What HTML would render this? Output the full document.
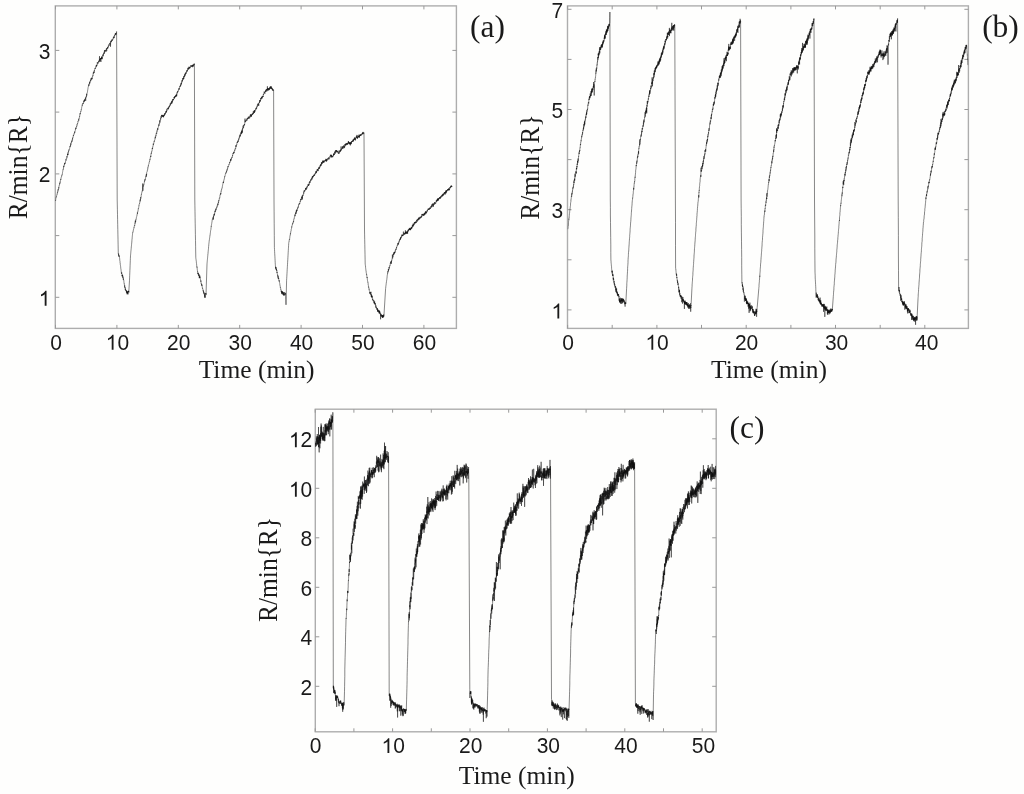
<!DOCTYPE html>
<html><head><meta charset="utf-8"><style>
html,body{margin:0;padding:0;background:#fefefd;}
body{width:1024px;height:794px;overflow:hidden;position:relative;}
svg{position:absolute;left:0;top:0;will-change:transform;}
.t{font-family:"Liberation Sans",sans-serif;font-size:21px;fill:#1a1a1a;}
.s{font-family:"Liberation Serif",serif;fill:#1a1a1a;}
</style></head><body>
<svg width="1024" height="794" viewBox="0 0 1024 794">
<rect x="55.3" y="5.9" width="401.1" height="322.5" fill="none" stroke="#adadad" stroke-width="1.4"/>
<path d="M55.5 328.4v-3.5M55.5 5.9v3.5M116.9 328.4v-3.5M116.9 5.9v3.5M178.3 328.4v-3.5M178.3 5.9v3.5M239.7 328.4v-3.5M239.7 5.9v3.5M301.1 328.4v-3.5M301.1 5.9v3.5M362.5 328.4v-3.5M362.5 5.9v3.5M423.9 328.4v-3.5M423.9 5.9v3.5M55.3 297.3h4M456.4 297.3h-4M55.3 235.6h4M456.4 235.6h-4M55.3 173.9h4M456.4 173.9h-4M55.3 112.1h4M456.4 112.1h-4M55.3 50.4h4M456.4 50.4h-4" stroke="#999" stroke-width="1" fill="none"/>
<rect x="567.5" y="5.9" width="400.9" height="322.5" fill="none" stroke="#adadad" stroke-width="1.4"/>
<path d="M567.6 328.4v-3.5M567.6 5.9v3.5M612.2 328.4v-3.5M612.2 5.9v3.5M656.9 328.4v-3.5M656.9 5.9v3.5M701.5 328.4v-3.5M701.5 5.9v3.5M746.2 328.4v-3.5M746.2 5.9v3.5M790.9 328.4v-3.5M790.9 5.9v3.5M835.5 328.4v-3.5M835.5 5.9v3.5M880.2 328.4v-3.5M880.2 5.9v3.5M924.8 328.4v-3.5M924.8 5.9v3.5M567.5 309.9h4M968.4 309.9h-4M567.5 259.8h4M968.4 259.8h-4M567.5 209.7h4M968.4 209.7h-4M567.5 159.6h4M968.4 159.6h-4M567.5 109.5h4M968.4 109.5h-4M567.5 59.4h4M968.4 59.4h-4M567.5 9.3h4M968.4 9.3h-4" stroke="#999" stroke-width="1" fill="none"/>
<rect x="315.3" y="409.2" width="400.9" height="322.6" fill="none" stroke="#adadad" stroke-width="1.4"/>
<path d="M315.2 731.8v-3.5M315.2 409.2v3.5M353.9 731.8v-3.5M353.9 409.2v3.5M392.6 731.8v-3.5M392.6 409.2v3.5M431.3 731.8v-3.5M431.3 409.2v3.5M470.0 731.8v-3.5M470.0 409.2v3.5M508.7 731.8v-3.5M508.7 409.2v3.5M547.4 731.8v-3.5M547.4 409.2v3.5M586.1 731.8v-3.5M586.1 409.2v3.5M624.8 731.8v-3.5M624.8 409.2v3.5M663.5 731.8v-3.5M663.5 409.2v3.5M702.2 731.8v-3.5M702.2 409.2v3.5M315.3 686.3h4M716.2 686.3h-4M315.3 636.8h4M716.2 636.8h-4M315.3 587.3h4M716.2 587.3h-4M315.3 537.8h4M716.2 537.8h-4M315.3 488.3h4M716.2 488.3h-4M315.3 438.8h4M716.2 438.8h-4" stroke="#999" stroke-width="1" fill="none"/>
<clipPath id="cpa"><rect x="55.3" y="5.9" width="401.1" height="322.5"/></clipPath>
<path clip-path="url(#cpa)" d="M55.4,200.8 55.5,200.0 55.6,200.5 55.7,199.7 55.8,198.6 55.9,198.1 56.0,197.6 56.1,197.2 56.2,197.4 56.3,197.0 56.4,196.3 56.5,196.6 56.6,196.2 56.7,195.4 56.8,195.0 56.9,194.9 57.0,195.0 57.1,193.6 57.2,193.6 57.3,193.7 57.4,192.4 57.5,191.9 57.6,192.5 57.7,191.8 57.8,191.0 57.9,190.6 58.0,191.2 58.1,190.2 58.2,189.1 58.3,189.8 58.4,189.2 58.5,188.6 58.6,188.3 58.7,187.4 58.8,188.4 58.9,186.9 59.0,186.4 59.1,185.7 59.2,185.8 59.3,185.5 59.4,185.0 59.5,184.7 59.6,183.4 59.7,184.2 59.8,184.0 59.9,182.9 60.0,183.1 60.1,181.8 60.2,182.3 60.3,181.4 60.4,180.7 60.5,180.5 60.6,179.8 60.7,179.3 60.8,180.0 60.9,178.6 61.0,178.6 61.1,178.4 61.2,177.2 61.3,177.2 61.4,176.8 61.5,176.6 61.6,176.7 61.7,175.3 61.8,175.5 61.9,175.6 62.0,175.5 62.1,174.7 62.2,174.9 62.3,174.0 62.4,173.5 62.5,172.7 62.6,172.1 62.7,171.5 62.8,171.3 62.9,170.2 63.0,169.8 63.1,170.0 63.2,168.9 63.3,169.1 63.4,169.1 63.5,168.2 63.6,166.9 63.7,165.8 63.8,167.1 63.9,167.1 64.0,166.2 64.1,166.1 64.2,165.7 64.3,164.6 64.4,164.2 64.5,164.5 64.6,163.0 64.7,164.2 64.8,163.7 64.9,163.5 65.0,162.9 65.1,163.5 65.2,162.7 65.3,162.2 65.4,162.4 65.5,161.4 65.6,161.4 65.7,160.9 65.8,160.5 65.9,159.4 66.0,160.4 66.1,160.4 66.2,159.0 66.3,158.5 66.4,158.7 66.5,158.6 66.6,158.7 66.7,158.6 66.8,158.5 66.9,156.4 67.0,157.4 67.1,156.2 67.2,156.2 67.3,155.7 67.4,155.7 67.5,155.2 67.6,153.8 67.7,155.0 67.8,153.9 67.9,155.1 68.0,152.8 68.1,152.5 68.2,153.3 68.3,152.2 68.4,151.9 68.5,150.9 68.6,151.5 68.7,150.5 68.8,150.4 68.9,149.7 69.0,150.4 69.1,150.3 69.2,149.4 69.3,149.4 69.4,149.2 69.5,149.2 69.6,148.7 69.7,147.8 69.8,147.3 69.9,146.6 70.0,146.2 70.1,146.1 70.2,147.1 70.3,145.9 70.4,145.7 70.5,144.9 70.6,145.7 70.7,143.9 70.8,143.4 70.9,144.7 71.0,143.3 71.1,143.0 71.2,142.7 71.3,142.1 71.4,142.5 71.5,142.4 71.6,141.6 71.7,141.0 71.8,141.0 71.9,141.9 72.0,140.3 72.1,140.3 72.2,140.8 72.3,139.2 72.4,139.3 72.5,138.4 72.6,139.4 72.7,137.9 72.8,137.6 72.9,137.9 73.0,137.2 73.1,136.8 73.2,136.7 73.3,135.6 73.4,134.9 73.5,135.7 73.6,134.9 73.7,135.1 73.8,134.9 73.9,134.8 74.0,134.3 74.1,133.6 74.2,133.9 74.3,133.5 74.4,133.2 74.5,132.7 74.6,131.7 74.7,132.9 74.8,132.8 74.9,131.4 75.0,131.4 75.1,131.4 75.2,130.9 75.3,130.5 75.4,129.5 75.5,129.8 75.6,129.1 75.7,127.7 75.8,128.9 75.9,128.8 76.0,128.3 76.1,128.5 76.2,128.0 76.3,127.8 76.4,126.9 76.5,126.7 76.6,126.2 76.7,126.6 76.8,125.8 76.9,125.8 77.0,124.7 77.1,125.2 77.2,124.3 77.3,124.1 77.4,123.5 77.5,123.9 77.6,123.7 77.7,122.9 77.8,122.7 77.9,122.6 78.0,121.1 78.1,121.4 78.2,121.1 78.3,120.7 78.4,120.6 78.5,120.2 78.6,119.3 78.7,120.3 78.8,120.6 78.9,119.8 79.0,118.5 79.1,118.8 79.2,118.2 79.3,117.9 79.4,117.2 79.5,116.3 79.6,116.6 79.7,116.7 79.8,114.7 79.9,114.8 80.0,113.7 80.1,113.9 80.2,113.3 80.3,114.1 80.4,113.3 80.5,112.6 80.6,112.3 80.7,111.3 80.8,111.6 80.9,111.6 81.0,111.3 81.1,111.2 81.2,109.8 81.3,109.1 81.4,109.4 81.5,109.0 81.6,108.4 81.7,107.4 81.8,107.3 81.9,106.8 82.0,106.0 82.1,105.8 82.2,104.7 82.3,105.5 82.4,105.2 82.5,105.2 82.6,104.5 82.7,103.6 82.8,103.5 82.9,103.9 83.0,103.3 83.1,103.4 83.2,102.9 83.3,103.6 83.4,102.9 83.5,102.3 83.6,101.9 83.7,100.9 83.8,100.6 83.9,101.3 84.0,102.2 84.1,101.0 84.2,100.9 84.3,100.5 84.4,101.4 84.5,100.0 84.6,100.8 84.7,99.2 84.8,100.3 84.9,100.7 85.0,99.6 85.1,99.3 85.2,98.8 85.3,99.1 85.4,98.7 85.5,97.5 85.6,99.3 85.7,100.8 85.8,98.2 85.9,97.5 86.0,97.6 86.1,96.7 86.2,97.2 86.3,97.2 86.4,96.1 86.5,96.5 86.6,93.8 86.7,95.7 86.8,95.1 86.9,94.5 87.0,93.6 87.1,93.0 87.2,92.8 87.3,92.5 87.4,91.9 87.5,91.8 87.6,90.8 87.7,90.0 87.8,89.5 87.9,89.1 88.0,88.2 88.1,87.4 88.2,87.1 88.3,87.0 88.4,86.1 88.5,86.1 88.6,85.2 88.7,85.6 88.8,84.4 88.9,84.4 89.0,85.6 89.1,84.0 89.2,84.1 89.3,83.5 89.4,83.0 89.5,83.4 89.6,82.2 89.7,83.6 89.8,81.6 89.9,82.2 90.0,82.4 90.1,82.3 90.2,81.8 90.3,81.3 90.4,80.7 90.5,81.0 90.6,80.2 90.7,81.2 90.8,80.9 90.9,79.4 91.0,78.5 91.1,79.9 91.2,78.9 91.3,79.1 91.4,78.3 91.5,78.2 91.6,78.8 91.7,79.2 91.8,77.9 91.9,77.6 92.0,78.1 92.1,79.2 92.2,79.0 92.3,77.3 92.4,76.7 92.5,76.3 92.6,76.1 92.7,76.4 92.8,75.8 92.9,75.1 93.0,75.6 93.1,74.2 93.2,73.8 93.3,72.6 93.4,73.4 93.5,72.5 93.6,73.3 93.7,73.3 93.8,72.7 93.9,72.0 94.0,71.5 94.1,73.0 94.2,70.8 94.3,71.2 94.4,70.2 94.5,70.6 94.6,69.8 94.7,69.5 94.8,68.7 94.9,68.8 95.0,68.3 95.1,68.5 95.2,67.9 95.3,68.6 95.4,68.5 95.5,68.7 95.6,68.2 95.7,67.2 95.8,66.6 95.9,67.2 96.0,66.9 96.1,66.8 96.2,66.2 96.3,65.0 96.4,66.0 96.5,66.5 96.6,65.2 96.7,66.0 96.8,66.0 96.9,64.7 97.0,65.1 97.1,65.1 97.2,64.6 97.3,62.3 97.4,63.0 97.5,63.2 97.6,63.2 97.7,63.5 97.8,62.8 97.9,63.3 98.0,62.6 98.1,63.2 98.2,62.5 98.3,62.3 98.4,62.2 98.5,62.2 98.6,62.0 98.7,60.7 98.8,62.2 98.9,62.2 99.0,61.4 99.1,61.1 99.2,61.0 99.3,61.3 99.4,59.6 99.5,56.2 99.6,60.4 99.7,60.4 99.8,61.5 99.9,59.0 100.0,60.8 100.1,59.5 100.2,59.8 100.3,60.2 100.4,58.8 100.5,58.6 100.6,58.0 100.7,59.1 100.8,58.1 100.9,62.0 101.0,58.1 101.1,59.0 101.2,58.9 101.3,58.8 101.4,57.8 101.5,56.5 101.6,59.0 101.7,57.3 101.8,58.8 101.9,58.3 102.0,59.3 102.1,57.0 102.2,58.5 102.3,57.0 102.4,56.7 102.5,56.4 102.6,56.3 102.7,55.8 102.8,55.5 102.9,56.5 103.0,54.7 103.1,55.8 103.2,54.3 103.3,55.2 103.4,54.8 103.5,54.0 103.6,53.7 103.7,53.1 103.8,52.7 103.9,53.7 104.0,52.9 104.1,53.6 104.2,53.8 104.3,52.0 104.4,50.8 104.5,51.7 104.6,52.8 104.7,50.0 104.8,50.7 104.9,50.4 105.0,50.6 105.1,50.5 105.2,50.7 105.3,51.2 105.4,50.0 105.5,50.2 105.6,50.1 105.7,50.6 105.8,51.2 105.9,51.9 106.0,51.2 106.1,50.8 106.2,49.2 106.3,49.4 106.4,48.5 106.5,49.7 106.6,49.5 106.7,51.1 106.8,49.3 106.9,48.2 107.0,48.8 107.1,48.5 107.2,49.0 107.3,48.2 107.4,47.4 107.5,47.3 107.6,48.1 107.7,47.3 107.8,48.4 107.9,47.5 108.0,47.6 108.1,47.8 108.2,46.6 108.3,45.8 108.4,46.7 108.5,46.3 108.6,46.0 108.7,45.5 108.8,44.5 108.9,45.3 109.0,45.4 109.1,45.5 109.2,45.8 109.3,45.4 109.4,44.7 109.5,43.5 109.6,43.3 109.7,43.2 109.8,43.2 109.9,44.0 110.0,44.5 110.1,43.2 110.2,43.3 110.3,42.6 110.4,42.4 110.5,46.7 110.6,43.4 110.7,41.3 110.8,40.8 110.9,41.8 111.0,42.2 111.1,41.9 111.2,41.1 111.3,42.1 111.4,42.0 111.5,40.4 111.6,40.8 111.7,40.9 111.8,39.8 111.9,39.8 112.0,40.3 112.1,39.6 112.2,40.3 112.3,39.7 112.4,40.5 112.5,39.9 112.6,39.7 112.7,39.6 112.8,39.8 112.9,39.4 113.0,38.6 113.1,38.5 113.2,37.9 113.3,38.3 113.4,37.2 113.5,37.4 113.6,37.0 113.7,37.2 113.8,38.2 113.9,36.9 114.0,36.2 114.1,37.1 114.2,37.8 114.3,36.5 114.4,35.6 114.5,35.2 114.6,35.8 114.7,36.0 114.8,35.9 114.9,34.9 115.0,34.5 115.1,34.6 115.2,33.8 115.3,34.6 115.4,33.5 115.5,34.1 115.6,33.6 115.7,34.8 115.8,33.3 115.9,33.2 116.0,33.3 116.1,34.4 116.2,33.2 116.3,33.4 116.4,32.4 116.5,32.4 116.6,31.5 117.2,200.0 117.3,204.9 117.4,209.8 117.5,214.7 117.6,219.6 117.7,224.5 117.8,229.4 117.9,234.2 118.0,239.1 118.1,244.1 118.2,248.9 118.3,253.8 118.4,253.9 118.5,254.8 118.6,253.5 118.7,256.3 118.8,255.2 118.9,254.9 119.0,255.9 119.1,256.6 119.2,256.7 119.3,255.8 119.4,256.7 119.5,257.5 119.6,258.0 119.7,258.9 119.8,260.6 119.9,260.7 120.0,261.5 120.1,262.9 120.2,263.0 120.3,264.7 120.4,265.2 120.5,265.5 120.6,266.4 120.7,267.1 120.8,268.6 120.9,268.7 121.0,269.6 121.1,270.5 121.2,271.2 121.3,272.3 121.4,273.3 121.5,273.9 121.6,272.3 121.7,272.3 121.8,272.8 121.9,273.9 122.0,274.1 122.1,276.0 122.2,274.9 122.3,276.7 122.4,275.6 122.5,276.1 122.6,274.8 122.7,275.8 122.8,277.3 122.9,278.0 123.0,276.6 123.1,278.2 123.2,278.6 123.3,279.7 123.4,278.4 123.5,280.0 123.6,280.1 123.7,279.9 123.8,280.7 123.9,281.5 124.0,282.6 124.1,283.2 124.2,283.0 124.3,283.8 124.4,285.3 124.5,285.6 124.6,286.8 124.7,285.4 124.8,287.6 124.9,287.0 125.0,287.7 125.1,288.1 125.2,287.7 125.3,290.1 125.4,288.6 125.5,289.0 125.6,290.3 125.7,290.6 125.8,289.8 125.9,290.5 126.0,290.7 126.1,290.9 126.2,290.9 126.3,290.4 126.4,292.3 126.5,290.6 126.6,292.2 126.7,291.3 126.8,292.4 126.9,292.9 127.0,291.7 127.1,294.3 127.2,291.9 127.3,293.6 127.4,291.7 127.5,293.4 127.6,292.1 127.7,291.3 127.8,293.1 127.9,293.2 128.0,294.4 128.1,294.2 128.2,292.0 128.3,290.8 128.4,292.0 128.5,290.9 128.6,291.8 128.7,291.0 128.8,292.6 128.9,290.3 129.5,280.3 129.6,277.9 129.7,275.4 129.8,272.9 129.9,270.4 130.0,268.0 130.1,265.6 130.2,263.1 130.3,260.7 130.4,258.3 130.5,255.8 130.6,254.8 130.7,253.8 130.8,252.4 130.9,251.4 131.0,250.4 131.1,249.4 131.2,248.6 131.3,247.0 131.4,246.2 131.5,245.3 131.6,244.3 131.7,243.1 131.8,242.1 131.9,240.8 132.0,239.4 132.1,239.0 132.2,237.5 132.3,236.4 132.4,235.4 132.5,234.4 132.6,233.3 132.7,232.7 132.8,232.9 132.9,231.9 133.0,231.5 133.1,231.4 133.2,231.5 133.3,230.3 133.4,229.9 133.5,229.9 133.6,229.1 133.7,229.0 133.8,228.4 133.9,227.8 134.0,227.3 134.1,227.6 134.2,226.6 134.3,226.5 134.4,225.6 134.5,225.5 134.6,225.9 134.7,226.0 134.8,224.5 134.9,223.8 135.0,222.8 135.1,223.4 135.2,223.2 135.3,220.7 135.4,222.4 135.5,221.6 135.6,220.7 135.7,221.5 135.8,219.8 135.9,220.0 136.0,219.4 136.1,219.0 136.2,219.1 136.3,218.1 136.4,217.5 136.5,216.8 136.6,216.7 136.7,216.6 136.8,216.3 136.9,216.0 137.0,214.7 137.1,214.7 137.2,214.0 137.3,213.9 137.4,212.5 137.5,213.7 137.6,212.4 137.7,211.8 137.8,211.4 137.9,211.5 138.0,211.2 138.1,210.3 138.2,210.0 138.3,208.4 138.4,208.8 138.5,208.5 138.6,208.4 138.7,207.6 138.8,207.1 138.9,205.9 139.0,205.1 139.1,205.3 139.2,204.4 139.3,204.1 139.4,203.9 139.5,203.3 139.6,203.6 139.7,202.7 139.8,202.7 139.9,201.9 140.0,200.5 140.1,200.4 140.2,201.3 140.3,199.3 140.4,200.3 140.5,198.9 140.6,197.4 140.7,197.2 140.8,198.6 140.9,197.5 141.0,196.9 141.1,196.9 141.2,195.6 141.3,194.7 141.4,195.0 141.5,194.4 141.6,193.3 141.7,193.3 141.8,192.5 141.9,192.0 142.0,191.7 142.1,191.4 142.2,190.8 142.3,191.2 142.4,190.8 142.5,190.1 142.6,189.5 142.7,183.5 142.8,189.0 142.9,190.8 143.0,187.7 143.1,186.8 143.2,186.6 143.3,185.8 143.4,185.6 143.5,186.3 143.6,185.6 143.7,184.5 143.8,184.9 143.9,184.4 144.0,183.9 144.1,183.4 144.2,183.1 144.3,182.7 144.4,181.6 144.5,182.0 144.6,181.0 144.7,180.3 144.8,181.0 144.9,180.5 145.0,179.2 145.1,179.9 145.2,178.9 145.3,179.1 145.4,178.8 145.5,178.3 145.6,177.5 145.7,177.5 145.8,176.3 145.9,176.3 146.0,176.7 146.1,175.5 146.2,174.8 146.3,174.4 146.4,176.5 146.5,173.9 146.6,174.7 146.7,172.6 146.8,172.2 146.9,172.0 147.0,171.9 147.1,171.5 147.2,170.8 147.3,170.9 147.4,170.2 147.5,170.2 147.6,169.4 147.7,169.5 147.8,167.8 147.9,168.1 148.0,167.2 148.1,166.7 148.2,166.7 148.3,165.7 148.4,166.1 148.5,165.7 148.6,164.7 148.7,164.4 148.8,164.0 148.9,163.8 149.0,163.2 149.1,163.2 149.2,162.1 149.3,161.9 149.4,161.7 149.5,161.0 149.6,161.3 149.7,161.0 149.8,159.6 149.9,159.0 150.0,159.2 150.1,159.5 150.2,158.5 150.3,157.7 150.4,157.2 150.5,156.7 150.6,156.7 150.7,155.9 150.8,157.0 150.9,154.8 151.0,154.4 151.1,154.2 151.2,153.3 151.3,153.9 151.4,153.2 151.5,151.9 151.6,152.2 151.7,151.5 151.8,151.5 151.9,151.1 152.0,151.2 152.1,150.6 152.2,149.7 152.3,148.0 152.4,148.8 152.5,147.9 152.6,148.4 152.7,147.0 152.8,146.5 152.9,146.6 153.0,146.3 153.1,146.1 153.2,145.3 153.3,143.6 153.4,144.8 153.5,144.1 153.6,144.1 153.7,143.7 153.8,142.9 153.9,142.7 154.0,141.8 154.1,141.5 154.2,141.9 154.3,140.8 154.4,140.9 154.5,141.2 154.6,140.3 154.7,140.3 154.8,140.1 154.9,139.6 155.0,138.4 155.1,137.7 155.2,138.3 155.3,136.7 155.4,137.2 155.5,137.8 155.6,136.5 155.7,136.7 155.8,136.2 155.9,134.9 156.0,135.5 156.1,134.8 156.2,133.6 156.3,133.9 156.4,132.7 156.5,132.7 156.6,132.8 156.7,133.6 156.8,132.2 156.9,131.2 157.0,130.7 157.1,131.4 157.2,131.1 157.3,129.7 157.4,129.4 157.5,129.5 157.6,128.2 157.7,129.4 157.8,130.0 157.9,128.6 158.0,128.7 158.1,127.6 158.2,127.5 158.3,127.3 158.4,126.7 158.5,126.8 158.6,126.2 158.7,125.7 158.8,124.5 158.9,125.9 159.0,124.7 159.1,124.4 159.2,124.6 159.3,123.1 159.4,122.8 159.5,122.9 159.6,123.4 159.7,122.7 159.8,120.3 159.9,122.5 160.0,121.1 160.1,120.7 160.2,120.4 160.3,120.4 160.4,120.4 160.5,118.6 160.6,119.1 160.7,118.7 160.8,119.3 160.9,117.1 161.0,117.0 161.1,117.0 161.2,116.1 161.3,117.9 161.4,116.6 161.5,115.2 161.6,115.8 161.7,116.1 161.8,115.6 161.9,115.9 162.0,114.8 162.1,116.1 162.2,116.4 162.3,115.6 162.4,116.0 162.5,116.9 162.6,115.3 162.7,115.5 162.8,115.8 162.9,115.2 163.0,115.3 163.1,116.3 163.2,116.0 163.3,117.2 163.4,114.8 163.5,115.4 163.6,117.2 163.7,115.9 163.8,115.4 163.9,115.7 164.0,115.8 164.1,115.9 164.2,115.1 164.3,115.4 164.4,115.6 164.5,115.8 164.6,113.8 164.7,115.0 164.8,113.5 164.9,113.8 165.0,114.2 165.1,113.0 165.2,114.1 165.3,113.9 165.4,113.4 165.5,112.5 165.6,112.8 165.7,112.2 165.8,111.8 165.9,112.4 166.0,112.4 166.1,111.1 166.2,112.5 166.3,111.2 166.4,110.9 166.5,112.1 166.6,110.9 166.7,111.1 166.8,109.4 166.9,110.6 167.0,109.8 167.1,109.2 167.2,109.3 167.3,108.4 167.4,108.8 167.5,109.1 167.6,109.2 167.7,109.1 167.8,108.3 167.9,108.7 168.0,108.4 168.1,108.8 168.2,107.9 168.3,107.3 168.4,107.2 168.5,109.3 168.6,108.0 168.7,107.5 168.8,107.8 168.9,107.1 169.0,106.9 169.1,106.0 169.2,106.4 169.3,107.2 169.4,106.0 169.5,106.3 169.6,105.8 169.7,106.2 169.8,105.3 169.9,105.9 170.0,104.1 170.1,104.0 170.2,103.9 170.3,103.3 170.4,104.2 170.5,104.1 170.6,105.2 170.7,103.4 170.8,103.1 170.9,103.3 171.0,103.4 171.1,102.5 171.2,102.3 171.3,103.9 171.4,103.4 171.5,102.4 171.6,103.2 171.7,101.2 171.8,100.8 171.9,101.5 172.0,101.1 172.1,103.3 172.2,101.0 172.3,101.7 172.4,101.1 172.5,100.8 172.6,101.1 172.7,99.2 172.8,100.9 172.9,100.0 173.0,99.7 173.1,99.2 173.2,99.8 173.3,99.2 173.4,99.8 173.5,99.2 173.6,99.6 173.7,98.6 173.8,98.5 173.9,98.4 174.0,97.8 174.1,97.0 174.2,98.1 174.3,97.2 174.4,97.2 174.5,98.6 174.6,96.5 174.7,98.0 174.8,97.3 174.9,97.1 175.0,96.2 175.1,96.8 175.2,96.1 175.3,96.5 175.4,96.3 175.5,95.7 175.6,96.8 175.7,95.6 175.8,96.5 175.9,96.0 176.0,95.1 176.1,95.5 176.2,94.6 176.3,95.5 176.4,96.3 176.5,94.4 176.6,94.7 176.7,96.2 176.8,93.6 176.9,94.3 177.0,93.9 177.1,92.4 177.2,93.0 177.3,92.9 177.4,92.0 177.5,91.8 177.6,92.3 177.7,91.1 177.8,92.1 177.9,91.8 178.0,91.1 178.1,90.8 178.2,90.8 178.3,91.0 178.4,90.5 178.5,89.3 178.6,89.3 178.7,89.1 178.8,88.9 178.9,88.6 179.0,88.2 179.1,89.6 179.2,88.6 179.3,89.3 179.4,87.6 179.5,87.4 179.6,87.3 179.7,86.9 179.8,86.5 179.9,87.1 180.0,87.1 180.1,85.8 180.2,86.6 180.3,86.4 180.4,85.7 180.5,85.9 180.6,84.7 180.7,85.9 180.8,84.9 180.9,84.5 181.0,83.7 181.1,84.6 181.2,82.8 181.3,84.2 181.4,83.0 181.5,83.3 181.6,82.4 181.7,82.2 181.8,82.6 181.9,80.7 182.0,81.7 182.1,80.6 182.2,80.4 182.3,80.0 182.4,81.2 182.5,80.1 182.6,80.3 182.7,79.6 182.8,78.0 182.9,80.0 183.0,78.8 183.1,78.6 183.2,78.4 183.3,78.2 183.4,79.1 183.5,78.0 183.6,78.3 183.7,76.5 183.8,78.8 183.9,76.4 184.0,76.8 184.1,76.7 184.2,77.0 184.3,75.8 184.4,76.6 184.5,75.9 184.6,75.4 184.7,75.8 184.8,74.0 184.9,76.2 185.0,74.8 185.1,74.9 185.2,73.8 185.3,73.0 185.4,73.7 185.5,74.5 185.6,73.9 185.7,72.5 185.8,73.5 185.9,73.5 186.0,73.6 186.1,72.8 186.2,73.4 186.3,72.4 186.4,72.7 186.5,71.2 186.6,71.0 186.7,71.3 186.8,71.6 186.9,70.6 187.0,71.2 187.1,70.0 187.2,71.1 187.3,71.3 187.4,70.4 187.5,70.6 187.6,69.5 187.7,69.6 187.8,69.8 187.9,70.0 188.0,68.0 188.1,69.2 188.2,67.7 188.3,68.9 188.4,68.5 188.5,69.2 188.6,69.0 188.7,69.3 188.8,68.8 188.9,66.8 189.0,67.4 189.1,68.7 189.2,69.0 189.3,66.8 189.4,67.3 189.5,68.0 189.6,67.2 189.7,67.1 189.8,67.9 189.9,68.1 190.0,67.8 190.1,67.7 190.2,68.0 190.3,68.1 190.4,66.9 190.5,66.6 190.6,66.7 190.7,66.7 190.8,66.5 190.9,65.2 191.0,66.6 191.1,66.8 191.2,65.6 191.3,66.4 191.4,66.6 191.5,66.3 191.6,66.3 191.7,65.6 191.8,65.6 191.9,65.6 192.0,66.1 192.1,66.3 192.2,65.6 192.3,66.0 192.4,67.2 192.5,64.9 192.6,65.8 192.7,66.3 192.8,64.8 192.9,65.0 193.0,65.7 193.1,65.3 193.2,65.1 193.3,66.6 193.4,65.9 193.5,64.4 193.6,64.4 193.7,65.2 193.8,65.1 193.9,64.9 194.0,65.2 194.1,63.7 194.2,64.6 194.3,63.8 194.4,63.8 194.8,200.0 194.9,205.8 195.0,211.6 195.1,217.3 195.2,223.1 195.3,228.9 195.4,234.7 195.5,240.5 195.6,246.2 195.7,252.0 195.8,257.7 195.9,258.6 196.0,259.5 196.1,259.7 196.2,260.7 196.3,261.3 196.4,262.9 196.5,263.4 196.6,264.0 196.7,265.6 196.8,266.6 196.9,266.3 197.0,267.8 197.1,267.4 197.2,268.9 197.3,269.9 197.4,270.5 197.5,271.4 197.6,271.1 197.7,272.2 197.8,273.3 197.9,274.0 198.0,272.7 198.1,274.3 198.2,274.3 198.3,273.9 198.4,273.1 198.5,275.8 198.6,275.8 198.7,274.1 198.8,274.5 198.9,274.5 199.0,275.5 199.1,274.6 199.2,275.1 199.3,278.2 199.4,275.6 199.5,277.1 199.6,278.0 199.7,276.8 199.8,276.8 199.9,275.7 200.0,277.8 200.1,277.2 200.2,278.1 200.3,278.8 200.4,278.8 200.5,279.5 200.6,280.4 200.7,281.1 200.8,281.7 200.9,280.5 201.0,282.5 201.1,282.7 201.2,283.7 201.3,283.3 201.4,283.6 201.5,283.9 201.6,285.4 201.7,284.1 201.8,285.5 201.9,285.7 202.0,284.9 202.1,285.5 202.2,286.8 202.3,287.3 202.4,288.4 202.5,288.4 202.6,287.9 202.7,288.6 202.8,288.9 202.9,289.2 203.0,290.0 203.1,291.1 203.2,290.5 203.3,290.6 203.4,291.7 203.5,290.8 203.6,292.2 203.7,293.0 203.8,291.9 203.9,293.4 204.0,293.9 204.1,292.9 204.2,294.3 204.3,294.0 204.4,293.5 204.5,293.7 204.6,296.5 204.7,294.2 204.8,296.3 204.9,297.9 205.0,295.6 205.1,297.5 205.2,296.2 205.3,296.1 205.4,295.7 205.5,295.2 205.6,294.7 205.7,293.0 205.8,294.1 205.9,293.4 206.0,295.1 207.0,263.9 207.1,262.8 207.2,261.7 207.3,260.5 207.4,259.5 207.5,258.7 207.6,257.7 207.7,256.3 207.8,255.4 207.9,254.0 208.0,253.5 208.1,252.0 208.2,251.4 208.3,250.2 208.4,249.3 208.5,248.3 208.6,246.5 208.7,246.2 208.8,244.4 208.9,243.6 209.0,242.8 209.1,241.6 209.2,241.3 209.3,240.0 209.4,239.7 209.5,238.8 209.6,238.1 209.7,237.5 209.8,236.8 209.9,236.0 210.0,235.0 210.1,235.0 210.2,234.2 210.3,233.2 210.4,232.6 210.5,231.6 210.6,230.9 210.7,230.3 210.8,229.8 210.9,229.6 211.0,228.0 211.1,227.5 211.2,226.3 211.3,226.7 211.4,225.2 211.5,225.0 211.6,224.4 211.7,223.6 211.8,223.2 211.9,222.2 212.0,221.7 212.1,220.8 212.2,219.9 212.3,219.7 212.4,219.2 212.5,219.0 212.6,219.3 212.7,218.8 212.8,218.5 212.9,218.1 213.0,218.6 213.1,218.2 213.2,217.0 213.3,219.7 213.4,216.6 213.5,216.2 213.6,217.1 213.7,215.6 213.8,215.8 213.9,215.5 214.0,214.3 214.1,215.7 214.2,215.4 214.3,214.0 214.4,213.6 214.5,214.8 214.6,214.0 214.7,213.2 214.8,212.0 214.9,211.8 215.0,212.0 215.1,210.8 215.2,212.1 215.3,210.7 215.4,210.8 215.5,210.1 215.6,209.9 215.7,210.5 215.8,208.7 215.9,210.1 216.0,209.7 216.1,209.2 216.2,209.2 216.3,208.4 216.4,208.6 216.5,208.1 216.6,207.9 216.7,207.2 216.8,207.7 216.9,206.8 217.0,205.8 217.1,206.1 217.2,206.2 217.3,206.4 217.4,205.8 217.5,205.9 217.6,205.2 217.7,203.6 217.8,203.8 217.9,205.2 218.0,204.9 218.1,204.0 218.2,203.9 218.3,203.1 218.4,201.6 218.5,202.6 218.6,202.6 218.7,201.4 218.8,200.0 218.9,200.6 219.0,200.1 219.1,199.8 219.2,199.7 219.3,198.6 219.4,198.2 219.5,198.0 219.6,198.3 219.7,197.2 219.8,197.4 219.9,196.5 220.0,195.0 220.1,195.0 220.2,194.8 220.3,195.0 220.4,194.4 220.5,193.8 220.6,194.3 220.7,193.2 220.8,194.2 220.9,192.9 221.0,191.8 221.1,192.0 221.2,191.6 221.3,190.1 221.4,190.2 221.5,189.7 221.6,189.2 221.7,189.4 221.8,188.7 221.9,188.8 222.0,188.4 222.1,187.9 222.2,187.3 222.3,187.4 222.4,186.3 222.5,186.0 222.6,185.3 222.7,184.5 222.8,184.3 222.9,184.2 223.0,183.4 223.1,183.0 223.2,182.0 223.3,182.6 223.4,181.7 223.5,182.7 223.6,181.6 223.7,181.6 223.8,180.5 223.9,179.9 224.0,179.9 224.1,179.4 224.2,179.4 224.3,178.9 224.4,178.0 224.5,178.0 224.6,176.6 224.7,177.0 224.8,176.9 224.9,176.2 225.0,176.1 225.1,175.7 225.2,174.6 225.3,174.5 225.4,174.4 225.5,173.4 225.6,173.4 225.7,173.3 225.8,173.6 225.9,173.7 226.0,172.1 226.1,172.0 226.2,171.9 226.3,172.5 226.4,172.5 226.5,170.8 226.6,171.6 226.7,171.4 226.8,170.7 226.9,170.5 227.0,169.5 227.1,169.7 227.2,170.3 227.3,170.1 227.4,168.5 227.5,168.3 227.6,167.8 227.7,168.4 227.8,167.4 227.9,166.1 228.0,166.4 228.1,166.5 228.2,166.9 228.3,167.1 228.4,166.6 228.5,166.2 228.6,165.8 228.7,165.5 228.8,165.2 228.9,164.3 229.0,164.1 229.1,164.4 229.2,164.5 229.3,164.2 229.4,164.0 229.5,162.5 229.6,162.3 229.7,162.9 229.8,162.3 229.9,162.5 230.0,161.7 230.1,161.5 230.2,161.5 230.3,161.4 230.4,160.7 230.5,159.4 230.6,161.2 230.7,161.1 230.8,159.6 230.9,159.1 231.0,160.2 231.1,160.3 231.2,159.1 231.3,158.1 231.4,158.4 231.5,158.6 231.6,158.0 231.7,157.6 231.8,157.8 231.9,157.1 232.0,156.9 232.1,156.9 232.2,157.5 232.3,157.2 232.4,156.2 232.5,155.4 232.6,156.0 232.7,155.2 232.8,154.3 232.9,153.7 233.0,153.3 233.1,153.8 233.2,154.0 233.3,153.6 233.4,152.9 233.5,152.4 233.6,153.4 233.7,152.6 233.8,152.2 233.9,151.8 234.0,151.8 234.1,152.6 234.2,153.1 234.3,151.9 234.4,151.3 234.5,150.9 234.6,150.4 234.7,150.7 234.8,150.9 234.9,149.6 235.0,149.2 235.1,149.5 235.2,149.0 235.3,148.3 235.4,148.0 235.5,148.3 235.6,148.4 235.7,148.6 235.8,146.4 235.9,146.7 236.0,145.1 236.1,146.8 236.2,146.0 236.3,145.3 236.4,145.4 236.5,144.9 236.6,144.7 236.7,145.0 236.8,144.6 236.9,143.4 237.0,143.3 237.1,143.2 237.2,142.0 237.3,142.9 237.4,142.6 237.5,142.5 237.6,142.8 237.7,142.2 237.8,140.7 237.9,141.9 238.0,141.0 238.1,141.2 238.2,141.1 238.3,140.7 238.4,141.3 238.5,140.9 238.6,139.2 238.7,138.8 238.8,139.7 238.9,138.6 239.0,138.2 239.1,137.8 239.2,138.4 239.3,137.9 239.4,136.5 239.5,137.4 239.6,137.3 239.7,136.0 239.8,136.0 239.9,135.1 240.0,135.5 240.1,135.8 240.2,134.3 240.3,136.5 240.4,135.4 240.5,134.5 240.6,133.3 240.7,133.4 240.8,133.2 240.9,132.6 241.0,133.7 241.1,133.3 241.2,132.6 241.3,133.2 241.4,132.0 241.5,130.7 241.6,134.2 241.7,131.8 241.8,131.4 241.9,132.7 242.0,130.7 242.1,130.2 242.2,129.3 242.3,129.5 242.4,132.6 242.5,129.4 242.6,128.3 242.7,129.2 242.8,128.3 242.9,128.4 243.0,127.5 243.1,125.7 243.2,128.1 243.3,127.7 243.4,127.3 243.5,126.9 243.6,127.4 243.7,126.0 243.8,125.1 243.9,126.1 244.0,125.2 244.1,124.8 244.2,124.6 244.3,125.2 244.4,124.2 244.5,124.6 244.6,125.0 244.7,123.7 244.8,122.9 244.9,121.9 245.0,118.6 245.1,122.2 245.2,122.1 245.3,121.4 245.4,120.5 245.5,121.8 245.6,121.8 245.7,121.9 245.8,121.8 245.9,121.2 246.0,120.8 246.1,121.0 246.2,120.7 246.3,120.6 246.4,120.8 246.5,119.8 246.6,120.0 246.7,119.7 246.8,119.5 246.9,120.7 247.0,119.0 247.1,118.3 247.2,119.5 247.3,119.4 247.4,119.1 247.5,118.2 247.6,119.0 247.7,118.8 247.8,118.2 247.9,118.3 248.0,117.6 248.1,117.5 248.2,117.8 248.3,118.4 248.4,116.6 248.5,118.3 248.6,118.0 248.7,117.7 248.8,118.4 248.9,118.4 249.0,118.6 249.1,118.6 249.2,118.0 249.3,117.2 249.4,116.6 249.5,116.6 249.6,116.5 249.7,118.2 249.8,117.7 249.9,117.2 250.0,116.3 250.1,115.6 250.2,116.4 250.3,115.9 250.4,114.4 250.5,114.8 250.6,115.7 250.7,116.8 250.8,115.5 250.9,115.0 251.0,114.4 251.1,115.6 251.2,114.5 251.3,116.8 251.4,115.8 251.5,115.1 251.6,116.1 251.7,114.7 251.8,114.5 251.9,114.3 252.0,114.4 252.1,114.8 252.2,114.2 252.3,113.5 252.4,113.6 252.5,114.8 252.6,115.0 252.7,113.5 252.8,113.7 252.9,114.1 253.0,112.9 253.1,113.4 253.2,112.4 253.3,111.3 253.4,112.4 253.5,113.8 253.6,111.7 253.7,111.6 253.8,112.1 253.9,111.8 254.0,112.6 254.1,112.5 254.2,110.5 254.3,110.3 254.4,112.3 254.5,113.0 254.6,110.2 254.7,111.7 254.8,111.1 254.9,111.6 255.0,111.1 255.1,110.7 255.2,109.9 255.3,110.2 255.4,110.1 255.5,109.8 255.6,110.2 255.7,109.3 255.8,108.5 255.9,109.0 256.0,109.4 256.1,108.2 256.2,108.7 256.3,108.3 256.4,107.3 256.5,107.9 256.6,108.7 256.7,107.8 256.8,106.8 256.9,106.5 257.0,106.3 257.1,106.3 257.2,107.1 257.3,105.3 257.4,104.8 257.5,105.3 257.6,104.9 257.7,104.3 257.8,104.3 257.9,105.8 258.0,104.5 258.1,103.5 258.2,103.3 258.3,104.0 258.4,104.5 258.5,104.6 258.6,103.6 258.7,105.9 258.8,104.5 258.9,103.4 259.0,103.1 259.1,102.9 259.2,102.3 259.3,102.5 259.4,101.9 259.5,102.8 259.6,100.7 259.7,101.4 259.8,101.6 259.9,100.3 260.0,101.4 260.1,100.2 260.2,101.2 260.3,100.6 260.4,101.2 260.5,100.2 260.6,99.9 260.7,98.2 260.8,99.5 260.9,99.2 261.0,98.1 261.1,98.7 261.2,98.8 261.3,99.1 261.4,97.0 261.5,97.6 261.6,97.9 261.7,98.4 261.8,97.4 261.9,97.9 262.0,96.6 262.1,96.8 262.2,98.4 262.3,96.1 262.4,96.7 262.5,96.6 262.6,96.6 262.7,95.9 262.8,96.2 262.9,96.1 263.0,96.7 263.1,96.2 263.2,96.9 263.3,94.2 263.4,94.6 263.5,94.4 263.6,94.9 263.7,94.2 263.8,93.6 263.9,93.9 264.0,93.7 264.1,93.2 264.2,91.5 264.3,92.4 264.4,92.2 264.5,92.0 264.6,93.0 264.7,93.0 264.8,92.7 264.9,93.7 265.0,92.6 265.1,91.9 265.2,91.8 265.3,92.0 265.4,91.1 265.5,91.5 265.6,90.6 265.7,91.8 265.8,89.9 265.9,90.3 266.0,90.8 266.1,91.6 266.2,90.5 266.3,89.1 266.4,89.6 266.5,89.4 266.6,90.6 266.7,89.9 266.8,90.0 266.9,89.7 267.0,88.9 267.1,91.2 267.2,89.7 267.3,88.7 267.4,86.3 267.5,90.2 267.6,90.3 267.7,88.1 267.8,88.7 267.9,89.1 268.0,89.6 268.1,89.8 268.2,88.1 268.3,88.9 268.4,90.5 268.5,89.3 268.6,89.5 268.7,88.7 268.8,89.1 268.9,89.6 269.0,88.0 269.1,88.8 269.2,88.5 269.3,90.1 269.4,89.4 269.5,89.6 269.6,88.2 269.7,88.8 269.8,87.2 269.9,87.5 270.0,88.5 270.1,86.7 270.2,88.9 270.3,88.7 270.4,88.2 270.5,88.2 270.6,86.6 270.7,87.8 270.8,87.2 270.9,86.4 271.0,86.7 271.1,87.9 271.2,86.5 271.3,89.0 271.4,88.2 271.5,87.6 271.6,87.8 271.7,88.7 271.8,88.1 271.9,87.8 272.0,89.3 272.1,88.2 272.2,88.5 272.3,88.5 272.4,90.2 272.5,89.3 272.6,89.4 272.7,89.0 272.8,90.5 272.9,90.7 273.0,89.0 273.1,89.6 273.2,90.6 273.3,90.3 273.4,90.4 273.5,90.1 273.6,90.1 274.0,200.0 274.1,211.9 274.2,223.8 274.3,235.7 274.4,247.6 274.5,249.5 274.6,251.3 274.7,253.2 274.8,255.0 274.9,256.7 275.0,258.6 275.1,260.5 275.2,262.3 275.3,264.2 275.4,265.8 275.5,266.8 275.6,268.7 275.7,266.8 275.8,267.5 275.9,268.2 276.0,267.3 276.1,268.4 276.2,269.8 276.3,268.5 276.4,270.0 276.5,269.3 276.6,270.6 276.7,271.0 276.8,270.2 276.9,271.6 277.0,272.9 277.1,271.9 277.2,273.2 277.3,274.2 277.4,274.5 277.5,274.3 277.6,274.5 277.7,276.3 277.8,275.3 277.9,276.5 278.0,276.7 278.1,278.4 278.2,276.2 278.3,277.3 278.4,278.5 278.5,278.2 278.6,279.0 278.7,278.2 278.8,279.7 278.9,279.9 279.0,280.9 279.1,281.4 279.2,280.4 279.3,280.9 279.4,280.8 279.5,282.5 279.6,282.8 279.7,283.3 279.8,283.7 279.9,284.9 280.0,285.7 280.1,285.7 280.2,286.3 280.3,286.9 280.4,288.0 280.5,287.7 280.6,287.9 280.7,288.7 280.8,289.9 280.9,289.7 281.0,290.5 281.1,291.1 281.2,291.7 281.3,291.0 281.4,291.4 281.5,290.7 281.6,293.3 281.7,294.1 281.8,291.0 281.9,293.1 282.0,292.5 282.1,292.9 282.2,291.8 282.3,293.0 282.4,293.4 282.5,292.2 282.6,291.3 282.7,294.3 282.8,294.5 282.9,292.1 283.0,294.3 283.1,294.0 283.2,293.9 283.3,293.7 283.4,293.2 283.5,294.8 283.6,292.2 283.7,293.1 283.8,295.0 283.9,295.7 284.0,294.0 284.1,295.5 284.2,295.1 284.3,294.5 284.4,294.0 284.5,293.1 284.6,292.3 284.7,292.1 284.8,292.5 284.9,295.0 285.0,294.0 285.1,293.7 285.2,293.3 285.3,294.2 285.4,293.5 285.5,293.7 285.6,293.4 285.7,296.4 285.8,299.2 285.9,302.0 286.0,304.8 286.6,280.2 286.7,278.5 286.8,276.8 286.9,275.0 287.0,273.3 287.1,271.6 287.2,269.7 287.3,267.9 287.4,266.3 287.5,264.7 287.6,262.7 287.7,261.0 287.8,259.3 287.9,257.5 288.0,255.8 288.1,254.2 288.2,252.3 288.3,250.5 288.4,248.8 288.5,247.1 288.6,245.4 288.7,243.7 288.8,242.6 288.9,242.0 289.0,241.6 289.1,241.7 289.2,240.5 289.3,239.9 289.4,239.3 289.5,239.0 289.6,239.5 289.7,238.3 289.8,237.5 289.9,236.6 290.0,235.6 290.1,235.7 290.2,235.6 290.3,234.5 290.4,233.6 290.5,234.2 290.6,232.8 290.7,232.8 290.8,231.8 290.9,231.2 291.0,231.2 291.1,230.9 291.2,229.5 291.3,229.0 291.4,228.8 291.5,228.6 291.6,227.5 291.7,226.7 291.8,227.3 291.9,226.1 292.0,225.9 292.1,225.5 292.2,224.9 292.3,224.7 292.4,224.9 292.5,223.8 292.6,223.2 292.7,223.7 292.8,223.6 292.9,223.2 293.0,223.3 293.1,222.3 293.2,222.6 293.3,221.8 293.4,221.4 293.5,221.0 293.6,221.8 293.7,219.9 293.8,220.0 293.9,219.2 294.0,218.8 294.1,218.9 294.2,218.3 294.3,218.4 294.4,217.2 294.5,217.0 294.6,217.0 294.7,216.0 294.8,215.4 294.9,214.6 295.0,216.0 295.1,216.1 295.2,215.3 295.3,215.3 295.4,213.6 295.5,213.4 295.6,213.7 295.7,212.7 295.8,213.7 295.9,212.7 296.0,213.6 296.1,211.7 296.2,212.6 296.3,210.4 296.4,210.7 296.5,211.8 296.6,210.7 296.7,211.2 296.8,209.6 296.9,211.0 297.0,211.0 297.1,209.7 297.2,209.3 297.3,209.0 297.4,209.2 297.5,207.9 297.6,208.3 297.7,208.1 297.8,208.3 297.9,207.0 298.0,206.9 298.1,206.7 298.2,207.6 298.3,206.7 298.4,206.8 298.5,205.4 298.6,205.6 298.7,205.1 298.8,204.2 298.9,204.3 299.0,203.8 299.1,204.5 299.2,204.2 299.3,203.7 299.4,204.0 299.5,203.4 299.6,203.0 299.7,203.5 299.8,203.7 299.9,202.5 300.0,202.4 300.1,201.7 300.2,201.0 300.3,201.6 300.4,200.9 300.5,200.1 300.6,200.3 300.7,199.4 300.8,199.8 300.9,198.8 301.0,200.2 301.1,199.3 301.2,199.7 301.3,199.0 301.4,199.0 301.5,199.0 301.6,196.7 301.7,197.8 301.8,198.5 301.9,197.6 302.0,197.4 302.1,197.8 302.2,197.1 302.3,195.6 302.4,199.5 302.5,196.2 302.6,195.7 302.7,196.1 302.8,195.3 302.9,195.3 303.0,195.3 303.1,195.8 303.2,194.1 303.3,194.3 303.4,193.9 303.5,193.7 303.6,192.4 303.7,192.5 303.8,193.5 303.9,192.1 304.0,190.8 304.1,191.6 304.2,191.5 304.3,190.6 304.4,191.4 304.5,190.8 304.6,190.9 304.7,190.6 304.8,190.3 304.9,191.2 305.0,190.6 305.1,190.5 305.2,190.2 305.3,189.9 305.4,189.0 305.5,189.3 305.6,187.9 305.7,189.7 305.8,188.8 305.9,188.8 306.0,188.0 306.1,188.1 306.2,189.5 306.3,189.7 306.4,188.3 306.5,188.0 306.6,187.7 306.7,187.1 306.8,188.5 306.9,187.8 307.0,187.5 307.1,186.5 307.2,187.2 307.3,186.3 307.4,186.6 307.5,186.1 307.6,186.3 307.7,185.9 307.8,185.2 307.9,184.6 308.0,185.0 308.1,185.1 308.2,185.8 308.3,184.4 308.4,185.2 308.5,184.7 308.6,185.8 308.7,184.7 308.8,185.2 308.9,184.5 309.0,184.1 309.1,184.8 309.2,182.5 309.3,183.4 309.4,182.9 309.5,182.5 309.6,182.7 309.7,182.9 309.8,182.4 309.9,181.0 310.0,182.8 310.1,181.9 310.2,181.5 310.3,180.9 310.4,180.9 310.5,180.1 310.6,180.7 310.7,180.5 310.8,179.9 310.9,179.6 311.0,179.0 311.1,180.5 311.2,179.8 311.3,179.4 311.4,178.7 311.5,178.9 311.6,178.7 311.7,178.5 311.8,177.7 311.9,179.6 312.0,179.4 312.1,177.8 312.2,178.3 312.3,178.1 312.4,176.1 312.5,177.7 312.6,176.3 312.7,176.5 312.8,177.3 312.9,177.1 313.0,176.7 313.1,177.2 313.2,177.0 313.3,175.7 313.4,175.9 313.5,176.5 313.6,175.2 313.7,175.8 313.8,175.9 313.9,175.0 314.0,174.8 314.1,174.6 314.2,174.3 314.3,174.8 314.4,175.4 314.5,176.0 314.6,174.7 314.7,175.0 314.8,175.1 314.9,173.9 315.0,174.1 315.1,173.9 315.2,173.2 315.3,173.9 315.4,174.0 315.5,173.2 315.6,172.8 315.7,172.2 315.8,171.8 315.9,172.6 316.0,171.4 316.1,171.9 316.2,173.2 316.3,170.9 316.4,172.6 316.5,172.2 316.6,171.7 316.7,172.0 316.8,171.5 316.9,170.8 317.0,170.7 317.1,169.5 317.2,170.7 317.3,170.5 317.4,169.5 317.5,169.3 317.6,170.4 317.7,169.9 317.8,170.2 317.9,169.0 318.0,170.0 318.1,170.2 318.2,171.1 318.3,168.6 318.4,168.8 318.5,168.3 318.6,168.7 318.7,168.2 318.8,168.5 318.9,167.6 319.0,168.2 319.1,166.9 319.2,167.6 319.3,169.0 319.4,166.9 319.5,166.8 319.6,166.8 319.7,167.4 319.8,167.6 319.9,166.6 320.0,166.6 320.1,165.9 320.2,165.1 320.3,166.5 320.4,166.4 320.5,166.1 320.6,164.3 320.7,165.9 320.8,165.4 320.9,164.4 321.0,165.4 321.1,165.7 321.2,165.1 321.3,164.7 321.4,162.6 321.5,163.6 321.6,164.5 321.7,162.7 321.8,163.9 321.9,162.2 322.0,163.3 322.1,163.0 322.2,162.1 322.3,162.7 322.4,163.4 322.5,163.1 322.6,161.2 322.7,162.0 322.8,162.0 322.9,162.0 323.0,160.3 323.1,161.4 323.2,161.0 323.3,162.8 323.4,160.8 323.5,162.3 323.6,161.3 323.7,161.0 323.8,162.2 323.9,162.3 324.0,161.9 324.1,161.6 324.2,162.3 324.3,161.5 324.4,161.3 324.5,160.9 324.6,161.3 324.7,161.5 324.8,160.4 324.9,160.7 325.0,160.0 325.1,160.5 325.2,160.3 325.3,160.6 325.4,160.1 325.5,159.9 325.6,160.1 325.7,161.1 325.8,159.1 325.9,158.8 326.0,160.4 326.1,159.5 326.2,159.9 326.3,161.6 326.4,159.7 326.5,159.5 326.6,161.3 326.7,159.3 326.8,159.4 326.9,159.3 327.0,159.5 327.1,159.2 327.2,160.5 327.3,159.5 327.4,159.0 327.5,159.3 327.6,158.7 327.7,158.4 327.8,158.4 327.9,158.9 328.0,158.2 328.1,158.1 328.2,158.0 328.3,157.9 328.4,157.5 328.5,157.7 328.6,158.5 328.7,158.2 328.8,159.7 328.9,157.7 329.0,158.4 329.1,158.6 329.2,158.4 329.3,158.4 329.4,157.9 329.5,158.0 329.6,157.9 329.7,157.7 329.8,158.1 329.9,157.5 330.0,156.8 330.1,156.1 330.2,157.1 330.3,156.1 330.4,154.7 330.5,155.4 330.6,155.8 330.7,155.2 330.8,155.0 330.9,155.8 331.0,156.3 331.1,155.2 331.2,155.1 331.3,154.7 331.4,155.0 331.5,157.3 331.6,155.0 331.7,156.5 331.8,155.9 331.9,156.8 332.0,157.4 332.1,156.6 332.2,157.1 332.3,156.8 332.4,156.7 332.5,156.8 332.6,156.0 332.7,156.6 332.8,156.5 332.9,157.1 333.0,156.0 333.1,155.6 333.2,155.0 333.3,154.9 333.4,155.4 333.5,154.3 333.6,155.6 333.7,153.4 333.8,154.8 333.9,154.0 334.0,154.3 334.1,154.8 334.2,153.6 334.3,154.5 334.4,154.7 334.5,154.6 334.6,152.4 334.7,152.5 334.8,151.5 334.9,153.2 335.0,152.6 335.1,152.1 335.2,153.7 335.3,152.6 335.4,150.8 335.5,151.1 335.6,150.8 335.7,151.3 335.8,152.2 335.9,150.3 336.0,150.8 336.1,150.1 336.2,152.1 336.3,150.2 336.4,150.9 336.5,150.5 336.6,150.5 336.7,151.3 336.8,151.7 336.9,151.1 337.0,151.4 337.1,151.2 337.2,152.6 337.3,151.6 337.4,151.3 337.5,151.1 337.6,151.4 337.7,151.7 337.8,152.0 337.9,151.8 338.0,150.6 338.1,152.3 338.2,153.3 338.3,153.0 338.4,152.7 338.5,153.0 338.6,153.1 338.7,153.9 338.8,152.8 338.9,151.8 339.0,152.8 339.1,153.5 339.2,152.9 339.3,153.0 339.4,152.0 339.5,151.5 339.6,151.2 339.7,150.7 339.8,151.8 339.9,152.1 340.0,150.8 340.1,150.3 340.2,151.7 340.3,150.6 340.4,150.4 340.5,151.2 340.6,150.7 340.7,149.5 340.8,151.0 340.9,150.4 341.0,148.8 341.1,146.4 341.2,150.2 341.3,150.0 341.4,149.6 341.5,149.3 341.6,149.5 341.7,148.9 341.8,149.1 341.9,148.9 342.0,147.9 342.1,148.5 342.2,148.8 342.3,148.5 342.4,147.6 342.5,146.5 342.6,146.3 342.7,147.9 342.8,146.9 342.9,148.9 343.0,147.0 343.1,146.8 343.2,148.1 343.3,146.5 343.4,146.8 343.5,146.4 343.6,146.9 343.7,145.9 343.8,146.1 343.9,145.3 344.0,145.8 344.1,146.5 344.2,145.8 344.3,146.4 344.4,146.6 344.5,148.1 344.6,146.4 344.7,147.1 344.8,147.1 344.9,144.4 345.0,145.2 345.1,145.1 345.2,144.1 345.3,145.3 345.4,145.5 345.5,144.7 345.6,144.0 345.7,144.0 345.8,145.5 345.9,143.5 346.0,144.2 346.1,143.6 346.2,143.5 346.3,143.8 346.4,144.9 346.5,143.6 346.6,143.7 346.7,144.1 346.8,144.3 346.9,143.9 347.0,143.1 347.1,143.0 347.2,144.3 347.3,143.2 347.4,144.3 347.5,144.7 347.6,143.4 347.7,144.0 347.8,143.9 347.9,144.2 348.0,143.9 348.1,142.3 348.2,142.8 348.3,142.8 348.4,141.0 348.5,142.6 348.6,141.7 348.7,142.8 348.8,143.2 348.9,142.4 349.0,143.8 349.1,142.1 349.2,144.1 349.3,143.3 349.4,143.1 349.5,144.2 349.6,142.9 349.7,143.1 349.8,142.5 349.9,144.3 350.0,142.9 350.1,143.3 350.2,142.9 350.3,142.4 350.4,145.4 350.5,143.0 350.6,144.2 350.7,143.0 350.8,143.3 350.9,142.0 351.0,142.7 351.1,142.8 351.2,141.8 351.3,142.9 351.4,144.1 351.5,142.2 351.6,141.3 351.7,142.1 351.8,141.9 351.9,141.2 352.0,141.5 352.1,140.9 352.2,140.9 352.3,141.9 352.4,141.2 352.5,141.1 352.6,141.4 352.7,140.4 352.8,140.8 352.9,140.5 353.0,141.7 353.1,141.7 353.2,139.3 353.3,140.7 353.4,140.3 353.5,139.6 353.6,141.1 353.7,140.6 353.8,139.2 353.9,139.2 354.0,139.4 354.1,138.5 354.2,139.2 354.3,139.1 354.4,139.9 354.5,137.4 354.6,139.6 354.7,138.8 354.8,138.5 354.9,138.7 355.0,138.0 355.1,138.5 355.2,138.4 355.3,139.6 355.4,138.5 355.5,140.4 355.6,139.3 355.7,137.9 355.8,137.6 355.9,138.0 356.0,138.2 356.1,137.7 356.2,136.7 356.3,137.6 356.4,137.1 356.5,136.2 356.6,137.5 356.7,136.5 356.8,136.1 356.9,134.9 357.0,137.4 357.1,137.8 357.2,137.4 357.3,137.1 357.4,138.9 357.5,137.0 357.6,137.8 357.7,137.7 357.8,137.6 357.9,135.5 358.0,136.7 358.1,136.4 358.2,137.4 358.3,136.2 358.4,136.7 358.5,136.3 358.6,136.7 358.7,137.1 358.8,136.4 358.9,136.9 359.0,134.6 359.1,137.4 359.2,136.6 359.3,135.8 359.4,137.6 359.5,136.1 359.6,135.9 359.7,135.3 359.8,136.1 359.9,135.5 360.0,135.9 360.1,134.5 360.2,136.0 360.3,135.4 360.4,135.6 360.5,135.4 360.6,134.5 360.7,134.7 360.8,135.0 360.9,134.4 361.0,135.9 361.1,135.6 361.2,134.6 361.3,134.5 361.4,134.6 361.5,134.8 361.6,134.9 361.7,134.4 361.8,134.1 361.9,134.8 362.0,133.5 362.1,134.0 362.2,134.0 362.3,133.5 362.4,133.9 362.5,132.7 362.6,134.1 362.7,133.6 362.8,133.0 362.9,132.5 363.0,133.6 363.1,131.9 363.2,133.4 363.3,133.5 363.4,133.8 363.5,133.8 363.6,134.1 363.7,134.1 363.8,132.5 363.9,133.2 364.0,133.7 364.5,230.0 364.6,234.9 364.7,239.7 364.8,244.6 364.9,249.4 365.0,254.3 365.1,259.1 365.2,264.0 365.3,264.8 365.4,265.8 365.5,265.9 365.6,267.7 365.7,268.5 365.8,269.3 365.9,270.0 366.0,270.8 366.1,270.9 366.2,272.4 366.3,272.9 366.4,273.2 366.5,274.9 366.6,275.0 366.7,274.6 366.8,276.1 366.9,276.5 367.0,277.6 367.1,278.0 367.2,277.2 367.3,278.9 367.4,279.9 367.5,280.6 367.6,280.8 367.7,281.0 367.8,282.5 367.9,282.6 368.0,282.4 368.1,283.2 368.2,285.0 368.3,285.1 368.4,285.6 368.5,287.4 368.6,287.0 368.7,286.8 368.8,287.5 368.9,288.3 369.0,288.2 369.1,289.7 369.2,289.3 369.3,290.6 369.4,290.7 369.5,291.1 369.6,291.1 369.7,291.4 369.8,293.5 369.9,292.8 370.0,292.2 370.1,293.6 370.2,292.0 370.3,292.7 370.4,294.4 370.5,294.7 370.6,294.2 370.7,293.5 370.8,293.4 370.9,292.9 371.0,291.8 371.1,295.4 371.2,295.9 371.3,296.9 371.4,294.2 371.5,296.7 371.6,295.5 371.7,296.5 371.8,296.0 371.9,297.8 372.0,295.6 372.1,297.2 372.2,296.9 372.3,296.6 372.4,299.6 372.5,299.4 372.6,300.3 372.7,300.1 372.8,298.8 372.9,299.5 373.0,300.0 373.1,300.1 373.2,301.1 373.3,300.8 373.4,300.7 373.5,300.6 373.6,301.5 373.7,301.4 373.8,300.2 373.9,302.7 374.0,302.2 374.1,302.2 374.2,303.5 374.3,302.0 374.4,302.3 374.5,303.6 374.6,301.2 374.7,303.2 374.8,302.9 374.9,304.2 375.0,303.9 375.1,304.7 375.2,304.7 375.3,303.6 375.4,303.1 375.5,304.1 375.6,306.3 375.7,306.5 375.8,307.7 375.9,305.4 376.0,306.4 376.1,306.6 376.2,307.3 376.3,307.4 376.4,308.3 376.5,307.4 376.6,307.5 376.7,308.9 376.8,309.6 376.9,309.1 377.0,309.1 377.1,308.8 377.2,309.1 377.3,308.1 377.4,309.8 377.5,308.7 377.6,311.2 377.7,309.6 377.8,310.8 377.9,312.0 378.0,309.9 378.1,311.5 378.2,309.8 378.3,310.7 378.4,310.8 378.5,311.8 378.6,311.8 378.7,311.7 378.8,311.6 378.9,310.6 379.0,313.3 379.1,311.1 379.2,311.4 379.3,311.1 379.4,313.2 379.5,310.6 379.6,313.4 379.7,313.0 379.8,313.0 379.9,311.6 380.0,312.2 380.1,314.1 380.2,313.4 380.3,313.4 380.4,314.4 380.5,315.2 380.6,319.3 380.7,313.6 380.8,315.7 380.9,315.1 381.0,314.4 381.1,314.3 381.2,316.0 381.3,316.1 381.4,316.2 381.5,316.4 381.6,314.7 381.7,316.1 381.8,315.5 381.9,315.3 382.0,317.1 382.1,315.9 382.2,316.0 382.3,317.4 382.4,315.1 382.5,315.3 382.6,318.0 382.7,315.5 382.8,317.1 382.9,316.3 383.0,315.0 383.1,317.5 383.2,316.9 383.3,315.5 383.4,316.4 383.5,317.1 383.6,316.2 383.7,314.4 383.8,316.5 383.9,315.4 384.0,314.6 385.6,288.6 385.7,288.2 385.8,286.8 385.9,286.0 386.0,285.3 386.1,284.7 386.2,283.5 386.3,283.3 386.4,281.9 386.5,281.7 386.6,280.9 386.7,279.8 386.8,279.7 386.9,278.5 387.0,278.0 387.1,276.9 387.2,275.8 387.3,274.8 387.4,274.8 387.5,273.9 387.6,272.9 387.7,273.3 387.8,271.7 387.9,272.3 388.0,271.0 388.1,270.9 388.2,271.6 388.3,270.2 388.4,269.1 388.5,270.8 388.6,269.4 388.7,269.9 388.8,269.9 388.9,269.8 389.0,268.1 389.1,267.1 389.2,268.5 389.3,267.0 389.4,266.9 389.5,267.2 389.6,266.1 389.7,266.2 389.8,265.2 389.9,265.3 390.0,265.6 390.1,265.5 390.2,264.6 390.3,263.3 390.4,263.9 390.5,263.9 390.6,263.5 390.7,262.0 390.8,263.0 390.9,262.5 391.0,262.1 391.1,261.0 391.2,262.2 391.3,263.9 391.4,261.2 391.5,261.7 391.6,260.0 391.7,260.1 391.8,260.4 391.9,259.6 392.0,259.7 392.1,258.6 392.2,258.2 392.3,257.2 392.4,254.6 392.5,256.5 392.6,258.5 392.7,257.9 392.8,257.4 392.9,255.6 393.0,256.0 393.1,256.5 393.2,256.1 393.3,254.0 393.4,254.9 393.5,254.6 393.6,253.2 393.7,253.3 393.8,254.8 393.9,254.4 394.0,253.3 394.1,252.2 394.2,253.6 394.3,252.0 394.4,253.4 394.5,252.2 394.6,252.8 394.7,252.8 394.8,252.2 394.9,253.0 395.0,251.8 395.1,251.1 395.2,251.7 395.3,250.2 395.4,250.6 395.5,250.4 395.6,250.3 395.7,249.2 395.8,249.5 395.9,249.3 396.0,248.9 396.1,249.7 396.2,248.6 396.3,248.8 396.4,247.8 396.5,247.3 396.6,248.1 396.7,246.9 396.8,247.0 396.9,246.8 397.0,246.3 397.1,245.5 397.2,245.4 397.3,245.4 397.4,245.2 397.5,245.1 397.6,245.6 397.7,244.9 397.8,243.2 397.9,244.4 398.0,244.6 398.1,244.0 398.2,244.6 398.3,242.8 398.4,243.7 398.5,243.3 398.6,243.7 398.7,242.4 398.8,241.7 398.9,242.2 399.0,242.1 399.1,242.3 399.2,241.5 399.3,240.7 399.4,241.3 399.5,239.8 399.6,240.0 399.7,240.2 399.8,239.4 399.9,240.1 400.0,240.1 400.1,239.7 400.2,238.9 400.3,238.3 400.4,239.7 400.5,237.9 400.6,238.9 400.7,237.1 400.8,238.4 400.9,237.8 401.0,237.6 401.1,237.8 401.2,237.1 401.3,236.5 401.4,237.4 401.5,236.1 401.6,236.2 401.7,236.2 401.8,235.1 401.9,235.2 402.0,235.6 402.1,234.3 402.2,235.9 402.3,235.0 402.4,235.9 402.5,236.2 402.6,235.2 402.7,235.0 402.8,235.0 402.9,235.1 403.0,236.0 403.1,234.7 403.2,234.4 403.3,233.9 403.4,231.6 403.5,234.2 403.6,235.1 403.7,233.7 403.8,233.9 403.9,233.8 404.0,234.0 404.1,233.9 404.2,233.9 404.3,233.4 404.4,234.6 404.5,233.4 404.6,233.2 404.7,233.6 404.8,234.2 404.9,234.5 405.0,232.5 405.1,233.8 405.2,233.1 405.3,233.1 405.4,230.3 405.5,233.0 405.6,231.9 405.7,233.6 405.8,232.2 405.9,233.9 406.0,234.0 406.1,233.4 406.2,232.8 406.3,231.6 406.4,233.6 406.5,233.7 406.6,233.5 406.7,232.9 406.8,231.9 406.9,233.1 407.0,231.7 407.1,233.3 407.2,231.7 407.3,231.9 407.4,232.2 407.5,231.3 407.6,233.9 407.7,230.9 407.8,230.9 407.9,229.9 408.0,229.8 408.1,231.2 408.2,230.9 408.3,231.4 408.4,230.8 408.5,230.3 408.6,230.9 408.7,229.6 408.8,230.1 408.9,229.0 409.0,230.1 409.1,229.9 409.2,228.7 409.3,229.7 409.4,227.9 409.5,228.2 409.6,229.6 409.7,228.9 409.8,228.4 409.9,229.0 410.0,230.0 410.1,230.2 410.2,228.8 410.3,229.3 410.4,230.0 410.5,228.3 410.6,230.1 410.7,229.0 410.8,228.2 410.9,228.1 411.0,229.1 411.1,227.2 411.2,227.4 411.3,226.9 411.4,227.3 411.5,228.8 411.6,227.8 411.7,227.0 411.8,228.5 411.9,227.3 412.0,227.9 412.1,227.0 412.2,225.8 412.3,225.3 412.4,225.7 412.5,225.6 412.6,226.1 412.7,227.0 412.8,224.7 412.9,226.6 413.0,225.4 413.1,225.9 413.2,223.6 413.3,224.4 413.4,225.5 413.5,224.8 413.6,224.4 413.7,225.4 413.8,224.3 413.9,223.7 414.0,223.9 414.1,224.8 414.2,224.5 414.3,222.8 414.4,222.1 414.5,222.7 414.6,223.5 414.7,224.0 414.8,222.1 414.9,222.5 415.0,222.9 415.1,222.2 415.2,222.5 415.3,221.8 415.4,222.6 415.5,221.9 415.6,223.3 415.7,222.5 415.8,221.8 415.9,221.6 416.0,222.0 416.1,222.3 416.2,222.1 416.3,222.9 416.4,220.8 416.5,220.5 416.6,221.1 416.7,221.0 416.8,220.7 416.9,219.8 417.0,222.0 417.1,220.7 417.2,219.8 417.3,219.6 417.4,220.2 417.5,220.1 417.6,219.7 417.7,220.5 417.8,220.1 417.9,218.9 418.0,219.8 418.1,220.3 418.2,219.0 418.3,218.6 418.4,218.2 418.5,218.9 418.6,217.8 418.7,219.7 418.8,220.0 418.9,219.0 419.0,219.3 419.1,218.4 419.2,217.3 419.3,218.5 419.4,218.5 419.5,217.9 419.6,218.5 419.7,217.8 419.8,217.8 419.9,218.9 420.0,218.8 420.1,216.8 420.2,216.7 420.3,217.6 420.4,217.5 420.5,217.2 420.6,217.9 420.7,217.3 420.8,216.7 420.9,217.0 421.0,217.2 421.1,217.7 421.2,217.0 421.3,217.3 421.4,217.2 421.5,215.8 421.6,216.9 421.7,216.0 421.8,216.4 421.9,214.2 422.0,214.8 422.1,215.2 422.2,214.9 422.3,213.9 422.4,215.3 422.5,214.4 422.6,214.8 422.7,214.7 422.8,214.9 422.9,215.2 423.0,215.8 423.1,214.7 423.2,214.7 423.3,214.5 423.4,215.1 423.5,215.6 423.6,214.1 423.7,214.6 423.8,215.2 423.9,214.4 424.0,213.6 424.1,215.5 424.2,213.6 424.3,214.0 424.4,214.1 424.5,214.2 424.6,213.4 424.7,214.6 424.8,212.8 424.9,214.5 425.0,213.1 425.1,213.5 425.2,213.1 425.3,211.9 425.4,212.9 425.5,212.3 425.6,212.4 425.7,212.6 425.8,211.1 425.9,214.1 426.0,211.6 426.1,212.2 426.2,212.1 426.3,212.8 426.4,212.2 426.5,212.7 426.6,212.9 426.7,212.4 426.8,211.0 426.9,210.9 427.0,210.9 427.1,211.2 427.2,210.7 427.3,210.0 427.4,211.4 427.5,210.9 427.6,210.4 427.7,209.5 427.8,209.5 427.9,209.2 428.0,208.8 428.1,208.9 428.2,209.6 428.3,209.2 428.4,208.6 428.5,209.5 428.6,209.0 428.7,209.7 428.8,209.0 428.9,209.3 429.0,208.6 429.1,208.2 429.2,209.5 429.3,209.3 429.4,209.6 429.5,208.5 429.6,207.9 429.7,208.2 429.8,209.0 429.9,207.5 430.0,208.3 430.1,208.2 430.2,208.6 430.3,208.6 430.4,208.1 430.5,208.5 430.6,207.5 430.7,207.6 430.8,206.4 430.9,206.7 431.0,207.8 431.1,207.4 431.2,206.3 431.3,206.6 431.4,206.1 431.5,206.4 431.6,206.5 431.7,204.5 431.8,207.2 431.9,205.9 432.0,206.2 432.1,206.2 432.2,206.1 432.3,205.8 432.4,204.4 432.5,203.6 432.6,205.2 432.7,205.4 432.8,204.8 432.9,205.4 433.0,203.9 433.1,204.3 433.2,207.0 433.3,205.1 433.4,204.4 433.5,205.5 433.6,204.0 433.7,203.6 433.8,203.5 433.9,203.8 434.0,203.2 434.1,204.7 434.2,204.2 434.3,204.3 434.4,202.6 434.5,202.8 434.6,202.1 434.7,202.6 434.8,203.0 434.9,204.2 435.0,204.0 435.1,202.4 435.2,202.7 435.3,203.4 435.4,203.4 435.5,202.9 435.6,203.2 435.7,203.2 435.8,203.3 435.9,202.1 436.0,201.5 436.1,201.5 436.2,201.7 436.3,200.3 436.4,200.8 436.5,200.5 436.6,200.9 436.7,202.1 436.8,200.7 436.9,199.7 437.0,200.8 437.1,200.6 437.2,200.8 437.3,200.3 437.4,199.0 437.5,200.7 437.6,198.9 437.7,200.3 437.8,199.4 437.9,198.1 438.0,199.0 438.1,200.5 438.2,199.3 438.3,198.8 438.4,200.4 438.5,199.1 438.6,199.3 438.7,198.4 438.8,199.1 438.9,199.1 439.0,198.0 439.1,199.1 439.2,198.5 439.3,197.9 439.4,197.3 439.5,197.4 439.6,197.3 439.7,198.4 439.8,197.0 439.9,197.4 440.0,197.3 440.1,198.3 440.2,197.8 440.3,198.1 440.4,198.6 440.5,196.8 440.6,197.2 440.7,197.6 440.8,196.4 440.9,197.7 441.0,196.6 441.1,196.7 441.2,196.9 441.3,196.0 441.4,195.6 441.5,195.9 441.6,195.8 441.7,196.3 441.8,197.0 441.9,195.2 442.0,195.5 442.1,194.8 442.2,195.3 442.3,195.1 442.4,195.5 442.5,196.2 442.6,195.1 442.7,193.9 442.8,196.1 442.9,195.5 443.0,194.5 443.1,194.6 443.2,194.5 443.3,195.2 443.4,193.5 443.5,193.9 443.6,195.2 443.7,194.5 443.8,194.7 443.9,193.6 444.0,194.0 444.1,194.1 444.2,192.9 444.3,193.2 444.4,192.2 444.5,193.5 444.6,193.1 444.7,192.0 444.8,192.3 444.9,193.6 445.0,192.8 445.1,194.6 445.2,193.5 445.3,192.0 445.4,193.1 445.5,192.6 445.6,191.4 445.7,190.8 445.8,191.6 445.9,193.3 446.0,191.4 446.1,193.1 446.2,190.1 446.3,191.1 446.4,191.8 446.5,190.5 446.6,191.3 446.7,190.7 446.8,191.4 446.9,191.1 447.0,191.1 447.1,190.7 447.2,190.7 447.3,190.6 447.4,189.9 447.5,189.7 447.6,189.3 447.7,190.6 447.8,189.4 447.9,190.5 448.0,190.3 448.1,189.2 448.2,189.7 448.3,190.2 448.4,190.3 448.5,188.4 448.6,188.4 448.7,189.9 448.8,189.0 448.9,188.9 449.0,189.9 449.1,189.1 449.2,189.1 449.3,188.6 449.4,189.9 449.5,190.3 449.6,188.5 449.7,187.6 449.8,187.7 449.9,188.2 450.0,187.6 450.1,187.3 450.2,188.2 450.3,187.5 450.4,187.1 450.5,187.5 450.6,187.3 450.7,187.3 450.8,186.1 450.9,187.3 451.0,185.7 451.1,186.7 451.2,186.6 451.3,186.3 451.4,185.8 451.5,186.6 451.6,185.7 451.7,186.7 451.8,186.4 451.9,186.9 452.0,186.4" fill="none" stroke="#111" stroke-width="0.5" stroke-linejoin="round"/>
<clipPath id="cpb"><rect x="567.5" y="5.9" width="400.9" height="322.5"/></clipPath>
<path clip-path="url(#cpb)" d="M567.8,229.2 567.9,228.4 568.0,228.2 568.0,226.5 568.1,226.3 568.2,225.5 568.3,225.6 568.4,224.0 568.4,222.9 568.5,222.5 568.6,221.3 568.7,220.9 568.8,219.8 568.8,218.8 568.9,219.4 569.0,218.4 569.1,217.4 569.2,217.5 569.2,215.9 569.3,215.6 569.4,213.8 569.5,213.5 569.6,212.9 569.7,211.9 569.7,211.1 569.8,210.7 569.9,209.8 570.0,209.1 570.1,208.2 570.1,208.1 570.2,207.7 570.3,206.6 570.4,205.9 570.5,205.6 570.5,204.1 570.6,203.1 570.7,202.4 570.8,202.2 570.9,201.3 570.9,200.1 571.0,200.2 571.1,199.0 571.2,198.5 571.3,197.7 571.3,197.2 571.4,196.1 571.5,196.4 571.6,195.6 571.7,196.5 571.7,193.7 571.8,194.7 571.9,194.7 572.0,193.3 572.1,194.0 572.1,193.6 572.2,192.3 572.3,191.6 572.4,192.3 572.5,191.5 572.5,189.9 572.6,190.2 572.7,190.1 572.8,188.2 572.9,188.8 573.0,187.1 573.0,187.5 573.1,187.6 573.2,187.4 573.3,187.8 573.4,185.7 573.4,186.5 573.5,186.4 573.6,184.3 573.7,184.8 573.8,184.9 573.8,181.5 573.9,182.2 574.0,181.7 574.1,183.1 574.2,180.2 574.2,180.9 574.3,180.9 574.4,179.3 574.5,179.9 574.6,179.9 574.6,178.5 574.7,180.6 574.8,179.0 574.9,176.8 575.0,173.7 575.0,175.5 575.1,177.2 575.2,176.8 575.3,175.4 575.4,175.5 575.4,175.0 575.5,175.3 575.6,174.0 575.7,173.3 575.7,173.1 575.8,172.8 575.9,171.4 576.0,171.8 576.1,172.9 576.1,171.7 576.2,173.7 576.3,170.5 576.4,168.0 576.5,168.3 576.5,169.1 576.6,167.8 576.7,169.3 576.8,167.7 576.9,167.9 576.9,166.0 577.0,167.1 577.1,165.9 577.2,163.7 577.3,164.9 577.3,163.9 577.4,163.7 577.5,164.2 577.6,161.2 577.7,162.5 577.7,160.9 577.8,162.7 577.9,160.6 578.0,160.7 578.1,159.4 578.1,158.5 578.2,160.9 578.3,159.6 578.4,158.8 578.5,157.3 578.6,156.6 578.6,157.0 578.7,155.5 578.8,155.0 578.9,154.2 579.0,153.4 579.0,153.2 579.1,152.5 579.2,154.0 579.3,151.8 579.4,151.1 579.4,151.1 579.5,152.0 579.6,150.8 579.7,150.1 579.8,151.0 579.8,149.5 579.9,148.6 580.0,147.8 580.1,148.0 580.2,148.0 580.2,146.8 580.3,146.1 580.4,144.2 580.5,144.9 580.6,144.4 580.6,144.7 580.7,142.3 580.8,142.4 580.9,142.0 581.0,141.4 581.1,140.5 581.1,141.1 581.2,139.5 581.3,139.5 581.4,139.0 581.5,137.7 581.5,136.3 581.6,136.7 581.7,136.8 581.8,137.3 581.9,136.8 581.9,135.7 582.0,136.2 582.1,134.4 582.2,134.6 582.3,134.4 582.3,134.1 582.4,134.6 582.5,132.2 582.6,133.6 582.7,133.1 582.7,132.7 582.8,131.8 582.9,130.4 583.0,130.6 583.1,130.1 583.1,130.5 583.2,129.2 583.3,128.4 583.4,129.7 583.5,128.9 583.6,126.8 583.6,128.8 583.7,127.4 583.8,125.8 583.9,125.3 584.0,124.2 584.0,126.6 584.1,125.6 584.2,124.1 584.3,125.3 584.4,122.3 584.4,123.5 584.5,124.2 584.6,121.2 584.7,122.1 584.8,124.4 584.8,121.5 584.9,121.9 585.0,120.1 585.1,120.1 585.2,119.7 585.2,120.4 585.3,119.9 585.4,120.1 585.5,117.7 585.6,117.8 585.6,118.4 585.7,116.3 585.8,116.4 585.9,117.9 586.0,117.1 586.1,114.9 586.1,115.2 586.2,114.2 586.3,114.7 586.4,113.1 586.5,113.4 586.5,114.7 586.6,111.8 586.7,114.3 586.8,111.5 586.9,110.7 586.9,110.2 587.0,111.6 587.1,111.4 587.2,110.6 587.3,109.5 587.3,109.2 587.4,109.1 587.5,109.9 587.6,108.7 587.7,108.9 587.7,106.3 587.8,105.8 587.9,104.8 588.0,105.6 588.1,105.0 588.2,104.0 588.2,104.1 588.3,102.7 588.4,102.8 588.5,103.1 588.6,102.7 588.6,102.2 588.7,103.5 588.8,101.0 588.9,99.2 589.0,99.6 589.0,99.8 589.1,98.6 589.2,98.8 589.3,99.6 589.4,96.7 589.4,98.3 589.5,97.8 589.6,96.6 589.7,96.4 589.8,98.3 589.8,96.1 589.9,96.9 590.0,96.8 590.1,97.5 590.2,95.8 590.2,93.6 590.3,94.7 590.4,96.3 590.5,95.1 590.6,95.2 590.6,96.0 590.7,94.9 590.8,96.0 590.9,93.7 591.0,92.7 591.0,93.5 591.1,91.0 591.2,95.6 591.3,93.6 591.4,93.2 591.4,91.0 591.5,92.4 591.6,91.2 591.7,88.6 591.8,93.0 591.9,91.3 591.9,90.7 592.0,91.3 592.1,89.5 592.2,90.2 592.3,92.1 592.3,89.3 592.4,90.1 592.5,89.1 592.6,87.9 592.7,90.1 592.7,89.8 592.8,89.2 592.9,89.7 593.0,88.8 593.1,87.8 593.1,86.8 593.2,86.5 593.3,86.0 593.4,86.5 593.5,86.5 593.5,87.1 593.6,82.0 593.7,88.1 593.8,86.5 593.9,84.3 593.9,84.9 594.0,85.1 594.1,85.9 594.2,95.5 594.3,92.5 594.4,83.9 594.5,83.6 594.6,83.2 594.6,82.7 594.7,81.3 594.8,81.1 594.9,81.3 595.0,81.8 595.0,80.0 595.1,79.1 595.2,79.3 595.3,78.1 595.4,77.6 595.4,77.1 595.5,77.3 595.6,76.2 595.7,76.0 595.7,75.2 595.8,72.6 595.9,73.5 596.0,73.0 596.1,70.2 596.1,71.8 596.2,68.6 596.3,69.1 596.4,69.0 596.5,70.7 596.5,68.2 596.6,67.6 596.7,68.0 596.8,68.6 596.9,66.8 596.9,65.0 597.0,64.8 597.1,65.3 597.2,63.8 597.2,64.3 597.3,62.2 597.4,62.5 597.5,61.0 597.6,60.7 597.6,61.4 597.7,59.9 597.8,57.1 597.9,59.8 598.0,58.1 598.0,57.1 598.1,57.8 598.2,53.8 598.3,54.8 598.4,53.7 598.4,53.1 598.5,57.7 598.6,54.1 598.7,53.8 598.8,54.5 598.8,55.5 598.9,54.6 599.0,54.7 599.1,51.6 599.2,54.4 599.2,53.3 599.3,51.6 599.4,51.9 599.5,47.2 599.6,51.8 599.6,51.3 599.7,52.1 599.8,53.3 599.9,51.9 600.0,50.2 600.0,49.0 600.1,49.5 600.2,49.6 600.3,48.6 600.4,50.0 600.4,48.5 600.5,48.9 600.6,47.1 600.7,49.6 600.8,48.4 600.8,47.2 600.9,48.2 601.0,47.8 601.1,45.5 601.2,47.8 601.2,45.8 601.3,45.9 601.4,44.6 601.5,47.1 601.6,45.5 601.6,45.6 601.7,46.2 601.8,46.8 601.9,44.9 602.0,45.1 602.0,44.3 602.1,46.3 602.2,44.2 602.3,44.3 602.4,45.0 602.4,43.7 602.5,47.5 602.6,43.7 602.7,42.5 602.8,44.6 602.8,44.3 602.9,41.7 603.0,43.2 603.1,43.6 603.2,40.5 603.2,41.9 603.3,43.1 603.4,42.7 603.5,40.9 603.6,40.8 603.6,41.3 603.7,41.3 603.8,40.3 603.9,41.7 603.9,40.4 604.0,40.3 604.1,40.5 604.2,38.5 604.3,37.5 604.3,38.3 604.4,39.2 604.5,35.7 604.6,38.1 604.7,34.7 604.7,37.8 604.8,38.6 604.9,35.6 605.0,37.4 605.1,36.5 605.1,38.6 605.2,35.2 605.3,34.4 605.4,34.6 605.5,35.3 605.5,33.7 605.6,34.1 605.7,35.2 605.8,34.3 605.9,31.1 605.9,34.9 606.0,33.1 606.1,34.9 606.2,32.1 606.3,33.5 606.3,32.9 606.4,29.4 606.5,32.4 606.6,32.1 606.7,30.1 606.7,32.6 606.8,30.0 606.9,32.7 607.0,31.1 607.1,31.5 607.1,28.8 607.2,30.2 607.3,31.1 607.4,29.8 607.5,29.1 607.5,31.2 607.6,29.6 607.7,26.3 607.8,29.0 607.9,25.8 607.9,29.6 608.0,30.7 608.1,26.7 608.2,28.8 608.3,27.8 608.3,26.1 608.4,28.1 608.5,27.7 608.6,26.6 608.7,26.5 608.7,25.5 608.8,24.8 608.9,26.8 609.0,25.6 609.1,24.1 609.1,25.4 609.2,23.8 609.3,25.7 609.4,25.0 609.5,24.6 609.5,23.7 609.6,23.2 609.7,23.1 609.8,17.5 609.9,12.0 610.3,200.0 610.4,207.5 610.4,215.0 610.5,222.5 610.6,230.0 610.7,237.5 610.8,244.9 610.8,252.4 610.9,259.9 611.0,261.1 611.1,261.9 611.1,262.8 611.2,263.4 611.3,264.5 611.4,265.9 611.5,266.3 611.6,267.9 611.6,268.5 611.7,269.3 611.8,270.1 611.9,271.8 612.0,270.9 612.1,273.3 612.1,272.9 612.2,272.7 612.3,270.7 612.4,274.7 612.5,274.7 612.5,274.5 612.6,275.5 612.7,276.0 612.8,273.8 612.9,275.8 612.9,274.6 613.0,275.4 613.1,275.8 613.2,278.7 613.3,278.2 613.3,280.4 613.4,277.7 613.5,279.0 613.6,278.8 613.6,280.0 613.7,279.6 613.8,280.5 613.9,282.2 614.0,282.1 614.0,282.6 614.1,281.0 614.2,283.6 614.3,284.6 614.4,282.9 614.4,283.1 614.5,284.0 614.6,285.6 614.7,285.7 614.8,284.4 614.8,285.0 614.9,285.8 615.0,286.3 615.1,287.5 615.2,286.2 615.2,286.5 615.3,286.3 615.4,287.6 615.5,286.5 615.6,286.8 615.6,286.5 615.7,290.4 615.8,289.8 615.9,288.9 615.9,287.5 616.0,292.1 616.1,288.8 616.2,288.8 616.3,290.4 616.3,291.1 616.4,292.4 616.5,290.7 616.6,288.5 616.7,290.7 616.7,290.9 616.8,293.0 616.9,292.7 617.0,291.4 617.1,292.3 617.1,293.8 617.2,292.1 617.3,292.4 617.4,295.0 617.4,295.3 617.5,293.3 617.6,292.9 617.7,295.7 617.8,293.9 617.8,294.5 617.9,294.5 618.0,294.5 618.1,294.1 618.2,296.3 618.2,295.3 618.3,295.9 618.4,294.1 618.5,295.3 618.6,295.4 618.6,294.4 618.7,295.5 618.8,296.3 618.9,297.3 619.0,296.9 619.0,296.2 619.1,300.7 619.2,298.5 619.3,298.9 619.4,298.9 619.5,302.2 619.5,301.5 619.6,299.3 619.7,301.3 619.8,299.2 619.9,298.5 619.9,302.7 620.0,301.9 620.1,301.1 620.2,302.0 620.3,297.7 620.3,301.2 620.4,301.0 620.5,301.3 620.6,300.9 620.7,303.3 620.7,302.0 620.8,301.9 620.9,300.9 621.0,300.1 621.0,303.9 621.1,299.8 621.2,301.3 621.3,299.6 621.4,301.0 621.4,300.3 621.5,298.7 621.6,300.9 621.7,300.6 621.8,298.1 621.8,299.7 621.9,303.6 622.0,301.0 622.1,299.2 622.2,298.4 622.2,301.7 622.3,299.6 622.4,300.3 622.5,299.5 622.5,300.0 622.6,303.1 622.7,300.0 622.8,300.4 622.9,300.8 622.9,299.1 623.0,299.0 623.1,298.6 623.2,299.7 623.3,299.6 623.3,299.0 623.4,301.4 623.5,299.2 623.6,299.4 623.7,300.0 623.7,302.1 623.8,301.9 623.9,300.1 624.0,299.9 624.1,300.1 624.1,302.4 624.2,301.5 624.3,300.8 624.4,302.1 624.5,303.1 624.5,302.3 624.6,302.2 624.7,302.7 624.8,304.2 624.8,303.1 624.9,304.0 625.0,305.2 625.1,306.6 625.2,303.2 625.2,303.4 625.3,304.0 625.4,304.0 625.5,302.9 625.6,301.9 625.6,303.5 625.7,302.9 625.8,303.7 626.6,288.5 626.7,287.0 626.8,285.2 626.8,283.7 626.9,282.4 627.0,280.9 627.1,279.3 627.2,277.8 627.2,276.0 627.3,274.9 627.4,273.1 627.5,271.6 627.6,270.0 627.6,268.6 627.7,266.8 627.8,265.5 627.9,264.3 628.0,262.5 628.0,261.1 628.1,259.4 628.2,257.8 628.3,256.9 628.4,255.4 628.4,254.6 628.5,252.5 628.6,252.0 628.7,251.0 628.8,249.9 628.8,248.4 628.9,247.5 629.0,246.1 629.1,244.9 629.2,243.8 629.2,242.9 629.3,241.5 629.4,240.3 629.5,238.7 629.6,237.8 629.7,236.5 629.7,235.4 629.8,234.4 629.9,233.4 630.0,232.2 630.1,230.9 630.1,229.6 630.2,228.3 630.3,227.4 630.4,226.1 630.5,225.2 630.5,224.1 630.6,223.1 630.7,221.9 630.8,221.2 630.9,219.6 630.9,219.1 631.0,217.6 631.1,216.7 631.2,215.6 631.3,214.4 631.3,213.6 631.4,212.3 631.5,211.0 631.6,209.9 631.7,208.7 631.7,208.5 631.8,206.8 631.9,206.1 632.0,205.2 632.1,203.9 632.1,203.2 632.2,202.0 632.3,200.7 632.4,199.8 632.5,199.6 632.5,198.4 632.6,197.9 632.7,198.3 632.8,196.7 632.9,196.3 632.9,196.1 633.0,194.2 633.1,194.2 633.2,193.8 633.3,192.3 633.3,191.6 633.4,190.9 633.5,190.7 633.6,189.0 633.7,187.8 633.7,189.5 633.8,187.7 633.9,187.4 634.0,186.3 634.0,186.4 634.1,184.8 634.2,183.7 634.3,183.9 634.4,182.6 634.4,182.0 634.5,181.6 634.6,182.2 634.7,181.0 634.8,180.7 634.8,178.9 634.9,178.0 635.0,177.2 635.1,176.8 635.2,177.6 635.2,176.5 635.3,174.7 635.4,174.7 635.5,173.0 635.6,172.6 635.6,172.0 635.7,170.1 635.8,169.7 635.9,169.0 636.0,168.3 636.0,167.9 636.1,166.7 636.2,165.0 636.3,166.1 636.4,165.6 636.4,164.7 636.5,164.1 636.6,162.5 636.7,163.6 636.8,163.4 636.8,161.5 636.9,162.3 637.0,160.7 637.1,161.3 637.2,160.1 637.2,160.1 637.3,159.1 637.4,157.2 637.5,157.4 637.6,158.1 637.6,157.8 637.7,155.7 637.8,157.1 637.9,155.7 638.0,154.6 638.0,154.1 638.1,154.5 638.2,154.5 638.3,153.0 638.4,152.5 638.4,152.9 638.5,151.1 638.6,153.9 638.7,150.9 638.7,150.7 638.8,148.5 638.9,149.0 639.0,148.7 639.1,146.8 639.1,147.1 639.2,146.5 639.3,146.1 639.4,146.2 639.5,145.2 639.5,144.2 639.6,144.5 639.7,145.3 639.8,139.5 639.9,144.3 639.9,141.9 640.0,141.6 640.1,141.5 640.2,141.5 640.3,139.5 640.3,139.0 640.4,139.7 640.5,139.6 640.6,137.4 640.7,137.2 640.7,137.2 640.8,136.3 640.9,136.3 641.0,136.8 641.1,136.3 641.1,134.9 641.2,136.1 641.3,134.1 641.4,134.8 641.5,134.5 641.5,132.5 641.6,133.5 641.7,132.9 641.8,131.3 641.9,131.8 641.9,130.7 642.0,132.1 642.1,129.7 642.2,128.2 642.3,129.3 642.3,129.7 642.4,129.4 642.5,128.2 642.6,128.7 642.7,128.3 642.7,127.3 642.8,126.7 642.9,126.2 643.0,126.1 643.1,126.7 643.1,125.0 643.2,126.2 643.3,125.5 643.4,122.6 643.5,123.7 643.5,124.7 643.6,124.6 643.7,121.6 643.8,122.5 643.9,119.6 643.9,121.7 644.0,121.6 644.1,122.1 644.2,120.9 644.3,120.5 644.3,120.2 644.4,119.7 644.5,118.7 644.6,117.5 644.7,117.9 644.7,117.1 644.8,116.7 644.9,117.1 645.0,117.1 645.1,112.1 645.1,115.0 645.2,116.5 645.3,114.8 645.4,114.3 645.5,112.8 645.5,112.4 645.6,113.9 645.7,112.2 645.8,111.0 645.9,112.1 645.9,110.8 646.0,111.6 646.1,110.4 646.2,111.3 646.3,108.4 646.3,112.5 646.4,109.5 646.5,107.3 646.6,108.7 646.7,107.9 646.7,113.4 646.8,107.4 646.9,105.6 647.0,104.8 647.0,104.9 647.1,106.6 647.2,104.7 647.3,101.1 647.4,104.0 647.4,104.1 647.5,104.2 647.6,102.3 647.7,101.9 647.8,100.9 647.8,101.1 647.9,102.4 648.0,101.4 648.1,100.5 648.2,99.0 648.2,98.7 648.3,98.4 648.4,98.7 648.5,99.5 648.6,96.8 648.6,96.0 648.7,95.8 648.8,95.8 648.9,95.8 649.0,95.6 649.0,97.0 649.1,94.2 649.2,94.4 649.3,93.9 649.4,93.3 649.4,94.7 649.5,91.7 649.6,93.5 649.7,91.2 649.8,92.2 649.8,90.2 649.9,93.8 650.0,92.8 650.1,90.4 650.2,90.1 650.2,90.6 650.3,90.1 650.4,89.7 650.5,88.6 650.6,89.1 650.6,88.8 650.7,87.9 650.8,89.3 650.9,87.8 651.0,85.6 651.0,86.9 651.1,87.4 651.2,87.8 651.3,85.8 651.4,86.5 651.4,86.3 651.5,85.2 651.6,82.9 651.7,83.8 651.8,83.9 651.8,82.4 651.9,83.1 652.0,83.3 652.1,77.4 652.2,81.9 652.2,82.4 652.3,83.5 652.4,81.3 652.5,86.3 652.6,81.1 652.6,81.1 652.7,79.2 652.8,79.1 652.9,79.0 653.0,81.1 653.0,79.0 653.1,78.1 653.2,78.1 653.3,77.2 653.4,77.0 653.4,78.7 653.5,77.7 653.6,76.7 653.7,76.7 653.8,75.9 653.8,73.2 653.9,75.9 654.0,77.4 654.1,76.1 654.2,73.5 654.2,74.9 654.3,70.6 654.4,74.1 654.5,73.0 654.6,71.9 654.6,71.3 654.7,70.8 654.8,70.4 654.9,71.0 655.0,71.5 655.0,68.3 655.1,69.2 655.2,72.2 655.3,70.4 655.4,67.9 655.4,68.0 655.5,67.9 655.6,69.8 655.7,67.3 655.8,69.0 655.8,68.1 655.9,68.5 656.0,67.0 656.1,67.0 656.2,67.1 656.2,68.3 656.3,66.0 656.4,67.9 656.5,66.4 656.6,67.7 656.6,67.6 656.7,65.4 656.8,67.5 656.9,66.3 657.0,66.2 657.0,66.4 657.1,64.8 657.2,65.9 657.3,66.2 657.4,66.3 657.4,65.3 657.5,65.3 657.6,64.3 657.7,63.7 657.8,63.9 657.8,64.5 657.9,65.8 658.0,61.4 658.1,65.4 658.2,65.3 658.2,63.0 658.3,62.5 658.4,61.9 658.5,64.6 658.5,63.2 658.6,63.4 658.7,62.2 658.8,61.6 658.9,62.5 658.9,63.4 659.0,63.4 659.1,60.5 659.2,64.4 659.3,63.4 659.3,61.9 659.4,59.5 659.5,62.1 659.6,58.6 659.7,59.0 659.7,60.5 659.8,61.5 659.9,61.4 660.0,61.6 660.1,58.3 660.1,57.8 660.2,59.3 660.3,61.3 660.4,58.2 660.5,57.2 660.5,58.1 660.6,60.1 660.7,60.2 660.8,58.2 660.9,56.4 660.9,58.0 661.0,55.9 661.1,55.4 661.2,55.6 661.3,57.2 661.3,53.3 661.4,56.3 661.5,55.0 661.6,53.5 661.7,54.6 661.7,54.2 661.8,54.5 661.9,52.1 662.0,53.5 662.1,53.4 662.2,53.3 662.2,55.1 662.3,52.5 662.4,51.2 662.5,50.2 662.6,50.3 662.6,53.9 662.7,50.8 662.8,50.8 662.9,52.5 663.0,48.8 663.0,49.2 663.1,48.6 663.2,49.6 663.3,50.3 663.4,48.2 663.4,47.6 663.5,48.5 663.6,46.2 663.7,49.2 663.8,49.3 663.8,47.2 663.9,47.7 664.0,47.2 664.1,48.5 664.2,45.5 664.2,47.1 664.3,45.0 664.4,44.4 664.5,44.5 664.6,43.7 664.7,44.5 664.7,43.6 664.8,45.3 664.9,43.8 665.0,42.8 665.1,43.7 665.1,40.7 665.2,42.2 665.3,40.9 665.4,41.2 665.5,42.5 665.5,42.1 665.6,40.5 665.7,40.0 665.8,39.7 665.9,40.3 665.9,39.7 666.0,39.0 666.1,40.3 666.2,39.3 666.3,39.0 666.3,40.2 666.4,40.1 666.5,37.4 666.6,39.3 666.6,38.1 666.7,36.9 666.8,37.4 666.9,37.0 667.0,36.7 667.0,37.1 667.1,35.8 667.2,37.1 667.3,33.5 667.4,34.0 667.4,32.7 667.5,33.4 667.6,38.7 667.7,36.1 667.8,37.1 667.8,33.7 667.9,33.8 668.0,33.6 668.1,34.0 668.1,35.1 668.2,33.7 668.3,32.2 668.4,34.6 668.5,33.2 668.5,32.6 668.6,33.1 668.7,33.4 668.8,31.4 668.9,32.5 668.9,34.3 669.0,34.9 669.1,31.8 669.2,32.4 669.3,31.9 669.3,30.7 669.4,27.9 669.5,36.1 669.6,32.5 669.7,32.8 669.7,29.5 669.8,31.3 669.9,31.1 670.0,30.2 670.1,30.8 670.1,30.8 670.2,31.0 670.3,30.6 670.4,32.7 670.5,31.6 670.5,31.3 670.6,32.5 670.7,33.1 670.8,30.1 670.9,33.3 670.9,30.9 671.0,29.4 671.1,30.4 671.2,29.5 671.3,28.5 671.3,28.1 671.4,27.7 671.5,29.5 671.6,30.9 671.7,25.1 671.8,22.8 671.8,28.3 671.9,28.4 672.0,27.8 672.1,30.1 672.2,27.8 672.2,28.6 672.3,28.2 672.4,26.1 672.5,27.1 672.6,28.1 672.6,27.8 672.7,28.8 672.8,30.4 672.9,28.9 673.0,26.6 673.0,26.7 673.1,27.5 673.2,25.8 673.3,25.4 673.4,26.5 673.4,29.4 673.5,26.8 673.6,27.1 673.7,25.1 673.8,30.6 673.8,29.7 673.9,26.8 674.0,25.3 674.1,27.0 674.2,27.6 674.2,25.5 674.3,26.0 674.4,25.3 674.5,24.6 674.6,25.7 674.6,24.4 674.7,24.9 674.8,27.3 675.4,200.0 675.5,222.7 675.5,245.3 675.6,268.0 675.7,268.6 675.8,269.2 675.8,269.1 675.9,270.2 676.0,271.5 676.1,272.5 676.2,273.0 676.2,273.3 676.3,274.4 676.4,273.6 676.5,275.7 676.6,275.9 676.6,274.1 676.7,276.1 676.8,278.1 676.9,277.2 677.0,278.3 677.0,278.5 677.1,279.3 677.2,280.0 677.3,280.7 677.4,279.9 677.4,280.5 677.5,283.0 677.6,281.1 677.7,282.4 677.8,282.4 677.8,282.2 677.9,284.8 678.0,284.9 678.1,283.3 678.2,283.9 678.2,285.2 678.3,285.8 678.4,285.8 678.5,286.6 678.6,288.4 678.6,287.0 678.7,286.8 678.8,288.6 678.9,289.8 678.9,288.9 679.0,292.3 679.1,290.6 679.2,290.0 679.3,292.4 679.3,290.4 679.4,292.5 679.5,290.2 679.6,292.3 679.7,294.3 679.7,295.2 679.8,293.0 679.9,294.8 680.0,295.0 680.1,295.1 680.1,296.6 680.2,296.0 680.3,295.0 680.4,296.2 680.5,296.7 680.5,295.7 680.6,296.3 680.7,296.5 680.8,295.0 680.9,296.3 680.9,298.5 681.0,297.5 681.1,295.8 681.2,296.9 681.3,296.8 681.3,296.7 681.4,296.2 681.5,297.7 681.6,297.3 681.7,298.2 681.7,302.2 681.8,297.8 681.9,298.8 682.0,297.6 682.1,296.7 682.1,298.3 682.2,298.8 682.3,299.2 682.4,299.2 682.5,303.6 682.5,299.1 682.6,299.2 682.7,300.3 682.8,300.6 682.9,297.0 682.9,300.7 683.0,299.4 683.1,300.0 683.2,299.1 683.3,299.2 683.3,300.1 683.4,301.3 683.5,300.2 683.6,301.2 683.7,300.2 683.7,301.7 683.8,301.7 683.9,300.9 684.0,301.4 684.1,301.2 684.1,302.9 684.2,301.9 684.3,301.6 684.4,308.9 684.5,300.8 684.5,302.7 684.6,303.9 684.7,302.0 684.8,303.9 684.9,301.7 684.9,304.3 685.0,304.0 685.1,303.0 685.2,303.8 685.3,302.2 685.3,300.7 685.4,302.6 685.5,303.2 685.6,304.7 685.7,302.0 685.7,303.0 685.8,302.2 685.9,303.1 686.0,303.3 686.1,302.3 686.1,304.6 686.2,304.5 686.3,304.9 686.4,303.6 686.5,304.0 686.5,302.3 686.6,303.2 686.7,304.7 686.8,302.1 686.8,305.6 686.9,302.4 687.0,303.6 687.1,304.2 687.2,304.9 687.2,303.6 687.3,304.6 687.4,304.6 687.5,305.5 687.6,304.0 687.6,306.1 687.7,305.6 687.8,305.1 687.9,307.5 688.0,304.8 688.0,304.6 688.1,307.2 688.2,304.7 688.3,303.0 688.4,304.0 688.4,305.9 688.5,306.2 688.6,308.8 688.7,306.5 688.8,305.3 688.8,305.3 688.9,305.3 689.0,307.7 689.1,305.1 689.2,305.3 689.2,305.7 689.3,307.0 689.4,305.7 689.5,304.2 689.6,304.5 689.6,307.2 689.7,305.4 689.8,308.9 689.9,307.2 690.0,305.5 690.0,308.3 690.1,306.4 690.2,306.0 690.3,305.9 690.4,304.6 690.5,303.3 690.5,304.8 690.6,305.0 690.7,311.7 690.8,306.7 690.9,307.8 690.9,305.1 691.0,306.1 691.1,304.9 691.9,288.9 692.0,287.1 692.1,286.3 692.1,284.8 692.2,283.9 692.3,282.4 692.4,281.3 692.5,280.2 692.5,279.0 692.6,277.6 692.7,276.4 692.8,275.5 692.9,274.3 692.9,272.8 693.0,271.7 693.1,270.7 693.2,269.1 693.2,268.2 693.3,267.3 693.4,265.7 693.5,264.5 693.6,263.5 693.6,262.1 693.7,261.6 693.8,259.8 693.9,258.6 694.0,257.2 694.0,256.0 694.1,254.8 694.2,253.8 694.3,252.7 694.4,251.2 694.4,250.1 694.5,248.5 694.6,247.5 694.7,246.4 694.8,245.0 694.8,244.5 694.9,243.1 695.0,242.0 695.1,241.0 695.2,240.2 695.2,239.2 695.3,237.6 695.4,236.7 695.5,235.5 695.5,234.6 695.6,233.7 695.7,232.3 695.8,231.5 695.9,230.5 695.9,229.0 696.0,228.0 696.1,226.7 696.2,226.2 696.3,224.7 696.3,223.5 696.4,222.7 696.5,221.8 696.6,220.6 696.7,219.8 696.7,218.9 696.8,217.8 696.9,216.0 697.0,215.6 697.0,214.2 697.1,213.0 697.2,212.4 697.3,210.7 697.4,210.2 697.4,208.6 697.5,208.1 697.6,206.6 697.7,206.0 697.8,205.0 697.8,204.0 697.9,203.3 698.0,202.1 698.1,201.6 698.2,201.4 698.2,201.3 698.3,199.8 698.4,198.4 698.5,198.0 698.6,196.6 698.6,196.6 698.7,195.2 698.8,197.4 698.9,193.2 699.0,192.2 699.0,192.6 699.1,191.1 699.2,190.2 699.3,190.7 699.3,188.8 699.4,188.0 699.5,186.6 699.6,186.0 699.7,185.5 699.7,184.3 699.8,183.3 699.9,182.6 700.0,182.0 700.1,181.5 700.1,179.9 700.2,178.9 700.3,177.9 700.4,177.2 700.5,176.3 700.5,176.4 700.6,175.9 700.7,175.3 700.8,174.9 700.9,176.9 700.9,172.6 701.0,168.3 701.1,167.7 701.2,171.6 701.3,170.9 701.3,170.3 701.4,171.4 701.5,170.8 701.6,170.3 701.7,170.4 701.8,169.6 701.8,168.4 701.9,166.3 702.0,169.0 702.1,168.0 702.2,166.1 702.2,166.6 702.3,166.2 702.4,166.3 702.5,164.7 702.6,166.6 702.6,164.8 702.7,165.9 702.8,162.8 702.9,164.5 703.0,163.2 703.0,163.9 703.1,163.3 703.2,161.0 703.3,161.8 703.4,162.4 703.4,159.8 703.5,160.7 703.6,160.1 703.7,159.1 703.8,159.2 703.8,158.2 703.9,159.0 704.0,156.2 704.1,158.4 704.2,156.6 704.2,156.6 704.3,156.8 704.4,155.7 704.5,154.6 704.6,155.4 704.6,155.6 704.7,154.2 704.8,153.6 704.9,153.5 705.0,154.3 705.0,150.3 705.1,151.9 705.2,151.4 705.3,150.3 705.4,150.5 705.4,150.4 705.5,150.2 705.6,149.1 705.7,151.5 705.8,149.4 705.8,149.3 705.9,148.2 706.0,147.4 706.1,146.6 706.2,146.3 706.2,144.7 706.3,145.3 706.4,144.9 706.5,144.8 706.6,142.4 706.6,144.0 706.7,142.4 706.8,143.1 706.9,142.2 707.0,142.2 707.0,140.4 707.1,141.9 707.2,139.6 707.3,139.7 707.4,139.3 707.4,140.6 707.5,139.0 707.6,139.7 707.7,136.4 707.8,136.0 707.8,137.2 707.9,136.9 708.0,134.6 708.1,135.4 708.2,134.6 708.2,134.8 708.3,134.4 708.4,133.1 708.5,132.3 708.6,133.5 708.6,132.4 708.7,131.5 708.8,131.0 708.9,129.8 709.0,130.9 709.0,129.6 709.1,128.2 709.2,129.7 709.3,128.7 709.4,127.6 709.4,127.4 709.5,127.5 709.6,125.0 709.7,124.7 709.8,124.8 709.8,124.3 709.9,124.6 710.0,122.9 710.1,123.8 710.2,122.1 710.2,122.6 710.3,120.6 710.4,121.4 710.5,121.2 710.6,121.7 710.6,120.4 710.7,120.5 710.8,119.9 710.9,119.4 711.0,117.7 711.0,118.6 711.1,117.2 711.2,118.7 711.3,116.7 711.4,114.8 711.4,116.6 711.5,115.0 711.6,113.9 711.7,114.7 711.8,113.8 711.8,113.1 711.9,112.8 712.0,112.5 712.1,112.0 712.2,111.3 712.2,111.0 712.3,111.5 712.4,109.2 712.5,108.9 712.6,109.3 712.6,110.1 712.7,109.6 712.8,109.8 712.9,107.8 713.0,108.5 713.0,106.9 713.1,106.3 713.2,106.1 713.3,104.5 713.4,105.4 713.4,104.0 713.5,105.6 713.6,105.2 713.7,103.5 713.8,104.6 713.8,104.0 713.9,103.4 714.0,102.2 714.1,104.2 714.2,102.1 714.2,103.1 714.3,101.2 714.4,101.5 714.5,101.7 714.6,101.0 714.6,100.9 714.7,98.3 714.8,97.1 714.9,98.8 715.0,98.6 715.0,98.4 715.1,96.6 715.2,96.3 715.3,95.2 715.4,94.7 715.4,95.6 715.5,97.4 715.6,94.2 715.7,96.8 715.7,94.5 715.8,95.1 715.9,92.9 716.0,91.8 716.1,94.0 716.1,92.3 716.2,90.4 716.3,90.5 716.4,91.6 716.5,92.1 716.5,90.6 716.6,90.7 716.7,88.5 716.8,91.0 716.9,90.1 716.9,89.1 717.0,90.0 717.1,89.7 717.2,88.0 717.3,85.2 717.3,88.9 717.4,87.0 717.5,85.9 717.6,86.2 717.7,86.4 717.7,86.2 717.8,86.0 717.9,82.8 718.0,85.8 718.1,83.0 718.1,84.4 718.2,82.4 718.3,82.1 718.4,82.2 718.5,81.6 718.5,81.5 718.6,80.9 718.7,79.4 718.8,80.6 718.9,79.2 718.9,78.7 719.0,79.1 719.1,77.8 719.2,77.3 719.3,76.3 719.3,76.8 719.4,77.0 719.5,77.2 719.6,76.5 719.7,78.1 719.7,75.3 719.8,75.6 719.9,77.8 720.0,75.8 720.1,77.8 720.1,77.0 720.2,74.6 720.3,76.7 720.4,72.8 720.5,75.3 720.5,74.1 720.6,73.2 720.7,73.1 720.8,72.5 720.9,74.2 720.9,74.5 721.0,74.3 721.1,72.6 721.2,76.2 721.3,69.6 721.3,70.6 721.4,73.3 721.5,72.1 721.6,71.0 721.7,71.0 721.7,72.4 721.8,69.6 721.9,69.9 722.0,71.4 722.1,66.2 722.1,69.9 722.2,68.7 722.3,69.2 722.4,70.4 722.5,66.7 722.5,69.0 722.6,68.2 722.7,64.9 722.8,67.5 722.9,68.8 722.9,66.7 723.0,68.2 723.1,66.0 723.2,66.2 723.3,65.7 723.3,66.1 723.4,64.7 723.5,63.3 723.6,63.0 723.7,66.2 723.7,63.6 723.8,66.2 723.9,65.9 724.0,58.3 724.1,62.8 724.1,61.6 724.2,63.3 724.3,61.2 724.4,60.4 724.5,63.8 724.5,61.5 724.6,61.8 724.7,60.3 724.8,60.8 724.9,62.9 724.9,62.1 725.0,58.0 725.1,60.6 725.2,60.1 725.3,58.8 725.3,57.2 725.4,59.1 725.5,57.8 725.6,59.3 725.7,59.6 725.7,56.9 725.8,57.8 725.9,56.4 726.0,57.5 726.1,55.2 726.1,57.9 726.2,57.5 726.3,57.0 726.4,61.2 726.5,57.7 726.6,56.8 726.6,54.8 726.7,54.6 726.8,55.8 726.9,55.0 727.0,55.4 727.0,51.8 727.1,54.5 727.2,55.9 727.3,55.3 727.4,53.8 727.4,55.2 727.5,56.0 727.6,54.7 727.7,52.2 727.8,53.4 727.8,53.2 727.9,54.2 728.0,53.0 728.1,54.5 728.2,51.6 728.2,49.9 728.3,50.6 728.4,48.8 728.5,49.7 728.6,48.7 728.6,46.5 728.7,50.1 728.8,43.9 728.9,49.6 729.0,50.6 729.1,47.5 729.1,49.1 729.2,48.9 729.3,50.0 729.4,49.0 729.5,49.0 729.5,48.4 729.6,47.2 729.7,49.1 729.8,49.1 729.9,46.9 729.9,48.3 730.0,47.2 730.1,46.5 730.2,46.4 730.3,47.4 730.3,48.1 730.4,49.1 730.5,49.1 730.6,43.4 730.7,44.7 730.7,45.1 730.8,45.0 730.9,44.2 731.0,41.9 731.1,41.9 731.1,42.8 731.2,43.0 731.3,43.7 731.4,44.5 731.5,42.4 731.5,43.0 731.6,44.4 731.7,44.8 731.8,44.9 731.9,42.8 731.9,43.7 732.0,41.5 732.1,43.2 732.2,43.3 732.3,42.3 732.3,42.6 732.4,40.8 732.5,44.3 732.6,39.9 732.7,41.3 732.7,39.2 732.8,41.1 732.9,41.4 733.0,43.7 733.0,38.8 733.1,41.1 733.2,39.4 733.3,38.0 733.4,40.6 733.4,40.4 733.5,42.6 733.6,38.6 733.7,39.5 733.8,39.2 733.8,36.8 733.9,38.6 734.0,38.1 734.1,37.1 734.2,37.4 734.2,37.8 734.3,36.2 734.4,37.7 734.5,36.9 734.6,38.3 734.6,40.9 734.7,37.9 734.8,36.4 734.9,37.1 735.0,35.1 735.0,35.4 735.1,37.4 735.2,37.8 735.3,35.2 735.4,34.4 735.4,35.6 735.5,36.4 735.6,34.3 735.7,37.2 735.8,34.8 735.8,33.5 735.9,35.3 736.0,35.0 736.1,33.6 736.2,33.9 736.2,33.7 736.3,32.0 736.4,35.6 736.5,33.3 736.6,31.6 736.7,29.7 736.7,32.5 736.8,31.7 736.9,31.9 737.0,29.4 737.1,29.1 737.1,30.2 737.2,30.1 737.3,29.8 737.4,29.9 737.5,28.5 737.5,31.8 737.6,28.8 737.7,29.3 737.8,25.8 737.9,32.9 737.9,28.9 738.0,28.2 738.1,27.1 738.2,26.5 738.3,27.4 738.3,27.7 738.4,27.1 738.5,26.9 738.6,27.7 738.7,27.4 738.7,24.7 738.8,25.1 738.9,26.2 739.0,25.9 739.1,27.8 739.1,24.5 739.2,21.7 739.3,25.1 739.4,26.9 739.5,26.0 739.6,24.8 739.6,21.3 739.7,23.5 739.8,21.8 739.9,21.4 740.0,22.3 740.0,23.6 740.1,18.8 740.2,20.8 740.3,20.8 740.4,20.1 740.4,20.5 740.5,22.5 740.6,21.0 741.1,200.0 741.2,208.2 741.3,216.5 741.3,224.7 741.4,232.9 741.5,241.2 741.6,249.4 741.7,257.6 741.7,265.8 741.8,274.1 741.9,282.3 742.0,282.7 742.1,283.1 742.1,283.4 742.2,282.4 742.3,285.6 742.4,284.8 742.5,286.7 742.5,284.4 742.6,285.2 742.7,286.9 742.8,286.2 742.9,286.3 742.9,288.9 743.0,288.8 743.1,290.0 743.2,287.5 743.2,288.1 743.3,291.8 743.4,289.8 743.5,290.7 743.6,292.0 743.6,292.7 743.7,292.6 743.8,292.0 743.9,292.5 744.0,294.3 744.0,294.0 744.1,293.8 744.2,294.6 744.3,294.7 744.4,301.6 744.4,300.1 744.5,296.9 744.6,296.7 744.7,297.2 744.8,295.3 744.8,296.9 744.9,298.7 745.0,298.2 745.1,298.0 745.2,299.7 745.2,296.0 745.3,298.2 745.4,298.9 745.5,300.7 745.6,297.9 745.6,297.8 745.7,301.0 745.8,298.6 745.9,300.4 746.0,301.1 746.0,298.5 746.1,298.1 746.2,299.9 746.3,300.1 746.4,299.0 746.4,303.1 746.5,301.0 746.6,300.6 746.7,303.6 746.8,300.4 746.8,304.2 746.9,302.5 747.0,303.7 747.1,302.4 747.2,303.1 747.2,301.3 747.3,302.1 747.4,302.2 747.5,303.6 747.6,303.9 747.6,303.7 747.7,301.5 747.8,304.0 747.9,302.4 748.0,303.7 748.0,304.0 748.1,306.7 748.2,303.2 748.3,304.0 748.4,304.2 748.4,303.5 748.5,303.7 748.6,305.9 748.7,303.2 748.8,308.9 748.8,304.6 748.9,304.9 749.0,304.8 749.1,312.9 749.2,304.3 749.2,308.0 749.3,304.4 749.4,305.2 749.5,305.5 749.6,304.2 749.6,307.8 749.7,306.4 749.8,306.3 749.9,302.6 750.0,306.1 750.0,311.3 750.1,307.8 750.2,306.3 750.3,306.4 750.4,307.8 750.4,309.5 750.5,306.7 750.6,310.5 750.7,306.0 750.8,306.3 750.9,306.2 750.9,306.1 751.0,306.6 751.1,305.0 751.2,307.1 751.3,309.0 751.3,308.6 751.4,308.5 751.5,308.3 751.6,308.3 751.7,307.7 751.7,306.7 751.8,307.2 751.9,308.5 752.0,307.3 752.1,307.7 752.1,308.4 752.2,305.9 752.3,308.3 752.4,310.2 752.5,309.0 752.5,310.2 752.6,309.0 752.7,308.8 752.8,312.3 752.9,309.6 752.9,310.4 753.0,313.1 753.1,310.7 753.2,309.3 753.3,309.9 753.3,311.3 753.4,311.0 753.5,311.7 753.6,313.2 753.7,311.3 753.8,312.8 753.8,311.3 753.9,312.6 754.0,312.4 754.1,313.8 754.2,313.6 754.2,312.6 754.3,311.6 754.4,314.8 754.5,314.2 754.6,316.0 754.6,314.5 754.7,315.6 754.8,315.7 754.9,314.2 755.0,313.5 755.0,311.7 755.1,314.6 755.2,314.1 755.3,313.5 755.4,312.5 755.4,314.1 755.5,311.8 755.6,312.0 755.7,313.8 755.8,312.4 755.8,312.5 755.9,311.8 756.0,308.8 756.1,312.4 756.2,311.2 756.2,312.0 756.3,310.6 756.4,313.7 756.5,311.5 756.6,309.0 756.6,316.8 756.7,310.7 756.8,312.0 756.9,310.0 757.0,309.8 757.0,309.8 757.1,307.9 757.2,307.4 758.8,288.6 758.9,287.3 759.0,286.7 759.0,285.4 759.1,284.2 759.2,283.2 759.3,282.2 759.4,281.3 759.4,280.3 759.5,280.0 759.6,278.0 759.7,277.0 759.8,275.8 759.8,276.6 759.9,273.8 760.0,272.8 760.1,271.9 760.2,270.8 760.2,269.6 760.3,268.3 760.4,267.1 760.5,266.3 760.5,264.9 760.6,264.0 760.7,263.1 760.8,262.3 760.9,261.0 760.9,260.0 761.0,259.3 761.1,257.6 761.2,256.7 761.3,255.7 761.3,254.9 761.4,253.8 761.5,252.6 761.6,251.5 761.7,250.9 761.7,249.4 761.8,248.7 761.9,247.2 762.0,246.2 762.1,244.9 762.1,243.5 762.2,242.4 762.3,240.9 762.4,240.4 762.5,239.1 762.5,237.6 762.6,236.9 762.7,235.7 762.8,234.3 762.9,233.6 763.0,231.9 763.0,230.3 763.1,229.5 763.2,228.2 763.3,227.4 763.4,226.3 763.4,225.2 763.5,224.1 763.6,223.2 763.7,221.4 763.8,220.6 763.8,219.5 763.9,218.5 764.0,216.6 764.1,216.7 764.2,216.3 764.2,215.3 764.3,215.2 764.4,215.0 764.5,212.4 764.6,212.5 764.6,212.1 764.7,211.3 764.8,210.6 764.9,211.9 764.9,211.6 765.0,208.9 765.1,208.4 765.2,208.8 765.3,207.5 765.3,206.1 765.4,205.0 765.5,204.7 765.6,205.8 765.7,205.6 765.7,204.2 765.8,203.5 765.9,203.2 766.0,201.6 766.1,202.6 766.1,201.2 766.2,200.8 766.3,199.8 766.4,200.3 766.4,200.3 766.5,197.4 766.6,198.9 766.7,198.0 766.8,198.8 766.8,196.2 766.9,193.4 767.0,196.7 767.1,194.0 767.2,193.4 767.2,193.8 767.3,193.6 767.4,191.8 767.5,190.9 767.6,191.1 767.6,190.4 767.7,189.8 767.8,189.7 767.9,188.9 768.0,187.8 768.0,187.8 768.1,186.8 768.2,185.8 768.3,184.7 768.4,184.8 768.4,184.0 768.5,183.8 768.6,182.3 768.7,182.8 768.8,181.2 768.8,180.8 768.9,180.8 769.0,179.6 769.1,179.0 769.2,181.2 769.2,179.5 769.3,177.4 769.4,176.4 769.5,177.7 769.6,176.1 769.6,175.7 769.7,175.1 769.8,175.7 769.9,174.2 770.0,174.0 770.0,174.1 770.1,172.5 770.2,173.3 770.3,172.5 770.3,171.3 770.4,171.5 770.5,169.8 770.6,170.5 770.7,170.1 770.7,169.2 770.8,167.3 770.9,167.7 771.0,167.9 771.1,167.5 771.1,165.7 771.2,165.3 771.3,165.6 771.4,165.5 771.5,165.3 771.5,164.6 771.6,163.7 771.7,162.8 771.8,161.3 771.9,163.3 771.9,162.0 772.0,160.7 772.1,161.0 772.2,160.8 772.3,159.5 772.3,160.0 772.4,158.8 772.5,157.6 772.6,158.9 772.7,157.1 772.7,155.9 772.8,156.7 772.9,156.8 773.0,156.9 773.1,154.9 773.1,154.0 773.2,153.1 773.3,153.2 773.4,152.9 773.5,152.0 773.5,151.9 773.6,150.2 773.7,151.9 773.8,149.5 773.9,150.0 773.9,149.1 774.0,146.7 774.1,147.6 774.2,146.7 774.3,146.4 774.3,145.1 774.4,145.2 774.5,145.5 774.6,144.6 774.7,144.0 774.7,144.0 774.8,143.7 774.9,143.1 775.0,142.3 775.1,140.3 775.1,141.1 775.2,141.2 775.3,140.6 775.4,140.5 775.5,141.1 775.5,139.5 775.6,138.5 775.7,137.6 775.8,138.9 775.9,136.1 775.9,136.6 776.0,135.0 776.1,135.2 776.2,136.1 776.3,136.1 776.3,133.9 776.4,134.1 776.5,138.2 776.6,129.3 776.7,131.9 776.7,133.0 776.8,128.0 776.9,131.1 777.0,131.0 777.1,131.1 777.1,131.0 777.2,129.5 777.3,130.4 777.4,129.9 777.5,130.4 777.5,130.0 777.6,130.5 777.7,128.9 777.8,127.4 777.9,128.3 777.9,127.1 778.0,127.6 778.1,125.1 778.2,128.9 778.3,127.7 778.3,125.7 778.4,124.1 778.5,124.9 778.6,125.2 778.7,125.9 778.7,124.9 778.8,125.4 778.9,124.4 779.0,124.6 779.1,120.3 779.1,123.3 779.2,122.6 779.3,122.7 779.4,122.0 779.5,121.5 779.5,120.2 779.6,119.4 779.7,120.9 779.8,119.4 779.9,119.8 779.9,119.0 780.0,118.2 780.1,119.5 780.2,117.6 780.3,114.3 780.3,116.5 780.4,116.6 780.5,117.7 780.6,115.7 780.7,113.5 780.7,116.6 780.8,117.2 780.9,114.9 781.0,114.7 781.1,115.4 781.1,114.4 781.2,113.4 781.3,115.4 781.4,114.7 781.5,113.5 781.5,114.3 781.6,113.3 781.7,111.8 781.8,112.9 781.9,111.4 781.9,111.8 782.0,112.2 782.1,111.0 782.2,110.4 782.3,110.1 782.3,109.6 782.4,108.6 782.5,110.9 782.6,108.1 782.7,108.7 782.7,108.5 782.8,108.1 782.9,105.7 783.0,108.2 783.1,105.4 783.1,105.7 783.2,107.2 783.3,105.4 783.4,106.1 783.5,103.4 783.5,103.9 783.6,104.2 783.7,101.4 783.8,102.1 783.9,102.0 783.9,101.6 784.0,101.8 784.1,101.1 784.2,100.0 784.3,99.2 784.3,99.8 784.4,97.9 784.5,100.1 784.6,100.3 784.7,99.5 784.7,96.7 784.8,97.8 784.9,97.6 785.0,96.1 785.0,93.6 785.1,94.5 785.2,96.2 785.3,92.9 785.4,95.0 785.4,94.0 785.5,94.3 785.6,93.8 785.7,93.1 785.8,93.3 785.8,89.9 785.9,89.7 786.0,92.9 786.1,91.4 786.2,89.8 786.2,91.3 786.3,91.2 786.4,90.8 786.5,91.0 786.6,89.8 786.6,87.6 786.7,90.0 786.8,88.6 786.9,87.1 787.0,88.5 787.0,90.4 787.1,85.7 787.2,86.9 787.3,87.5 787.4,86.1 787.4,86.1 787.5,85.8 787.6,85.9 787.7,85.6 787.8,84.7 787.8,85.0 787.9,83.8 788.0,83.5 788.1,85.0 788.2,82.1 788.2,84.3 788.3,82.2 788.4,82.6 788.5,83.6 788.6,79.9 788.6,82.0 788.7,81.5 788.8,79.9 788.9,80.7 789.0,80.0 789.0,79.8 789.1,80.2 789.2,78.5 789.3,76.2 789.4,77.9 789.4,78.0 789.5,79.8 789.6,79.8 789.7,77.9 789.8,77.6 789.8,80.2 789.9,76.8 790.0,77.3 790.1,77.3 790.2,73.4 790.2,75.5 790.3,74.0 790.4,73.8 790.5,74.7 790.6,73.7 790.6,73.4 790.7,72.8 790.8,72.3 790.9,72.5 791.0,73.5 791.0,72.2 791.1,72.6 791.2,71.0 791.3,70.2 791.4,76.4 791.4,73.4 791.5,73.6 791.6,73.8 791.7,74.3 791.8,71.3 791.8,71.5 791.9,72.8 792.0,74.5 792.1,71.8 792.2,72.6 792.2,72.4 792.3,71.2 792.4,71.4 792.5,71.2 792.6,70.5 792.6,70.6 792.7,68.0 792.8,73.3 792.9,70.6 793.0,72.1 793.0,70.9 793.1,68.8 793.2,70.1 793.3,70.3 793.4,69.7 793.4,70.6 793.5,68.6 793.6,68.9 793.7,72.5 793.8,69.4 793.8,67.4 793.9,67.8 794.0,68.7 794.1,69.6 794.2,67.6 794.2,69.5 794.3,68.4 794.4,70.4 794.5,67.5 794.6,67.0 794.6,69.3 794.7,69.0 794.8,70.1 794.9,71.0 794.9,69.9 795.0,67.8 795.1,69.0 795.2,69.9 795.3,69.4 795.3,68.0 795.4,69.7 795.5,66.9 795.6,69.0 795.7,69.0 795.7,70.1 795.8,69.5 795.9,69.3 796.0,67.8 796.1,68.0 796.1,67.8 796.2,67.7 796.3,67.1 796.4,67.1 796.5,67.8 796.5,67.1 796.6,65.9 796.7,69.6 796.8,67.0 796.9,65.0 796.9,66.2 797.0,67.5 797.1,67.7 797.2,65.4 797.3,73.4 797.3,67.6 797.4,67.2 797.5,67.7 797.6,67.7 797.7,67.2 797.7,68.1 797.8,66.2 797.9,66.4 798.0,66.1 798.1,68.4 798.1,66.3 798.2,69.5 798.3,66.7 798.4,66.7 798.5,65.9 798.5,63.6 798.6,62.6 798.7,64.8 798.8,62.1 798.9,62.8 798.9,61.1 799.0,63.9 799.1,63.3 799.2,62.9 799.2,60.7 799.3,59.7 799.4,61.3 799.5,62.2 799.6,64.5 799.6,57.8 799.7,60.6 799.8,58.9 799.9,59.4 800.0,57.3 800.0,59.1 800.1,59.1 800.2,57.4 800.3,57.2 800.4,59.4 800.4,55.7 800.5,54.5 800.6,56.5 800.7,55.6 800.7,54.4 800.8,56.2 800.9,53.5 801.0,52.7 801.1,53.1 801.1,53.0 801.2,52.3 801.3,52.1 801.4,53.2 801.5,52.0 801.5,54.4 801.6,50.8 801.7,48.1 801.8,52.7 801.9,50.0 801.9,51.8 802.0,52.1 802.1,52.7 802.2,52.8 802.3,49.8 802.3,51.9 802.4,50.0 802.5,42.9 802.6,47.4 802.7,49.7 802.7,50.2 802.8,49.2 802.9,50.1 803.0,48.2 803.1,49.6 803.1,48.2 803.2,50.6 803.3,47.6 803.4,46.4 803.5,48.2 803.5,46.5 803.6,47.3 803.7,48.3 803.8,47.8 803.9,46.2 803.9,48.1 804.0,47.4 804.1,44.2 804.2,46.2 804.3,43.6 804.3,47.1 804.4,47.1 804.5,46.5 804.6,47.7 804.7,46.0 804.7,46.6 804.8,46.8 804.9,45.6 805.0,45.3 805.1,46.7 805.1,44.3 805.2,44.3 805.3,48.0 805.4,46.7 805.5,40.9 805.5,47.2 805.6,45.7 805.7,45.1 805.8,44.9 805.9,43.2 805.9,41.5 806.0,43.3 806.1,41.6 806.2,41.9 806.3,42.0 806.3,42.5 806.4,40.1 806.5,41.0 806.6,44.4 806.7,40.4 806.7,38.6 806.8,44.5 806.9,40.9 807.0,41.3 807.1,44.6 807.1,39.9 807.2,41.0 807.3,41.6 807.4,42.8 807.5,38.9 807.5,39.8 807.6,38.4 807.7,37.8 807.8,40.0 807.9,34.7 807.9,40.8 808.0,39.0 808.1,38.2 808.2,35.9 808.3,38.9 808.3,37.0 808.4,37.2 808.5,35.5 808.6,36.3 808.7,37.3 808.7,36.9 808.8,34.9 808.9,35.8 809.0,35.2 809.1,34.5 809.1,32.7 809.2,35.1 809.3,35.2 809.4,33.3 809.5,33.0 809.5,35.0 809.6,34.7 809.7,31.5 809.8,30.9 809.9,34.6 809.9,38.6 810.0,32.2 810.1,32.7 810.2,32.6 810.3,29.0 810.3,30.4 810.4,30.1 810.5,30.2 810.6,31.9 810.7,30.6 810.8,28.5 810.8,29.7 810.9,33.0 811.0,29.3 811.1,29.1 811.2,29.3 811.2,28.4 811.3,28.4 811.4,29.8 811.5,28.6 811.6,29.2 811.6,28.9 811.7,27.2 811.8,27.5 811.9,29.3 812.0,26.7 812.0,26.5 812.1,23.1 812.2,26.5 812.3,25.1 812.4,25.2 812.4,24.0 812.5,22.9 812.6,24.0 812.7,26.1 812.8,24.8 812.8,23.2 812.9,22.9 813.0,22.7 813.1,24.1 813.2,21.3 813.2,21.0 813.3,22.0 813.4,21.4 813.5,23.4 813.5,22.2 813.6,19.7 813.7,19.2 813.8,20.4 813.9,19.1 813.9,18.4 814.0,18.4 814.5,200.0 814.6,212.0 814.7,224.0 814.8,236.0 814.8,248.1 814.9,260.1 815.0,272.1 815.1,273.9 815.2,275.7 815.2,278.0 815.3,279.3 815.4,281.1 815.5,282.9 815.6,284.4 815.7,286.4 815.8,288.3 815.8,289.6 815.9,291.2 816.0,294.0 816.1,295.6 816.2,297.7 816.2,295.7 816.3,292.7 816.4,294.3 816.5,294.5 816.6,294.5 816.6,296.9 816.7,296.6 816.8,295.1 816.9,294.6 816.9,295.1 817.0,296.6 817.1,296.3 817.2,294.6 817.3,297.8 817.3,294.9 817.4,294.5 817.5,297.3 817.6,296.0 817.7,297.8 817.7,297.4 817.8,297.9 817.9,297.8 818.0,296.5 818.1,298.4 818.1,300.2 818.2,299.3 818.3,298.3 818.4,299.2 818.4,298.7 818.5,298.3 818.6,299.3 818.7,300.5 818.8,301.2 818.8,298.1 818.9,300.1 819.0,300.8 819.1,301.3 819.2,300.0 819.2,299.1 819.3,301.4 819.4,300.5 819.5,300.8 819.6,300.2 819.6,301.2 819.7,300.9 819.8,302.0 819.9,302.5 820.0,300.6 820.0,303.4 820.1,297.6 820.2,302.0 820.3,300.9 820.4,303.7 820.4,301.9 820.5,304.1 820.6,303.0 820.7,303.5 820.7,300.2 820.8,301.0 820.9,302.8 821.0,304.8 821.1,302.5 821.1,303.5 821.2,304.8 821.3,305.2 821.4,303.7 821.5,303.0 821.5,304.1 821.6,304.8 821.7,304.7 821.8,304.6 821.9,305.9 821.9,305.4 822.0,306.7 822.1,304.0 822.2,305.0 822.3,305.4 822.3,306.5 822.4,304.2 822.5,305.3 822.6,305.9 822.7,304.5 822.7,305.5 822.8,305.6 822.9,305.4 823.0,306.4 823.1,306.3 823.1,305.5 823.2,304.6 823.3,306.7 823.4,305.3 823.5,304.4 823.5,305.6 823.6,311.8 823.7,305.3 823.8,307.9 823.9,308.2 823.9,303.8 824.0,306.1 824.1,306.0 824.2,304.1 824.3,308.2 824.4,306.7 824.4,306.0 824.5,306.2 824.6,309.5 824.7,307.3 824.8,307.2 824.8,316.9 824.9,306.7 825.0,308.5 825.1,308.5 825.2,306.1 825.2,305.8 825.3,307.5 825.4,310.1 825.5,306.7 825.6,309.3 825.6,307.6 825.7,307.7 825.8,308.8 825.9,308.9 826.0,308.9 826.0,311.0 826.1,308.2 826.2,310.9 826.3,309.2 826.4,308.7 826.4,307.3 826.5,309.4 826.6,309.3 826.7,309.4 826.8,306.5 826.8,310.0 826.9,309.5 827.0,309.5 827.1,310.2 827.2,309.9 827.2,310.6 827.3,311.1 827.4,314.3 827.5,309.3 827.6,311.5 827.6,309.9 827.7,310.7 827.8,314.8 827.9,311.5 828.0,313.1 828.0,310.0 828.1,310.9 828.2,313.0 828.3,309.6 828.4,311.1 828.4,312.5 828.5,311.8 828.6,313.0 828.7,311.5 828.8,311.2 828.8,310.4 828.9,312.5 829.0,312.3 829.1,310.9 829.2,311.1 829.2,314.3 829.3,311.3 829.4,313.2 829.5,310.3 829.6,311.0 829.6,312.0 829.7,311.1 829.8,311.7 829.9,312.2 830.0,309.7 830.0,312.0 830.1,311.9 830.2,309.8 830.3,309.1 830.4,313.3 830.5,310.7 830.5,311.2 830.6,312.1 830.7,311.3 830.8,309.1 830.9,308.4 830.9,309.2 831.0,310.6 831.1,311.7 831.2,312.0 831.3,311.0 831.3,311.0 831.4,310.2 831.5,311.2 831.6,309.4 831.7,311.4 831.7,310.6 831.8,311.0 831.9,311.4 832.0,310.9 832.1,309.0 832.1,310.6 832.2,308.9 832.3,310.0 833.3,296.5 833.4,295.1 833.5,294.4 833.5,293.2 833.6,292.2 833.7,291.0 833.8,290.2 833.9,288.9 833.9,287.7 834.0,286.6 834.1,285.5 834.2,285.2 834.3,283.7 834.3,282.3 834.4,281.2 834.5,280.2 834.6,279.0 834.7,277.9 834.8,276.8 834.8,275.4 834.9,274.5 835.0,273.8 835.1,272.3 835.2,271.3 835.2,270.3 835.3,269.1 835.4,268.2 835.5,266.9 835.6,265.9 835.6,264.7 835.7,264.3 835.8,263.0 835.9,262.6 836.0,261.0 836.0,260.1 836.1,259.1 836.2,258.1 836.3,257.2 836.4,255.9 836.4,255.2 836.5,254.4 836.6,253.5 836.7,252.4 836.8,251.5 836.8,250.6 836.9,249.4 837.0,248.6 837.1,247.3 837.2,246.2 837.2,245.2 837.3,244.4 837.4,243.5 837.5,242.7 837.6,242.0 837.6,240.8 837.7,240.0 837.8,239.3 837.9,237.4 838.0,236.7 838.0,236.2 838.1,235.1 838.2,234.6 838.3,233.4 838.4,231.8 838.4,231.2 838.5,230.5 838.6,229.3 838.7,228.6 838.8,227.5 838.8,226.5 838.9,225.8 839.0,224.4 839.1,223.5 839.1,222.8 839.2,221.4 839.3,220.9 839.4,220.2 839.5,220.9 839.5,217.9 839.6,216.7 839.7,216.1 839.8,215.5 839.9,214.5 839.9,212.9 840.0,212.3 840.1,212.1 840.2,210.2 840.3,209.3 840.3,208.9 840.4,207.4 840.5,207.3 840.6,205.4 840.7,206.0 840.7,204.5 840.8,204.2 840.9,203.1 841.0,202.9 841.1,203.4 841.1,202.1 841.2,201.2 841.3,200.0 841.4,199.4 841.4,199.3 841.5,198.5 841.6,197.7 841.7,197.0 841.8,196.4 841.8,196.5 841.9,194.6 842.0,195.6 842.1,194.2 842.2,192.7 842.2,192.6 842.3,193.6 842.4,191.5 842.5,190.5 842.6,189.4 842.6,189.3 842.7,186.9 842.8,187.7 842.9,188.0 842.9,186.5 843.0,186.0 843.1,185.9 843.2,181.2 843.3,184.2 843.3,183.6 843.4,183.4 843.5,182.2 843.6,181.6 843.7,184.9 843.7,180.4 843.8,180.6 843.9,180.5 844.0,181.4 844.1,179.8 844.1,180.9 844.2,178.6 844.3,177.9 844.4,178.3 844.5,177.6 844.5,177.1 844.6,176.6 844.7,176.8 844.8,174.6 844.9,175.0 844.9,174.1 845.0,173.7 845.1,175.7 845.2,174.0 845.2,172.9 845.3,172.0 845.4,173.2 845.5,172.6 845.6,170.8 845.6,170.3 845.7,171.0 845.8,171.3 845.9,169.2 846.0,170.3 846.0,169.5 846.1,167.1 846.2,168.7 846.3,166.8 846.4,167.2 846.4,166.2 846.5,166.9 846.6,165.9 846.7,165.4 846.8,165.0 846.8,164.0 846.9,165.0 847.0,164.3 847.1,162.5 847.2,163.8 847.2,162.8 847.3,162.1 847.4,162.5 847.5,161.5 847.6,160.5 847.6,161.3 847.7,159.9 847.8,159.2 847.9,159.3 848.0,158.5 848.0,159.2 848.1,157.6 848.2,157.9 848.3,156.8 848.4,156.2 848.4,154.7 848.5,155.2 848.6,155.2 848.7,155.4 848.8,155.1 848.8,154.3 848.9,152.6 849.0,153.5 849.1,153.2 849.2,151.8 849.2,152.3 849.3,152.5 849.4,151.7 849.5,152.5 849.5,151.1 849.6,149.5 849.7,150.4 849.8,148.6 849.9,150.2 849.9,149.3 850.0,147.0 850.1,147.9 850.2,146.9 850.3,147.6 850.3,147.1 850.4,142.5 850.5,146.2 850.6,144.4 850.7,144.6 850.7,144.1 850.8,144.1 850.9,141.8 851.0,139.8 851.1,143.1 851.1,138.6 851.2,142.3 851.3,141.7 851.4,140.4 851.5,141.1 851.5,140.6 851.6,140.5 851.7,137.9 851.8,139.5 851.9,139.1 851.9,138.0 852.0,137.8 852.1,136.7 852.2,134.7 852.3,138.0 852.3,136.7 852.4,137.3 852.5,135.5 852.6,135.9 852.7,136.6 852.7,135.0 852.8,135.6 852.9,134.4 853.0,134.8 853.1,132.3 853.1,135.1 853.2,132.8 853.3,135.1 853.4,133.1 853.5,130.3 853.5,132.7 853.6,130.7 853.7,130.2 853.8,130.7 853.9,130.8 853.9,130.1 854.0,131.9 854.1,130.9 854.2,129.4 854.3,130.5 854.3,129.2 854.4,129.8 854.5,130.1 854.6,127.7 854.7,127.5 854.7,126.6 854.8,127.8 854.9,122.0 855.0,125.1 855.1,124.8 855.1,125.8 855.2,126.2 855.3,124.0 855.4,123.5 855.5,124.2 855.5,123.7 855.6,123.0 855.7,122.8 855.8,123.4 855.9,122.6 855.9,119.5 856.0,121.4 856.1,120.6 856.2,121.4 856.3,121.0 856.3,122.4 856.4,120.3 856.5,118.6 856.6,119.0 856.7,118.9 856.7,117.9 856.8,118.9 856.9,117.0 857.0,117.1 857.1,116.9 857.1,116.6 857.2,116.3 857.3,116.3 857.4,117.4 857.5,116.5 857.5,116.5 857.6,114.6 857.7,114.9 857.8,113.7 857.9,114.9 857.9,114.8 858.0,111.8 858.1,114.2 858.2,111.4 858.3,112.2 858.3,113.7 858.4,111.7 858.5,111.2 858.6,111.7 858.7,109.2 858.7,109.5 858.8,109.6 858.9,111.8 859.0,107.5 859.1,107.3 859.1,107.6 859.2,109.3 859.3,107.4 859.4,107.0 859.5,108.7 859.5,105.4 859.6,108.1 859.7,106.1 859.8,107.9 859.9,106.9 859.9,106.6 860.0,105.6 860.1,105.8 860.2,104.9 860.3,104.1 860.3,106.0 860.4,106.6 860.5,104.3 860.6,103.1 860.7,102.0 860.7,102.9 860.8,100.9 860.9,102.6 861.0,102.8 861.1,98.9 861.1,100.9 861.2,100.2 861.3,100.9 861.4,100.5 861.5,100.0 861.5,98.5 861.6,97.9 861.7,99.9 861.8,99.0 861.9,97.3 861.9,99.0 862.0,95.4 862.1,95.5 862.2,95.1 862.3,96.5 862.3,95.3 862.4,95.8 862.5,94.9 862.6,93.5 862.7,95.5 862.7,94.8 862.8,94.4 862.9,93.3 863.0,92.7 863.1,94.5 863.1,92.6 863.2,94.1 863.3,91.5 863.4,93.1 863.5,91.9 863.5,92.0 863.6,88.4 863.7,89.9 863.8,88.9 863.9,89.7 864.0,90.5 864.0,89.6 864.1,87.0 864.2,89.2 864.3,88.7 864.4,87.0 864.4,86.7 864.5,87.9 864.6,84.9 864.7,88.2 864.8,88.2 864.8,85.9 864.9,84.1 865.0,86.0 865.1,84.2 865.2,83.9 865.2,84.6 865.3,84.1 865.4,85.6 865.5,84.8 865.6,83.5 865.6,80.8 865.7,81.9 865.8,80.0 865.9,80.5 866.0,80.1 866.0,81.9 866.1,81.8 866.2,78.3 866.3,81.0 866.4,78.0 866.4,79.3 866.5,79.3 866.6,80.0 866.7,77.5 866.8,76.7 866.8,76.4 866.9,78.3 867.0,76.1 867.1,77.8 867.2,78.1 867.2,76.4 867.3,74.9 867.4,75.6 867.5,76.2 867.6,76.2 867.6,74.2 867.7,73.3 867.8,71.7 867.9,73.8 868.0,73.6 868.0,73.3 868.1,71.9 868.2,74.2 868.3,72.2 868.4,73.4 868.4,73.2 868.5,73.1 868.6,74.6 868.7,74.4 868.8,71.8 868.8,71.8 868.9,73.7 869.0,70.1 869.1,74.7 869.2,71.2 869.2,70.7 869.3,72.1 869.4,71.4 869.5,71.7 869.6,73.0 869.6,72.9 869.7,71.5 869.8,72.0 869.9,70.4 870.0,70.9 870.0,66.8 870.1,70.6 870.2,69.2 870.3,69.8 870.4,68.1 870.4,71.4 870.5,69.5 870.6,67.6 870.7,69.1 870.8,70.4 870.8,69.3 870.9,71.0 871.0,71.5 871.1,67.8 871.2,68.9 871.3,69.1 871.3,65.9 871.4,68.9 871.5,67.2 871.6,69.0 871.7,69.1 871.7,67.6 871.8,66.6 871.9,68.5 872.0,68.4 872.1,69.1 872.1,68.1 872.2,66.2 872.3,67.3 872.4,66.4 872.5,68.3 872.5,67.2 872.6,65.8 872.7,65.7 872.8,64.2 872.9,64.5 872.9,68.3 873.0,65.6 873.1,66.9 873.2,63.9 873.3,64.7 873.3,65.5 873.4,64.5 873.5,65.7 873.6,66.2 873.7,65.3 873.7,65.3 873.8,66.5 873.9,67.1 874.0,65.7 874.1,62.8 874.1,64.0 874.2,63.7 874.3,63.8 874.4,64.7 874.5,62.2 874.5,64.0 874.6,64.0 874.7,62.1 874.8,61.1 874.9,61.9 874.9,61.4 875.0,62.5 875.1,61.1 875.2,61.1 875.3,59.9 875.3,58.5 875.4,62.7 875.5,61.7 875.6,61.2 875.7,61.6 875.7,60.1 875.8,60.6 875.9,63.1 876.0,59.7 876.1,59.9 876.1,61.8 876.2,59.4 876.3,57.9 876.4,59.2 876.5,59.1 876.5,58.5 876.6,60.6 876.7,58.8 876.8,56.4 876.9,57.8 876.9,59.7 877.0,59.1 877.1,57.8 877.2,56.6 877.3,58.0 877.3,59.0 877.4,59.9 877.5,62.3 877.6,60.4 877.7,57.3 877.7,58.1 877.8,56.4 877.9,57.8 878.0,56.5 878.1,55.0 878.1,55.2 878.2,55.4 878.3,54.8 878.4,56.7 878.5,55.6 878.5,55.3 878.6,54.2 878.7,54.5 878.8,54.5 878.9,53.7 878.9,55.4 879.0,52.7 879.1,53.0 879.2,53.2 879.3,51.4 879.3,53.6 879.4,52.2 879.5,51.6 879.6,55.0 879.7,51.6 879.7,53.8 879.8,55.0 879.9,49.8 880.0,50.3 880.1,51.1 880.1,53.6 880.2,49.7 880.3,53.4 880.4,50.7 880.5,52.5 880.5,53.5 880.6,50.4 880.7,52.2 880.8,52.1 880.9,54.2 880.9,55.5 881.0,55.0 881.1,57.5 881.2,54.1 881.3,53.8 881.3,54.5 881.4,55.5 881.5,55.7 881.6,55.4 881.7,55.4 881.7,56.1 881.8,53.5 881.9,50.4 882.0,54.6 882.1,53.4 882.1,53.5 882.2,55.1 882.3,54.7 882.4,54.4 882.5,55.9 882.5,55.4 882.6,55.2 882.7,55.8 882.8,55.2 882.9,53.5 882.9,60.1 883.0,56.0 883.1,54.2 883.2,54.5 883.3,56.1 883.3,53.9 883.4,54.6 883.5,55.5 883.6,52.7 883.7,57.4 883.7,58.7 883.8,55.1 883.9,55.4 884.0,56.8 884.1,56.3 884.1,51.2 884.2,53.2 884.3,55.8 884.4,55.9 884.5,56.1 884.5,55.6 884.6,56.6 884.7,54.3 884.8,54.6 884.9,53.8 884.9,54.5 885.0,55.5 885.1,53.7 885.2,53.3 885.3,54.7 885.3,53.5 885.4,52.3 885.5,52.8 885.6,53.0 885.7,51.4 885.7,53.9 885.8,55.9 885.9,52.4 886.0,51.4 886.1,52.5 886.1,52.2 886.2,49.7 886.3,53.5 886.4,52.0 886.5,51.6 886.5,48.1 886.6,50.7 886.7,49.8 886.8,49.1 886.9,50.1 886.9,49.6 887.0,45.4 887.1,48.1 887.2,48.8 887.3,48.4 887.3,52.8 887.4,49.6 887.5,47.7 887.6,46.7 887.7,45.8 887.7,46.8 887.8,46.6 887.9,46.7 888.0,64.7 888.1,60.3 888.1,51.9 888.2,45.0 888.3,44.6 888.4,43.7 888.4,44.0 888.5,43.9 888.6,45.5 888.7,41.5 888.8,41.3 888.9,40.0 888.9,40.6 889.0,40.6 889.1,39.9 889.2,40.5 889.3,41.9 889.3,36.5 889.4,36.3 889.5,37.2 889.6,39.6 889.7,38.1 889.8,37.5 889.8,36.1 889.9,36.6 890.0,34.5 890.1,34.8 890.2,33.5 890.2,36.3 890.3,33.9 890.4,36.7 890.5,32.7 890.6,35.6 890.6,35.7 890.7,36.4 890.8,36.1 890.9,32.6 891.0,35.5 891.0,33.5 891.1,34.5 891.2,34.5 891.3,35.1 891.4,36.7 891.4,39.3 891.5,33.0 891.6,34.3 891.7,34.2 891.8,31.0 891.8,32.8 891.9,32.6 892.0,35.5 892.1,31.9 892.2,35.0 892.2,32.3 892.3,31.7 892.4,33.2 892.5,35.3 892.6,31.4 892.6,32.0 892.7,30.5 892.8,33.4 892.9,33.6 893.0,30.8 893.0,30.8 893.1,29.4 893.2,32.9 893.3,30.7 893.4,31.8 893.4,34.0 893.5,31.2 893.6,30.7 893.7,32.0 893.8,28.5 893.8,28.9 893.9,32.2 894.0,29.0 894.1,28.8 894.2,30.1 894.2,27.1 894.3,30.5 894.4,27.8 894.5,29.0 894.6,28.1 894.6,29.0 894.7,28.2 894.8,29.1 894.9,31.0 895.0,27.1 895.0,26.0 895.1,26.9 895.2,24.7 895.3,25.2 895.4,26.3 895.4,24.4 895.5,26.3 895.6,28.2 895.7,24.3 895.8,24.9 895.8,23.5 895.9,31.5 896.0,22.9 896.1,23.5 896.2,23.2 896.2,23.0 896.3,23.9 896.4,24.1 896.5,24.6 896.6,23.4 896.6,22.6 896.7,22.5 896.8,21.7 896.9,22.1 897.0,23.0 897.0,22.7 897.1,20.0 897.2,22.1 897.3,19.8 897.4,22.7 897.4,21.4 897.5,20.3 897.6,18.4 898.2,200.0 898.3,217.7 898.4,235.4 898.4,253.0 898.5,270.7 898.6,288.4 898.7,288.7 898.8,289.1 898.8,290.6 898.9,290.7 899.0,287.0 899.1,291.2 899.2,290.2 899.2,290.8 899.3,292.6 899.4,291.1 899.5,290.1 899.6,292.4 899.6,293.6 899.7,293.0 899.8,293.3 899.9,293.8 900.0,293.8 900.0,294.6 900.1,294.3 900.2,295.8 900.3,295.1 900.3,295.4 900.4,294.2 900.5,295.2 900.6,297.3 900.7,298.0 900.7,296.6 900.8,296.1 900.9,301.0 901.0,294.9 901.1,297.9 901.1,299.4 901.2,298.2 901.3,300.0 901.4,299.3 901.5,299.9 901.5,300.0 901.6,300.0 901.7,298.5 901.8,299.8 901.9,299.9 901.9,302.0 902.0,300.7 902.1,302.4 902.2,302.4 902.3,301.0 902.3,301.4 902.4,303.2 902.5,302.4 902.6,304.2 902.7,301.6 902.7,302.6 902.8,303.1 902.9,305.3 903.0,304.3 903.1,302.8 903.1,301.6 903.2,303.5 903.3,304.7 903.4,301.8 903.5,305.6 903.5,304.2 903.6,305.1 903.7,304.4 903.8,303.0 903.9,304.0 904.0,302.5 904.0,304.4 904.1,304.0 904.2,302.4 904.3,304.5 904.4,301.2 904.4,302.9 904.5,303.2 904.6,303.8 904.7,305.6 904.8,308.4 904.8,309.7 904.9,303.5 905.0,305.0 905.1,305.2 905.2,305.3 905.2,305.9 905.3,306.6 905.4,304.5 905.5,305.4 905.6,307.0 905.6,305.2 905.7,308.3 905.8,305.4 905.9,306.2 906.0,304.2 906.0,308.8 906.1,306.3 906.2,308.6 906.3,307.9 906.4,305.9 906.4,307.5 906.5,307.4 906.6,307.4 906.7,307.2 906.8,308.5 906.8,307.7 906.9,309.3 907.0,306.0 907.1,307.9 907.2,308.7 907.2,308.8 907.3,307.9 907.4,311.5 907.5,309.0 907.6,313.4 907.6,308.7 907.7,308.2 907.8,308.2 907.9,310.8 908.0,309.2 908.1,311.2 908.1,310.1 908.2,308.6 908.3,309.0 908.4,309.7 908.5,308.1 908.5,309.1 908.6,310.3 908.7,308.9 908.8,310.8 908.9,311.4 908.9,313.2 909.0,311.7 909.1,312.0 909.2,312.6 909.3,311.9 909.3,309.5 909.4,313.1 909.5,312.7 909.6,312.5 909.7,310.7 909.7,312.3 909.8,311.4 909.9,311.3 910.0,309.8 910.1,310.2 910.1,311.5 910.2,311.1 910.3,311.0 910.4,311.4 910.5,313.6 910.5,313.6 910.6,312.9 910.7,315.4 910.8,315.6 910.9,313.7 910.9,314.9 911.0,313.1 911.1,313.7 911.2,314.2 911.3,315.9 911.3,315.3 911.4,315.9 911.5,313.9 911.6,316.1 911.7,314.8 911.7,314.7 911.8,319.8 911.9,315.9 912.0,313.8 912.1,319.9 912.1,316.4 912.2,316.2 912.3,317.3 912.4,316.6 912.5,315.8 912.5,316.3 912.6,315.9 912.7,318.5 912.8,316.6 912.9,317.0 912.9,316.8 913.0,315.7 913.1,317.2 913.2,316.0 913.3,319.7 913.3,318.3 913.4,319.8 913.5,319.7 913.6,318.3 913.7,320.4 913.7,317.5 913.8,321.2 913.9,317.4 914.0,318.8 914.1,317.7 914.1,320.2 914.2,317.6 914.3,317.5 914.4,318.0 914.5,318.4 914.5,319.8 914.6,318.1 914.7,319.8 914.8,316.9 914.9,321.8 914.9,319.1 915.0,320.4 915.1,317.9 915.2,318.6 915.3,318.6 915.3,319.0 915.4,319.1 915.5,319.8 915.6,324.8 915.6,317.6 915.7,318.9 915.8,316.6 915.9,318.5 916.0,318.5 916.0,318.6 916.1,317.3 916.2,317.5 916.3,318.5 916.4,320.2 916.4,318.2 916.5,316.3 916.6,317.6 916.7,316.1 916.8,316.7 916.8,320.8 916.9,316.8 917.0,319.8 918.0,298.9 918.1,297.4 918.2,296.6 918.2,295.0 918.3,293.8 918.4,292.6 918.5,291.4 918.6,289.8 918.6,289.2 918.7,287.9 918.8,286.5 918.9,285.4 919.0,284.4 919.0,283.1 919.1,282.2 919.2,281.0 919.3,279.5 919.4,278.5 919.5,277.2 919.5,276.1 919.6,275.0 919.7,273.9 919.8,272.5 919.9,271.2 919.9,270.0 920.0,268.8 920.1,267.9 920.2,267.1 920.3,265.7 920.3,264.5 920.4,263.5 920.5,262.2 920.6,261.4 920.7,260.5 920.7,259.2 920.8,258.2 920.9,256.9 921.0,255.9 921.0,254.9 921.1,253.8 921.2,252.8 921.3,252.3 921.4,250.8 921.4,249.6 921.5,248.5 921.6,247.5 921.7,246.7 921.8,245.2 921.8,244.3 921.9,242.7 922.0,241.9 922.1,241.5 922.2,239.9 922.2,238.4 922.3,237.7 922.4,236.3 922.5,235.4 922.5,235.0 922.6,233.6 922.7,232.3 922.8,231.5 922.9,230.0 922.9,229.3 923.0,228.1 923.1,227.4 923.2,225.7 923.3,225.1 923.3,225.0 923.4,223.1 923.5,222.0 923.6,221.8 923.7,221.5 923.7,220.4 923.8,219.8 923.9,218.8 924.0,218.8 924.1,218.5 924.1,217.0 924.2,216.1 924.3,215.3 924.4,215.0 924.5,214.0 924.5,213.0 924.6,211.6 924.7,211.4 924.8,210.7 924.8,209.9 924.9,208.5 925.0,208.2 925.1,207.6 925.2,206.2 925.2,206.1 925.3,205.0 925.4,203.9 925.5,203.1 925.6,203.0 925.6,202.2 925.7,200.5 925.8,200.3 925.9,197.6 926.0,198.8 926.0,197.8 926.1,197.0 926.2,196.5 926.3,196.0 926.4,195.3 926.4,195.6 926.5,194.2 926.6,196.1 926.7,194.0 926.8,193.6 926.8,193.2 926.9,193.3 927.0,191.6 927.1,192.4 927.2,192.0 927.2,191.5 927.3,190.7 927.4,191.4 927.5,190.2 927.6,189.6 927.6,189.3 927.7,189.6 927.8,187.9 927.9,187.2 928.0,188.5 928.0,186.5 928.1,185.9 928.2,187.0 928.3,186.1 928.4,185.6 928.5,185.1 928.5,185.3 928.6,185.2 928.7,184.3 928.8,181.8 928.9,183.0 928.9,183.3 929.0,183.1 929.1,182.4 929.2,182.0 929.3,182.7 929.3,182.0 929.4,180.5 929.5,179.8 929.6,180.3 929.7,179.3 929.7,179.2 929.8,179.4 929.9,178.7 930.0,178.6 930.1,177.1 930.1,177.0 930.2,176.8 930.3,175.3 930.4,175.5 930.5,173.4 930.5,175.5 930.6,174.8 930.7,174.0 930.8,173.7 930.9,173.2 930.9,172.7 931.0,170.9 931.1,172.5 931.2,171.7 931.3,170.8 931.3,171.1 931.4,169.8 931.5,169.8 931.6,169.5 931.7,167.3 931.7,168.3 931.8,167.9 931.9,167.8 932.0,167.4 932.1,166.0 932.1,166.6 932.2,165.9 932.3,167.3 932.4,166.3 932.5,165.1 932.5,164.4 932.6,164.5 932.7,164.9 932.8,163.8 932.9,163.7 932.9,162.9 933.0,161.8 933.1,161.8 933.2,160.9 933.3,161.7 933.3,160.5 933.4,159.7 933.5,159.1 933.6,158.3 933.7,157.6 933.7,158.4 933.8,157.9 933.9,157.0 934.0,157.5 934.1,156.9 934.1,156.6 934.2,154.3 934.3,153.3 934.4,154.8 934.5,153.6 934.5,153.5 934.6,153.0 934.7,152.4 934.8,151.9 934.8,150.4 934.9,150.3 935.0,148.9 935.1,149.5 935.2,147.8 935.2,149.4 935.3,147.6 935.4,149.6 935.5,148.1 935.6,147.2 935.6,147.6 935.7,146.5 935.8,146.9 935.9,146.2 936.0,144.8 936.0,144.2 936.1,144.1 936.2,143.4 936.3,142.4 936.4,144.2 936.4,142.6 936.5,142.8 936.6,143.3 936.7,143.3 936.8,142.1 936.8,141.7 936.9,140.5 937.0,138.5 937.1,138.3 937.2,139.9 937.2,138.0 937.3,139.1 937.4,137.3 937.5,137.6 937.6,135.2 937.6,136.6 937.7,138.1 937.8,136.2 937.9,134.1 938.0,132.9 938.0,132.8 938.1,135.1 938.2,134.3 938.3,133.2 938.4,134.3 938.4,132.6 938.5,132.9 938.6,133.8 938.7,133.3 938.8,133.1 938.9,133.2 938.9,132.9 939.0,132.1 939.1,130.7 939.2,130.9 939.3,130.8 939.3,131.8 939.4,131.1 939.5,129.1 939.6,128.7 939.7,129.8 939.7,128.3 939.8,127.6 939.9,128.5 940.0,127.7 940.1,127.1 940.1,127.9 940.2,126.9 940.3,124.7 940.4,125.5 940.5,127.6 940.5,126.6 940.6,126.2 940.7,125.1 940.8,122.4 940.9,126.4 940.9,124.5 941.0,118.9 941.1,124.1 941.2,123.4 941.3,123.5 941.4,122.6 941.4,122.2 941.5,122.2 941.6,120.2 941.7,121.8 941.8,120.6 941.8,121.9 941.9,121.0 942.0,120.5 942.1,118.5 942.2,118.7 942.2,120.0 942.3,118.3 942.4,118.9 942.5,119.4 942.6,118.4 942.6,119.3 942.7,113.6 942.8,115.8 942.9,118.0 943.0,118.0 943.0,117.4 943.1,111.9 943.2,116.6 943.3,114.6 943.4,114.4 943.4,113.8 943.5,114.9 943.6,114.5 943.7,114.1 943.8,114.8 943.8,113.9 943.9,115.9 944.0,116.1 944.1,113.5 944.2,113.9 944.2,113.9 944.3,111.7 944.4,113.9 944.5,115.4 944.6,113.4 944.6,113.0 944.7,115.2 944.8,114.2 944.9,111.8 945.0,110.8 945.0,112.0 945.1,111.0 945.2,111.0 945.3,110.8 945.4,111.4 945.5,111.4 945.5,110.2 945.6,111.3 945.7,109.5 945.8,108.7 945.9,109.6 945.9,109.6 946.0,110.1 946.1,109.4 946.2,110.5 946.3,107.2 946.3,107.7 946.4,107.7 946.5,107.7 946.6,106.5 946.7,107.2 946.7,104.7 946.8,106.8 946.9,106.3 947.0,105.2 947.1,105.2 947.1,108.5 947.2,107.1 947.3,104.5 947.4,106.2 947.5,104.4 947.5,101.5 947.6,103.8 947.7,105.3 947.8,104.6 947.9,102.3 947.9,104.9 948.0,103.9 948.1,104.9 948.2,103.4 948.3,103.9 948.3,101.4 948.4,102.9 948.5,102.6 948.6,100.9 948.7,101.2 948.7,99.5 948.8,101.4 948.9,99.8 949.0,101.5 949.1,100.0 949.1,100.0 949.2,100.6 949.3,99.9 949.4,100.9 949.5,97.9 949.5,99.2 949.6,97.9 949.7,98.4 949.8,97.3 949.9,97.2 949.9,97.0 950.0,96.2 950.1,97.0 950.2,94.5 950.3,96.0 950.3,94.6 950.4,95.1 950.5,93.8 950.6,95.8 950.7,94.3 950.7,94.5 950.8,93.4 950.9,92.8 951.0,93.4 951.1,94.1 951.1,91.4 951.2,91.7 951.3,92.6 951.4,91.3 951.5,89.7 951.5,90.3 951.6,89.8 951.7,91.1 951.8,87.9 951.9,89.9 951.9,87.7 952.0,90.2 952.1,89.0 952.2,86.4 952.3,87.3 952.3,89.5 952.4,88.1 952.5,86.7 952.6,87.1 952.7,85.0 952.7,84.9 952.8,87.7 952.9,86.4 953.0,86.4 953.1,85.3 953.1,84.8 953.2,86.0 953.3,84.4 953.4,84.9 953.5,83.1 953.5,87.3 953.6,84.1 953.7,82.8 953.8,82.6 953.9,82.4 953.9,81.5 954.0,82.0 954.1,83.7 954.2,82.5 954.3,85.3 954.3,79.7 954.4,81.2 954.5,80.6 954.6,81.6 954.7,82.4 954.7,81.7 954.8,80.9 954.9,83.7 955.0,81.5 955.1,81.5 955.1,79.8 955.2,79.9 955.3,80.1 955.4,80.1 955.5,83.1 955.5,78.9 955.6,79.8 955.7,80.8 955.8,80.6 955.9,80.8 955.9,80.7 956.0,78.9 956.1,81.3 956.2,77.7 956.3,79.8 956.3,77.3 956.4,77.0 956.5,77.3 956.6,77.3 956.7,77.8 956.7,77.7 956.8,71.8 956.9,76.9 957.0,78.0 957.1,76.2 957.1,76.0 957.2,72.5 957.3,75.3 957.4,75.4 957.5,72.6 957.5,73.9 957.6,75.6 957.7,72.9 957.8,75.7 957.9,75.8 957.9,73.8 958.0,74.9 958.1,73.7 958.2,72.5 958.3,73.3 958.3,74.0 958.4,75.1 958.5,73.9 958.6,65.0 958.7,70.9 958.7,70.6 958.8,72.2 958.9,68.9 959.0,70.0 959.1,73.0 959.1,72.3 959.2,70.7 959.3,69.1 959.4,69.0 959.5,68.3 959.5,70.0 959.6,70.0 959.7,71.3 959.8,68.0 959.9,68.0 959.9,68.8 960.0,65.9 960.1,66.3 960.2,67.0 960.3,65.9 960.3,66.2 960.4,65.0 960.5,65.8 960.6,68.1 960.7,65.1 960.7,65.3 960.8,65.0 960.9,64.9 961.0,62.7 961.0,64.6 961.1,67.0 961.2,60.3 961.3,64.1 961.4,63.4 961.4,61.6 961.5,61.2 961.6,62.6 961.7,62.7 961.8,59.5 961.8,61.7 961.9,61.8 962.0,62.9 962.1,60.5 962.2,58.8 962.2,58.4 962.3,57.8 962.4,59.1 962.5,57.2 962.6,58.6 962.6,58.9 962.7,55.2 962.8,59.3 962.9,56.9 963.0,54.6 963.0,56.7 963.1,57.3 963.2,57.0 963.3,56.4 963.4,56.3 963.4,55.0 963.5,54.9 963.6,56.9 963.7,54.5 963.8,52.8 963.8,54.9 963.9,52.3 964.0,52.8 964.1,52.5 964.2,50.6 964.2,52.8 964.3,52.8 964.4,51.7 964.5,50.8 964.5,50.1 964.6,53.5 964.7,53.7 964.8,49.3 964.9,50.1 964.9,53.0 965.0,50.3 965.1,48.4 965.2,47.7 965.3,46.9 965.3,49.9 965.4,47.2 965.5,48.7 965.6,48.8 965.7,48.5 965.7,47.2 965.8,47.8 965.9,47.9 966.0,47.1 966.0,45.2 966.1,48.8 966.2,47.6 966.3,44.8 966.4,46.6 966.4,45.6 966.5,45.6 966.6,45.1 966.7,45.9 966.8,47.1 966.8,49.2 966.9,50.5 967.0,50.8 967.1,52.5 967.2,53.1 967.3,55.1 967.3,54.9 967.4,56.7 967.5,57.5 967.6,59.5 967.7,60.2 967.8,60.9 967.8,62.5 967.9,64.2 968.0,65.1" fill="none" stroke="#111" stroke-width="0.5" stroke-linejoin="round"/>
<clipPath id="cpc"><rect x="315.3" y="409.2" width="400.9" height="322.6"/></clipPath>
<path clip-path="url(#cpc)" d="M315.5,442.6 315.6,447.0 315.7,442.8 315.8,443.8 315.9,445.4 315.9,443.0 316.0,446.2 316.1,441.1 316.2,443.6 316.3,442.6 316.4,436.4 316.5,438.7 316.6,441.4 316.7,438.6 316.8,440.2 316.8,445.4 316.9,445.1 317.0,440.0 317.1,439.1 317.2,438.4 317.3,434.0 317.4,439.4 317.5,443.9 317.6,439.4 317.6,436.5 317.7,444.5 317.8,436.3 317.9,438.3 318.0,439.5 318.1,444.5 318.2,440.1 318.3,442.4 318.4,444.3 318.5,436.5 318.5,427.0 318.6,446.9 318.7,444.9 318.8,447.3 318.9,436.8 319.0,443.3 319.1,450.4 319.2,452.4 319.3,437.1 319.4,443.1 319.5,435.1 319.6,440.1 319.6,435.0 319.7,437.8 319.8,438.6 319.9,448.3 320.0,434.3 320.1,440.4 320.2,436.9 320.3,436.6 320.4,440.3 320.5,435.6 320.6,443.5 320.6,433.0 320.7,440.9 320.8,430.9 320.9,426.8 321.0,435.8 321.1,423.5 321.2,436.2 321.3,434.5 321.4,425.4 321.5,436.2 321.6,435.5 321.6,434.7 321.7,436.9 321.8,435.2 321.9,431.4 322.0,436.9 322.1,438.2 322.2,438.8 322.3,432.8 322.4,437.9 322.5,439.4 322.6,437.3 322.6,439.6 322.7,432.7 322.8,437.8 322.9,432.3 323.0,440.9 323.1,433.7 323.2,430.1 323.3,426.9 323.4,440.4 323.5,437.3 323.6,438.2 323.6,433.3 323.7,433.6 323.8,435.4 323.9,436.8 324.0,439.9 324.1,433.1 324.2,437.2 324.3,436.3 324.4,441.2 324.5,434.5 324.6,437.8 324.6,434.8 324.7,434.3 324.8,424.3 324.9,441.1 325.0,435.3 325.1,430.1 325.2,431.2 325.3,435.5 325.4,435.1 325.5,430.5 325.6,424.6 325.6,431.7 325.7,424.4 325.8,428.3 325.9,431.9 326.0,434.9 326.1,423.3 326.2,431.6 326.3,425.5 326.4,428.4 326.5,427.4 326.6,435.3 326.6,433.4 326.7,427.2 326.8,428.9 326.9,429.3 327.0,427.8 327.1,431.0 327.2,426.2 327.3,429.4 327.4,427.1 327.5,429.5 327.6,430.1 327.6,423.6 327.7,427.7 327.8,426.4 327.9,431.6 328.0,426.9 328.1,426.8 328.2,427.2 328.3,434.2 328.4,428.2 328.5,422.6 328.6,431.7 328.6,423.5 328.7,420.5 328.8,422.1 328.9,424.5 329.0,429.5 329.1,426.7 329.2,426.2 329.3,429.6 329.4,422.6 329.5,421.2 329.6,424.2 329.6,423.9 329.7,418.3 329.8,436.4 329.9,418.9 330.0,423.3 330.1,423.1 330.2,425.8 330.3,425.3 330.4,426.9 330.5,421.6 330.5,426.2 330.6,427.2 330.7,422.0 330.8,422.0 330.9,429.6 331.0,422.3 331.1,426.3 331.2,414.7 331.2,420.9 331.3,419.7 331.4,424.0 331.5,419.5 331.6,429.5 331.7,421.4 331.8,421.4 331.9,417.0 332.0,416.2 332.0,417.5 332.1,421.4 332.2,422.2 332.3,420.7 332.4,422.7 332.5,416.2 332.6,421.2 332.6,419.3 332.7,417.8 332.8,412.3 332.9,413.5 333.3,688.3 333.4,685.7 333.5,689.5 333.6,686.1 333.6,690.3 333.7,693.1 333.8,687.4 333.9,689.2 334.0,689.3 334.1,692.6 334.2,692.2 334.3,690.6 334.3,690.4 334.4,692.4 334.5,691.1 334.6,689.8 334.7,693.7 334.8,692.0 334.9,690.1 335.0,692.2 335.1,692.0 335.1,694.2 335.2,691.7 335.3,694.4 335.4,695.6 335.5,695.1 335.6,699.7 335.7,696.4 335.8,701.0 335.9,698.0 335.9,696.4 336.0,695.5 336.1,700.5 336.2,695.9 336.3,695.8 336.4,695.5 336.5,697.5 336.6,698.2 336.7,706.9 336.7,698.6 336.8,695.9 336.9,698.0 337.0,697.2 337.1,697.7 337.2,695.5 337.3,696.5 337.4,697.8 337.4,696.3 337.5,697.0 337.6,697.7 337.7,697.3 337.8,696.7 337.9,697.2 338.0,699.2 338.1,698.4 338.2,698.5 338.2,699.4 338.3,699.0 338.4,701.4 338.5,699.1 338.6,699.5 338.7,703.2 338.8,700.8 338.9,702.1 339.0,706.2 339.0,702.5 339.1,701.7 339.2,701.8 339.3,701.5 339.4,701.9 339.5,703.5 339.6,703.5 339.7,702.8 339.8,702.5 339.8,703.0 339.9,703.5 340.0,700.9 340.1,701.1 340.2,701.1 340.3,701.4 340.4,702.9 340.5,703.6 340.6,700.7 340.6,702.1 340.7,700.6 340.8,702.5 340.9,703.1 341.0,703.0 341.1,703.1 341.2,703.3 341.3,702.6 341.4,703.5 341.5,704.0 341.5,705.7 341.6,704.9 341.7,703.3 341.8,702.7 341.9,704.9 342.0,703.0 342.1,703.5 342.2,705.8 342.3,705.1 342.4,708.3 342.4,704.1 342.5,702.9 342.6,704.5 342.7,711.8 342.8,703.4 342.9,709.9 343.0,703.9 343.1,705.6 343.2,703.1 343.3,702.4 343.3,708.8 343.4,708.0 343.5,704.6 343.6,704.4 343.7,703.4 343.8,702.3 343.9,703.4 344.0,703.6 344.1,705.4 344.5,691.3 344.6,686.3 344.7,681.1 344.8,676.3 344.8,669.2 344.9,666.1 345.0,661.1 345.1,657.5 345.2,654.1 345.3,650.0 345.4,646.1 345.5,642.4 345.5,639.1 345.6,634.9 345.7,631.6 345.8,627.4 345.9,625.1 346.0,620.0 346.1,618.0 346.2,618.6 346.3,616.8 346.4,615.3 346.4,612.9 346.5,612.8 346.6,608.7 346.7,608.7 346.8,610.1 346.9,605.7 347.0,602.8 347.1,599.5 347.2,600.3 347.3,601.2 347.3,599.4 347.4,597.2 347.5,596.5 347.6,590.9 347.7,592.6 347.8,591.1 347.9,593.1 348.0,592.2 348.1,587.3 348.2,587.3 348.2,583.6 348.3,583.7 348.4,580.3 348.5,580.8 348.6,578.5 348.7,574.6 348.8,575.7 348.9,574.4 349.0,573.3 349.1,574.6 349.2,569.1 349.2,572.0 349.3,567.4 349.4,567.2 349.5,561.7 349.6,563.0 349.7,560.8 349.8,554.6 349.9,558.4 350.0,559.7 350.1,555.0 350.2,555.5 350.3,557.4 350.4,560.4 350.5,556.0 350.5,562.0 350.6,555.6 350.7,556.6 350.8,552.8 350.9,555.7 351.0,555.8 351.1,554.1 351.2,552.2 351.3,550.2 351.4,542.9 351.4,549.0 351.5,549.7 351.6,545.2 351.7,548.4 351.8,553.3 351.9,545.2 352.0,541.8 352.1,541.4 352.2,542.7 352.2,537.6 352.3,539.0 352.4,543.7 352.5,541.9 352.6,535.3 352.7,537.7 352.8,536.0 352.9,536.4 353.0,540.4 353.1,528.7 353.1,529.2 353.2,531.7 353.3,534.1 353.4,533.5 353.5,535.8 353.6,533.0 353.7,533.6 353.8,535.4 353.9,535.8 354.0,529.7 354.1,521.4 354.1,529.3 354.2,524.4 354.3,532.0 354.4,529.5 354.5,522.1 354.6,527.8 354.7,523.1 354.8,518.7 354.9,526.0 355.0,527.4 355.1,526.5 355.2,525.1 355.2,528.9 355.3,518.3 355.4,514.4 355.5,522.0 355.6,521.8 355.7,523.7 355.8,516.6 355.9,519.3 356.0,518.5 356.1,516.0 356.1,516.6 356.2,514.2 356.3,518.5 356.4,515.7 356.5,518.9 356.6,509.3 356.7,515.7 356.8,510.9 356.9,509.9 356.9,512.3 357.0,518.9 357.1,506.1 357.2,513.4 357.3,505.4 357.4,501.7 357.5,506.5 357.6,506.2 357.6,505.9 357.7,505.0 357.8,515.7 357.9,508.7 358.0,506.2 358.1,511.3 358.2,511.0 358.3,495.9 358.4,498.8 358.5,497.0 358.5,500.9 358.6,505.1 358.7,499.9 358.8,500.9 358.9,508.3 359.0,502.2 359.1,504.4 359.2,500.0 359.3,500.1 359.4,495.7 359.5,497.7 359.5,498.7 359.6,498.0 359.7,494.8 359.8,496.8 359.9,498.0 360.0,491.4 360.1,494.2 360.2,496.7 360.3,497.2 360.4,490.6 360.5,508.6 360.5,493.0 360.6,486.4 360.7,503.9 360.8,490.3 360.9,499.2 361.0,493.2 361.1,492.0 361.2,487.2 361.3,494.5 361.4,497.6 361.5,490.3 361.5,499.1 361.6,493.2 361.7,485.7 361.8,492.3 361.9,491.5 362.0,489.9 362.1,493.8 362.2,497.9 362.3,499.7 362.4,486.6 362.4,494.1 362.5,489.4 362.6,496.6 362.7,481.6 362.8,483.2 362.9,489.9 363.0,484.8 363.1,485.2 363.2,487.3 363.3,486.6 363.4,485.9 363.4,483.3 363.5,486.2 363.6,485.0 363.7,486.0 363.8,484.1 363.9,485.5 364.0,486.2 364.1,484.1 364.2,493.9 364.3,489.4 364.3,488.7 364.4,476.5 364.5,489.2 364.6,490.1 364.7,484.1 364.8,483.9 364.9,480.4 365.0,480.9 365.1,483.6 365.2,489.1 365.2,482.8 365.3,490.7 365.4,486.7 365.5,481.6 365.6,480.0 365.7,487.4 365.8,483.6 365.9,483.6 366.0,488.1 366.1,487.9 366.1,483.9 366.2,483.2 366.3,479.9 366.4,483.9 366.5,493.0 366.6,484.4 366.7,491.6 366.8,488.6 366.9,480.7 367.0,478.7 367.0,483.8 367.1,484.9 367.2,484.6 367.3,483.4 367.4,477.8 367.5,475.0 367.6,485.5 367.7,482.7 367.8,482.2 367.9,478.3 367.9,470.6 368.0,478.4 368.1,475.7 368.2,479.9 368.3,478.2 368.4,477.6 368.5,486.2 368.6,477.7 368.7,480.8 368.8,472.5 368.8,483.7 368.9,481.3 369.0,476.1 369.1,474.1 369.2,467.9 369.3,478.0 369.4,478.5 369.5,470.8 369.6,483.5 369.7,483.6 369.7,473.9 369.8,467.6 369.9,472.7 370.0,471.9 370.1,482.5 370.2,480.0 370.3,479.8 370.4,473.9 370.5,475.3 370.6,473.2 370.6,473.0 370.7,475.5 370.8,476.8 370.9,475.5 371.0,476.3 371.1,477.4 371.2,476.0 371.3,471.9 371.4,470.2 371.5,474.9 371.5,470.0 371.6,473.3 371.7,471.7 371.8,471.5 371.9,477.6 372.0,478.4 372.1,477.2 372.2,467.8 372.3,473.5 372.4,474.4 372.5,473.5 372.5,471.8 372.6,477.8 372.7,472.5 372.8,474.7 372.9,472.5 373.0,474.9 373.1,470.0 373.2,471.0 373.3,467.2 373.4,473.2 373.4,472.5 373.5,473.7 373.6,472.4 373.7,469.8 373.8,472.1 373.9,472.7 374.0,473.0 374.1,470.0 374.2,468.2 374.3,477.2 374.4,471.4 374.4,469.6 374.5,468.5 374.6,472.6 374.7,467.8 374.8,469.4 374.9,468.5 375.0,470.4 375.1,469.2 375.2,470.2 375.3,469.8 375.3,468.6 375.4,472.6 375.5,470.9 375.6,466.9 375.7,471.6 375.8,469.0 375.9,465.3 376.0,467.7 376.1,467.6 376.2,466.8 376.3,467.6 376.3,463.2 376.4,461.5 376.5,463.4 376.6,464.4 376.7,455.8 376.8,467.0 376.9,466.7 377.0,466.3 377.1,465.2 377.2,465.5 377.2,457.3 377.3,464.9 377.4,464.6 377.5,467.1 377.6,459.7 377.7,462.8 377.8,462.8 377.9,459.7 378.0,469.4 378.1,470.7 378.2,460.9 378.2,462.9 378.3,457.4 378.4,461.7 378.5,462.5 378.6,457.1 378.7,472.3 378.8,462.4 378.9,461.7 379.0,471.6 379.1,466.7 379.1,464.2 379.2,464.1 379.3,464.0 379.4,464.1 379.5,458.4 379.6,466.0 379.7,464.9 379.8,461.5 379.9,460.8 380.0,462.1 380.0,466.9 380.1,464.6 380.2,462.7 380.3,463.3 380.4,464.8 380.5,466.2 380.6,454.6 380.7,464.2 380.8,464.2 380.9,464.6 380.9,468.5 381.0,464.0 381.1,468.7 381.2,470.3 381.3,461.8 381.4,472.2 381.5,468.8 381.6,463.2 381.7,463.8 381.8,467.8 381.9,467.1 381.9,462.1 382.0,458.9 382.1,467.2 382.2,462.2 382.3,463.0 382.4,460.0 382.5,465.1 382.6,465.5 382.7,465.0 382.8,462.0 382.8,461.4 382.9,466.0 383.0,461.2 383.1,453.4 383.2,462.0 383.3,468.1 383.4,459.6 383.5,464.3 383.6,454.9 383.7,462.9 383.8,461.0 383.8,461.4 383.9,469.2 384.0,457.3 384.1,462.1 384.2,450.8 384.3,454.0 384.4,464.4 384.5,442.6 384.6,456.8 384.7,458.7 384.7,449.9 384.8,451.7 384.9,458.5 385.0,446.0 385.1,462.4 385.2,453.1 385.3,461.9 385.4,457.7 385.5,458.5 385.6,446.1 385.6,457.7 385.7,457.3 385.8,455.6 385.9,457.9 386.0,454.5 386.1,457.4 386.2,456.6 386.3,458.1 386.4,457.3 386.5,458.1 386.5,459.8 386.6,453.7 386.7,455.6 386.8,455.6 386.9,457.2 387.0,451.0 387.1,452.3 387.2,454.6 387.3,457.0 387.3,456.5 387.4,456.5 387.5,456.1 387.6,456.1 387.7,457.6 387.8,461.7 387.9,455.8 388.0,457.5 388.1,462.5 388.2,455.2 388.2,452.2 388.3,456.3 388.4,463.0 388.5,456.9 388.6,456.6 389.2,695.4 389.3,695.9 389.4,694.1 389.5,694.2 389.6,696.5 389.6,696.5 389.7,693.4 389.8,695.5 389.9,700.8 390.0,695.1 390.1,694.5 390.2,700.2 390.3,696.5 390.4,697.9 390.5,696.2 390.5,698.4 390.6,699.9 390.7,707.8 390.8,697.6 390.9,700.5 391.0,700.3 391.1,699.4 391.2,705.9 391.3,702.4 391.3,700.8 391.4,702.1 391.5,703.8 391.6,702.4 391.7,700.7 391.8,700.9 391.9,701.3 392.0,702.0 392.1,701.3 392.1,700.6 392.2,699.9 392.3,702.5 392.4,702.6 392.5,700.8 392.6,702.7 392.7,701.8 392.8,702.3 392.9,701.6 392.9,701.4 393.0,704.5 393.1,701.5 393.2,703.5 393.3,704.9 393.4,702.2 393.5,703.2 393.6,702.3 393.7,702.1 393.7,704.3 393.8,704.0 393.9,703.5 394.0,705.9 394.1,702.6 394.2,704.7 394.3,704.4 394.4,702.8 394.5,703.1 394.6,703.4 394.6,704.4 394.7,705.4 394.8,704.5 394.9,702.4 395.0,702.1 395.1,702.8 395.2,707.4 395.3,708.6 395.4,703.9 395.5,704.4 395.6,703.3 395.6,702.8 395.7,707.8 395.8,704.2 395.9,705.0 396.0,704.9 396.1,704.4 396.2,705.5 396.3,704.8 396.4,706.0 396.5,705.8 396.5,704.8 396.6,706.4 396.7,707.1 396.8,706.5 396.9,706.9 397.0,706.4 397.1,706.6 397.2,705.5 397.3,711.4 397.4,703.8 397.5,706.1 397.5,706.0 397.6,717.5 397.7,705.3 397.8,707.5 397.9,708.1 398.0,705.8 398.1,707.3 398.2,704.8 398.3,705.8 398.4,705.9 398.5,705.6 398.5,705.1 398.6,704.9 398.7,705.2 398.8,707.0 398.9,705.5 399.0,704.4 399.1,706.5 399.2,706.5 399.3,711.3 399.4,704.8 399.5,707.9 399.5,705.9 399.6,706.0 399.7,707.0 399.8,707.3 399.9,708.2 400.0,711.0 400.1,708.2 400.2,707.0 400.3,708.3 400.4,705.8 400.4,706.4 400.5,706.8 400.6,707.0 400.7,705.5 400.8,715.7 400.9,707.5 401.0,706.4 401.1,707.4 401.2,707.8 401.3,709.2 401.4,706.3 401.4,711.3 401.5,707.8 401.6,707.8 401.7,705.3 401.8,709.9 401.9,708.8 402.0,709.1 402.1,710.6 402.2,709.8 402.3,714.5 402.4,709.5 402.4,710.4 402.5,711.6 402.6,710.2 402.7,710.1 402.8,710.0 402.9,716.2 403.0,709.1 403.1,713.4 403.2,715.7 403.3,713.7 403.4,712.7 403.4,708.5 403.5,709.3 403.6,708.8 403.7,709.0 403.8,709.0 403.9,709.5 404.0,710.2 404.1,709.0 404.2,709.9 404.3,709.3 404.3,712.0 404.4,708.9 404.5,710.3 404.6,710.1 404.7,710.7 404.8,710.2 404.9,712.0 405.0,709.7 405.1,713.9 405.2,709.7 405.3,713.3 405.3,710.4 405.4,710.8 405.5,711.1 405.6,709.3 405.7,713.4 405.8,712.0 405.9,709.9 406.0,710.6 406.1,709.6 406.1,710.7 406.2,708.9 406.3,709.6 406.6,699.9 406.7,696.1 406.8,692.2 406.9,688.5 407.0,684.5 407.1,680.6 407.1,676.6 407.2,672.8 407.3,668.8 407.4,664.9 407.5,661.4 407.6,657.5 407.7,654.1 407.8,650.2 407.9,646.6 408.0,643.0 408.0,639.7 408.1,636.0 408.2,632.2 408.3,628.1 408.4,625.3 408.5,621.2 408.6,621.6 408.7,620.9 408.8,619.6 408.9,618.1 409.0,613.9 409.0,620.5 409.1,619.5 409.2,612.2 409.3,618.1 409.4,614.7 409.5,615.7 409.6,610.3 409.7,605.2 409.8,607.1 409.9,601.4 410.0,605.5 410.1,605.9 410.1,609.3 410.2,603.8 410.3,597.4 410.4,602.0 410.5,601.2 410.6,601.4 410.7,596.9 410.8,602.2 410.9,596.0 411.0,592.6 411.1,598.9 411.1,592.9 411.2,591.8 411.3,587.2 411.4,586.7 411.5,586.3 411.6,591.5 411.7,590.7 411.8,587.3 411.9,587.4 412.0,590.0 412.1,588.1 412.1,586.8 412.2,582.3 412.3,583.1 412.4,585.0 412.5,585.3 412.6,579.2 412.7,577.9 412.8,585.7 412.9,577.0 413.0,579.4 413.1,577.3 413.1,575.4 413.2,573.1 413.3,568.6 413.4,569.1 413.5,577.3 413.6,579.3 413.7,577.9 413.8,576.1 413.9,573.0 414.0,571.3 414.1,567.7 414.2,571.9 414.2,567.3 414.3,572.0 414.4,566.5 414.5,569.4 414.6,566.8 414.7,568.8 414.8,565.0 414.9,563.7 415.0,564.3 415.1,557.6 415.2,569.3 415.2,563.7 415.3,559.6 415.4,563.2 415.5,562.4 415.6,559.1 415.7,561.4 415.8,554.1 415.9,561.6 416.0,567.3 416.1,564.8 416.2,553.9 416.3,556.0 416.3,548.5 416.4,556.4 416.5,556.9 416.6,552.8 416.7,551.1 416.8,556.6 416.9,556.9 417.0,553.1 417.1,550.1 417.2,547.3 417.3,546.4 417.4,554.2 417.4,544.1 417.5,552.3 417.6,547.8 417.7,552.1 417.8,546.1 417.9,547.6 418.0,542.4 418.1,541.2 418.2,546.6 418.3,545.6 418.4,540.8 418.4,541.8 418.5,540.5 418.6,536.4 418.7,538.6 418.8,533.5 418.9,541.1 419.0,541.4 419.1,535.6 419.2,542.2 419.3,539.9 419.4,535.4 419.4,546.5 419.5,539.6 419.6,540.4 419.7,535.2 419.8,546.7 419.9,538.1 420.0,536.5 420.1,536.1 420.2,533.6 420.3,534.0 420.4,529.6 420.4,536.1 420.5,542.1 420.6,544.5 420.7,531.1 420.8,524.5 420.9,530.6 421.0,531.7 421.1,539.6 421.2,534.7 421.3,537.9 421.4,538.0 421.4,523.1 421.5,535.5 421.6,525.3 421.7,529.1 421.8,532.5 421.9,533.1 422.0,533.9 422.1,523.1 422.2,530.3 422.3,525.0 422.3,528.0 422.4,525.7 422.5,523.5 422.6,525.2 422.7,529.0 422.8,523.9 422.9,527.2 423.0,529.3 423.1,524.8 423.2,521.1 423.3,519.2 423.3,523.1 423.4,529.1 423.5,527.0 423.6,524.5 423.7,527.5 423.8,520.9 423.9,523.5 424.0,532.8 424.1,525.9 424.2,520.7 424.2,521.3 424.3,525.0 424.4,529.5 424.5,519.1 424.6,518.0 424.7,518.7 424.8,519.7 424.9,528.3 425.0,517.0 425.1,517.1 425.1,519.3 425.2,514.5 425.3,515.7 425.4,522.6 425.5,515.8 425.6,519.0 425.7,517.7 425.8,514.9 425.9,515.9 426.0,517.8 426.1,520.6 426.1,517.7 426.2,516.4 426.3,518.8 426.4,514.3 426.5,519.8 426.6,506.7 426.7,509.0 426.8,513.2 426.9,511.2 426.9,521.8 427.0,524.1 427.1,514.2 427.2,518.1 427.3,504.3 427.4,513.4 427.5,514.5 427.6,513.7 427.7,512.7 427.8,512.4 427.8,497.0 427.9,512.9 428.0,506.4 428.1,510.9 428.2,518.5 428.3,509.5 428.4,513.9 428.5,514.1 428.6,509.0 428.7,507.5 428.8,510.0 428.8,505.4 428.9,512.0 429.0,502.2 429.1,512.0 429.2,512.7 429.3,515.4 429.4,509.1 429.5,512.3 429.6,510.7 429.6,506.8 429.7,511.8 429.8,508.2 429.9,507.9 430.0,508.5 430.1,503.9 430.2,510.9 430.3,501.0 430.4,504.8 430.5,507.2 430.6,503.0 430.6,506.8 430.7,505.0 430.8,512.1 430.9,511.1 431.0,503.7 431.1,507.4 431.2,506.8 431.3,503.9 431.4,508.2 431.4,503.7 431.5,506.0 431.6,498.4 431.7,508.4 431.8,505.2 431.9,502.4 432.0,508.4 432.1,505.2 432.2,510.5 432.3,503.7 432.3,501.0 432.4,506.9 432.5,509.5 432.6,502.7 432.7,503.9 432.8,501.8 432.9,499.4 433.0,511.9 433.1,501.5 433.2,500.3 433.2,506.8 433.3,498.9 433.4,505.3 433.5,501.2 433.6,504.0 433.7,503.8 433.8,500.1 433.9,500.8 434.0,502.9 434.1,501.6 434.2,506.4 434.2,508.3 434.3,501.0 434.4,505.9 434.5,500.3 434.6,505.0 434.7,498.0 434.8,500.3 434.9,507.5 435.0,504.3 435.1,505.3 435.1,510.1 435.2,500.0 435.3,502.9 435.4,508.1 435.5,500.7 435.6,496.0 435.7,506.9 435.8,500.6 435.9,503.7 436.0,501.1 436.0,497.7 436.1,491.5 436.2,498.9 436.3,499.5 436.4,496.7 436.5,502.1 436.6,501.2 436.7,505.8 436.8,495.0 436.9,495.6 436.9,494.1 437.0,494.9 437.1,495.6 437.2,496.7 437.3,497.4 437.4,499.9 437.5,497.2 437.6,499.5 437.7,498.9 437.8,499.9 437.8,490.8 437.9,499.9 438.0,491.1 438.1,492.8 438.2,499.1 438.3,500.2 438.4,495.3 438.5,500.9 438.6,499.3 438.7,496.8 438.8,498.8 438.8,495.1 438.9,494.6 439.0,498.4 439.1,498.2 439.2,499.8 439.3,501.3 439.4,496.5 439.5,498.0 439.6,498.0 439.7,495.2 439.7,496.5 439.8,495.7 439.9,496.3 440.0,491.9 440.1,490.9 440.2,497.6 440.3,491.8 440.4,500.9 440.5,501.1 440.6,495.4 440.6,501.4 440.7,496.5 440.8,496.6 440.9,499.7 441.0,498.4 441.1,493.7 441.2,493.5 441.3,493.7 441.4,494.8 441.4,490.3 441.5,496.5 441.6,494.7 441.7,493.9 441.8,488.7 441.9,492.4 442.0,497.7 442.1,492.4 442.2,491.2 442.3,491.6 442.4,492.9 442.4,497.1 442.5,495.9 442.6,498.3 442.7,491.8 442.8,501.4 442.9,489.5 443.0,490.8 443.1,492.1 443.2,485.4 443.3,494.7 443.3,501.1 443.4,492.2 443.5,493.4 443.6,493.6 443.7,491.8 443.8,494.4 443.9,488.9 444.0,494.6 444.1,490.9 444.2,494.6 444.2,493.2 444.3,488.5 444.4,495.5 444.5,492.8 444.6,493.9 444.7,489.9 444.8,491.8 444.9,495.3 445.0,490.4 445.1,494.4 445.1,492.1 445.2,489.8 445.3,489.8 445.4,493.7 445.5,494.3 445.6,494.6 445.7,495.3 445.8,490.9 445.9,499.1 446.0,497.4 446.0,495.4 446.1,500.4 446.2,493.8 446.3,488.5 446.4,486.4 446.5,492.2 446.6,486.5 446.7,489.8 446.8,495.0 446.9,484.7 446.9,489.1 447.0,491.1 447.1,491.2 447.2,496.4 447.3,488.2 447.4,492.1 447.5,493.0 447.6,490.4 447.7,499.6 447.8,492.0 447.8,490.5 447.9,492.9 448.0,490.3 448.1,486.7 448.2,487.4 448.3,485.5 448.4,490.5 448.5,487.4 448.6,487.9 448.7,486.0 448.8,493.3 448.8,486.8 448.9,487.0 449.0,489.8 449.1,489.2 449.2,483.6 449.3,486.3 449.4,487.9 449.5,485.0 449.6,488.5 449.6,485.0 449.7,488.4 449.8,487.1 449.9,485.9 450.0,490.4 450.1,483.9 450.2,480.8 450.3,486.2 450.4,483.0 450.5,485.8 450.5,483.7 450.6,486.6 450.7,484.8 450.8,485.5 450.9,486.6 451.0,489.8 451.1,488.7 451.2,484.5 451.3,480.5 451.4,493.4 451.4,494.6 451.5,481.4 451.6,487.8 451.7,483.6 451.8,476.1 451.9,480.2 452.0,493.9 452.1,483.8 452.2,484.5 452.3,491.8 452.3,484.7 452.4,480.8 452.5,481.4 452.6,482.7 452.7,485.2 452.8,482.3 452.9,481.8 453.0,484.4 453.1,482.2 453.2,475.3 453.2,479.6 453.3,482.2 453.4,476.5 453.5,480.5 453.6,486.9 453.7,481.6 453.8,487.0 453.9,484.0 454.0,486.8 454.1,479.6 454.1,479.6 454.2,477.9 454.3,484.0 454.4,481.7 454.5,480.8 454.6,487.9 454.7,488.5 454.8,470.8 454.9,479.0 455.0,482.4 455.0,482.2 455.1,479.0 455.2,476.0 455.3,476.6 455.4,475.8 455.5,478.1 455.6,474.8 455.7,484.1 455.8,478.0 455.9,475.5 455.9,479.0 456.0,477.3 456.1,474.9 456.2,478.0 456.3,478.7 456.4,470.9 456.5,479.7 456.6,479.2 456.7,479.9 456.8,473.1 456.9,476.2 456.9,479.9 457.0,477.1 457.1,481.1 457.2,464.9 457.3,479.2 457.4,478.5 457.5,473.9 457.6,475.1 457.7,468.6 457.8,478.3 457.8,475.6 457.9,474.0 458.0,475.5 458.1,479.3 458.2,478.2 458.3,473.6 458.4,476.9 458.5,481.1 458.6,474.4 458.7,474.7 458.7,475.6 458.8,476.4 458.9,475.2 459.0,472.6 459.1,475.7 459.2,471.2 459.3,478.2 459.4,478.8 459.5,477.2 459.6,474.8 459.6,472.4 459.7,474.3 459.8,485.5 459.9,468.7 460.0,471.2 460.1,472.3 460.2,474.8 460.3,473.2 460.4,476.6 460.5,469.4 460.5,472.8 460.6,475.0 460.7,472.2 460.8,467.1 460.9,469.6 461.0,473.7 461.1,471.9 461.2,467.8 461.3,475.5 461.4,477.2 461.4,471.5 461.5,470.9 461.6,472.8 461.7,473.7 461.8,469.2 461.9,471.3 462.0,476.1 462.1,474.5 462.2,474.7 462.3,469.7 462.4,471.3 462.4,470.0 462.5,476.5 462.6,472.0 462.7,467.6 462.8,469.6 462.9,466.9 463.0,474.3 463.1,472.3 463.2,474.3 463.2,483.4 463.3,475.8 463.4,472.8 463.5,478.4 463.6,473.5 463.7,468.0 463.8,469.4 463.9,475.1 464.0,470.9 464.1,464.7 464.1,476.2 464.2,469.7 464.3,473.7 464.4,473.6 464.5,475.3 464.6,465.6 464.7,474.7 464.8,473.4 464.9,467.0 465.0,469.3 465.1,465.4 465.1,469.5 465.2,469.4 465.3,469.4 465.4,470.3 465.5,474.0 465.6,478.2 465.7,471.1 465.8,476.7 465.9,474.7 465.9,469.9 466.0,463.5 466.1,473.1 466.2,466.2 466.3,464.5 466.4,471.9 466.5,472.7 466.6,470.9 466.7,482.5 466.7,478.9 466.8,471.0 466.9,472.8 467.0,470.7 467.1,470.7 467.2,468.4 467.3,466.3 467.4,475.6 467.5,472.6 467.6,474.0 467.6,468.7 467.7,474.1 467.8,471.5 467.9,470.8 468.0,475.6 468.1,478.8 468.2,471.6 468.3,471.7 468.4,468.8 468.4,473.1 468.5,468.6 468.6,467.0 468.7,471.6 468.8,476.0 469.8,689.4 469.9,698.0 470.0,693.0 470.1,693.3 470.2,693.1 470.3,691.3 470.4,693.2 470.4,692.6 470.5,693.9 470.6,691.4 470.7,693.9 470.8,693.5 470.9,691.3 471.0,695.0 471.1,696.9 471.2,697.0 471.3,696.6 471.4,702.7 471.4,696.7 471.5,704.3 471.6,698.0 471.7,704.4 471.8,699.3 471.9,699.3 472.0,702.4 472.1,698.6 472.2,700.8 472.3,700.7 472.4,701.3 472.5,700.9 472.5,702.4 472.6,703.6 472.7,699.9 472.8,708.3 472.9,705.6 473.0,704.8 473.1,704.8 473.2,704.6 473.3,703.8 473.4,702.7 473.4,703.3 473.5,708.6 473.6,704.1 473.7,703.8 473.8,709.6 473.9,703.9 474.0,704.7 474.1,703.9 474.2,704.8 474.3,705.3 474.3,707.6 474.4,705.8 474.5,704.5 474.6,706.6 474.7,706.6 474.8,704.8 474.9,703.3 475.0,705.9 475.1,707.5 475.2,703.8 475.2,705.2 475.3,704.8 475.4,705.8 475.5,705.1 475.6,705.2 475.7,703.9 475.8,704.9 475.9,704.3 476.0,705.7 476.1,706.7 476.1,706.3 476.2,703.9 476.3,704.6 476.4,706.0 476.5,704.6 476.6,705.1 476.7,704.7 476.8,705.3 476.9,705.3 477.0,705.7 477.0,705.8 477.1,706.3 477.2,705.6 477.3,704.2 477.4,704.3 477.5,704.1 477.6,704.4 477.7,708.3 477.8,705.6 477.9,705.0 477.9,706.8 478.0,706.9 478.1,707.0 478.2,705.8 478.3,706.5 478.4,708.6 478.5,708.0 478.6,706.8 478.7,705.0 478.7,707.7 478.8,707.6 478.9,706.7 479.0,705.8 479.1,707.4 479.2,705.1 479.3,711.5 479.4,710.8 479.5,707.1 479.6,713.4 479.6,706.9 479.7,708.4 479.8,708.4 479.9,707.4 480.0,706.3 480.1,705.9 480.2,713.7 480.3,708.3 480.4,706.7 480.4,708.5 480.5,708.2 480.6,709.1 480.7,708.8 480.8,708.2 480.9,709.7 481.0,707.6 481.1,710.2 481.2,712.5 481.2,708.0 481.3,709.3 481.4,707.4 481.5,710.2 481.6,709.6 481.7,710.3 481.8,707.8 481.9,711.0 482.0,711.6 482.1,712.7 482.1,709.5 482.2,707.4 482.3,707.4 482.4,707.2 482.5,709.0 482.6,711.2 482.7,709.6 482.8,710.2 482.9,708.5 482.9,710.0 483.0,711.0 483.1,710.1 483.2,714.6 483.3,710.9 483.4,721.8 483.5,710.3 483.6,709.1 483.7,708.3 483.7,709.1 483.8,711.4 483.9,709.1 484.0,707.6 484.1,710.2 484.2,709.5 484.3,710.1 484.4,711.3 484.5,709.1 484.5,709.4 484.6,709.1 484.7,710.7 484.8,709.8 484.9,710.9 485.0,709.8 485.1,710.6 485.2,711.4 485.3,710.7 485.3,709.7 485.4,710.4 485.5,709.6 485.6,710.1 485.7,713.5 485.8,712.7 485.9,711.9 486.0,710.6 486.1,710.8 486.1,710.6 486.2,718.2 486.3,717.2 486.4,710.4 486.5,712.3 486.6,710.7 486.7,710.0 486.8,711.2 486.9,712.1 486.9,710.3 487.0,716.6 487.1,710.7 487.2,709.2 487.6,695.1 487.7,690.8 487.8,686.5 487.9,682.6 487.9,678.6 488.0,674.1 488.1,669.9 488.2,667.4 488.3,665.1 488.4,662.7 488.5,659.9 488.5,659.2 488.6,656.9 488.7,652.5 488.8,649.8 488.9,648.8 489.0,645.8 489.1,643.1 489.1,641.0 489.2,638.0 489.3,636.8 489.4,633.9 489.5,630.5 489.6,630.5 489.7,631.9 489.8,625.3 489.9,630.2 490.0,626.1 490.0,626.9 490.1,621.4 490.2,619.9 490.3,625.1 490.4,625.0 490.5,618.6 490.6,617.1 490.7,614.7 490.8,613.4 490.9,618.8 491.0,618.8 491.1,614.4 491.1,611.7 491.2,611.7 491.3,609.6 491.4,611.0 491.5,610.6 491.6,607.8 491.7,613.6 491.8,610.5 491.9,607.4 492.0,605.4 492.1,609.6 492.1,607.1 492.2,604.0 492.3,609.0 492.4,605.3 492.5,604.5 492.6,603.6 492.7,598.7 492.8,601.1 492.9,594.3 493.0,598.8 493.1,596.8 493.1,596.7 493.2,599.7 493.3,598.4 493.4,595.2 493.5,594.7 493.6,593.1 493.7,595.8 493.8,587.8 493.9,589.1 494.0,589.7 494.1,592.3 494.1,589.7 494.2,591.0 494.3,582.2 494.4,589.9 494.5,601.0 494.6,588.3 494.7,582.7 494.8,587.2 494.9,587.0 495.0,587.4 495.1,589.6 495.1,585.6 495.2,583.2 495.3,577.7 495.4,579.6 495.5,585.1 495.6,588.4 495.7,578.8 495.8,578.5 495.9,582.0 496.0,577.7 496.1,579.8 496.1,581.4 496.2,576.2 496.3,575.7 496.4,562.0 496.5,577.5 496.6,573.0 496.7,574.9 496.8,576.1 496.9,568.1 497.0,566.7 497.1,575.9 497.2,573.0 497.2,575.3 497.3,570.2 497.4,573.7 497.5,567.1 497.6,568.4 497.7,571.1 497.8,569.7 497.9,564.2 498.0,563.0 498.1,565.9 498.1,568.9 498.2,562.8 498.3,569.3 498.4,564.7 498.5,560.2 498.6,554.4 498.7,563.0 498.8,559.1 498.8,556.9 498.9,560.7 499.0,563.1 499.1,559.4 499.2,557.0 499.3,556.2 499.4,560.0 499.5,560.7 499.6,556.5 499.7,554.9 499.7,553.8 499.8,552.7 499.9,556.0 500.0,556.6 500.1,554.2 500.2,569.3 500.3,555.5 500.4,555.3 500.5,548.2 500.6,553.9 500.7,550.5 500.8,551.4 500.8,550.1 500.9,554.3 501.0,546.2 501.1,551.6 501.2,539.6 501.3,547.3 501.4,547.4 501.5,549.3 501.6,546.1 501.7,538.6 501.8,538.2 501.8,545.7 501.9,548.1 502.0,544.4 502.1,543.9 502.2,538.8 502.3,541.2 502.4,542.3 502.5,548.0 502.6,540.9 502.7,539.9 502.8,539.0 502.9,530.3 502.9,542.9 503.0,543.7 503.1,537.4 503.2,530.8 503.3,540.6 503.4,530.5 503.5,535.4 503.6,541.0 503.7,542.0 503.8,540.5 503.9,537.8 503.9,542.3 504.0,532.2 504.1,532.9 504.2,527.0 504.3,540.8 504.4,537.1 504.5,536.3 504.6,533.6 504.7,534.0 504.8,526.6 504.9,533.2 504.9,530.4 505.0,528.2 505.1,528.1 505.2,532.5 505.3,524.3 505.4,520.6 505.5,530.7 505.6,529.4 505.7,525.5 505.8,535.5 505.9,527.3 505.9,529.0 506.0,529.5 506.1,527.2 506.2,526.3 506.3,523.5 506.4,528.8 506.5,528.0 506.6,525.9 506.7,523.2 506.8,522.6 506.9,525.1 506.9,519.7 507.0,526.8 507.1,528.5 507.2,521.9 507.3,523.1 507.4,519.2 507.5,521.0 507.6,525.5 507.7,520.3 507.8,525.2 507.8,517.9 507.9,518.7 508.0,522.5 508.1,524.3 508.2,523.1 508.3,525.8 508.4,517.2 508.5,522.3 508.6,518.7 508.7,521.9 508.8,520.1 508.8,516.4 508.9,522.0 509.0,517.8 509.1,523.5 509.2,516.8 509.3,513.4 509.4,514.0 509.5,515.2 509.6,516.9 509.6,514.0 509.7,514.7 509.8,516.5 509.9,512.3 510.0,514.2 510.1,521.5 510.2,519.7 510.3,518.8 510.4,513.8 510.5,523.7 510.5,520.9 510.6,511.9 510.7,516.8 510.8,523.6 510.9,511.9 511.0,507.0 511.1,513.6 511.2,511.6 511.3,510.6 511.4,512.7 511.4,518.3 511.5,516.2 511.6,523.6 511.7,519.1 511.8,512.6 511.9,514.8 512.0,521.0 512.1,516.0 512.2,517.2 512.3,512.0 512.4,517.8 512.4,516.9 512.5,511.4 512.6,513.8 512.7,515.6 512.8,510.1 512.9,515.7 513.0,514.0 513.1,520.1 513.2,515.4 513.3,513.5 513.3,511.8 513.4,513.5 513.5,511.8 513.6,510.5 513.7,502.6 513.8,512.5 513.9,510.9 514.0,508.5 514.1,508.4 514.2,512.7 514.3,507.5 514.3,510.1 514.4,512.2 514.5,505.8 514.6,512.8 514.7,510.2 514.8,508.2 514.9,509.9 515.0,511.7 515.1,512.4 515.2,506.6 515.2,509.5 515.3,510.4 515.4,504.2 515.5,514.1 515.6,505.3 515.7,506.9 515.8,516.0 515.9,507.1 516.0,507.9 516.1,515.3 516.2,507.2 516.2,507.9 516.3,511.1 516.4,508.8 516.5,507.4 516.6,501.8 516.7,504.7 516.8,503.5 516.9,502.4 517.0,504.8 517.1,510.7 517.1,502.8 517.2,507.7 517.3,493.4 517.4,505.7 517.5,501.6 517.6,503.8 517.7,502.8 517.8,500.7 517.9,505.5 518.0,505.5 518.1,501.7 518.1,498.3 518.2,503.5 518.3,501.6 518.4,499.2 518.5,500.8 518.6,508.7 518.7,508.3 518.8,500.1 518.9,500.7 519.0,502.7 519.0,501.3 519.1,498.4 519.2,492.6 519.3,500.1 519.4,493.8 519.5,500.3 519.6,498.7 519.7,501.6 519.8,501.3 519.9,495.6 520.0,500.9 520.0,500.3 520.1,503.4 520.2,504.0 520.3,499.5 520.4,501.6 520.5,499.1 520.6,501.1 520.7,501.3 520.8,499.5 520.9,497.9 521.0,500.5 521.0,497.7 521.1,497.1 521.2,501.5 521.3,502.1 521.4,496.5 521.5,505.9 521.6,494.3 521.7,496.7 521.8,499.0 521.9,493.7 522.0,498.5 522.0,492.1 522.1,498.6 522.2,499.2 522.3,497.3 522.4,500.5 522.5,502.1 522.6,498.7 522.7,497.0 522.8,491.9 522.9,483.8 523.0,491.1 523.0,495.6 523.1,487.5 523.2,486.2 523.3,497.5 523.4,487.9 523.5,497.5 523.6,492.0 523.7,494.5 523.8,495.2 523.9,491.1 523.9,492.0 524.0,491.9 524.1,495.9 524.2,486.5 524.3,491.7 524.4,494.4 524.5,495.8 524.6,506.9 524.7,505.4 524.8,493.8 524.9,496.3 524.9,486.7 525.0,486.2 525.1,496.4 525.2,493.7 525.3,490.1 525.4,492.2 525.5,491.5 525.6,489.7 525.7,488.3 525.8,486.1 525.8,494.4 525.9,492.5 526.0,486.9 526.1,495.3 526.2,486.5 526.3,488.5 526.4,489.8 526.5,486.0 526.6,491.4 526.7,484.8 526.8,485.0 526.8,485.9 526.9,484.4 527.0,490.7 527.1,488.6 527.2,489.6 527.3,489.1 527.4,489.6 527.5,492.7 527.6,488.8 527.7,486.1 527.7,490.3 527.8,486.9 527.9,493.1 528.0,488.6 528.1,488.1 528.2,481.8 528.3,485.4 528.4,482.7 528.5,478.0 528.6,483.6 528.7,483.1 528.7,480.0 528.8,485.9 528.9,489.7 529.0,486.9 529.1,479.9 529.2,485.8 529.3,489.1 529.4,489.3 529.5,487.1 529.6,485.7 529.6,481.2 529.7,488.0 529.8,481.9 529.9,482.8 530.0,483.7 530.1,479.3 530.2,484.3 530.3,488.0 530.4,483.8 530.5,476.3 530.6,483.5 530.6,487.7 530.7,484.1 530.8,484.4 530.9,486.5 531.0,487.5 531.1,485.7 531.2,481.0 531.3,482.7 531.4,479.9 531.5,480.8 531.5,484.0 531.6,481.2 531.7,486.8 531.8,483.9 531.9,478.8 532.0,481.1 532.1,477.0 532.2,484.7 532.3,477.1 532.4,469.5 532.4,484.5 532.5,481.8 532.6,478.7 532.7,477.3 532.8,482.8 532.9,478.2 533.0,478.6 533.1,481.1 533.2,488.5 533.2,486.7 533.3,486.5 533.4,479.4 533.5,477.7 533.6,481.7 533.7,468.8 533.8,477.5 533.9,482.1 534.0,480.5 534.1,480.6 534.1,478.4 534.2,478.5 534.3,480.3 534.4,478.8 534.5,482.5 534.6,478.9 534.7,479.3 534.8,480.5 534.9,483.4 535.0,485.3 535.1,480.1 535.1,480.2 535.2,480.4 535.3,480.7 535.4,486.7 535.5,488.0 535.6,476.3 535.7,480.6 535.8,477.1 535.9,481.1 536.0,474.8 536.0,484.1 536.1,482.8 536.2,474.8 536.3,479.6 536.4,477.6 536.5,472.6 536.6,477.9 536.7,471.1 536.8,479.8 536.9,483.2 537.0,476.9 537.0,477.0 537.1,473.9 537.2,473.1 537.3,474.3 537.4,472.6 537.5,477.1 537.6,473.8 537.7,465.2 537.8,475.3 537.9,472.2 537.9,469.6 538.0,477.0 538.1,467.4 538.2,469.9 538.3,476.2 538.4,471.6 538.5,477.4 538.6,470.4 538.7,475.4 538.8,471.8 538.9,473.6 538.9,474.3 539.0,478.0 539.1,469.0 539.2,469.8 539.3,471.3 539.4,474.0 539.5,477.3 539.6,468.5 539.7,465.7 539.8,477.1 539.8,469.5 539.9,477.7 540.0,476.3 540.1,467.6 540.2,470.8 540.3,471.9 540.4,474.6 540.5,477.0 540.6,473.3 540.7,472.8 540.7,472.6 540.8,473.3 540.9,471.3 541.0,473.1 541.1,461.8 541.2,463.3 541.3,474.1 541.4,474.0 541.5,471.6 541.6,480.2 541.6,476.4 541.7,477.7 541.8,474.5 541.9,480.4 542.0,478.9 542.1,473.3 542.2,475.3 542.3,476.7 542.4,478.0 542.5,473.5 542.5,474.4 542.6,474.8 542.7,472.3 542.8,471.5 542.9,476.3 543.0,475.6 543.1,471.0 543.2,468.8 543.3,472.9 543.4,475.8 543.5,471.7 543.5,485.9 543.6,477.1 543.7,470.2 543.8,468.2 543.9,477.8 544.0,475.6 544.1,477.9 544.2,471.8 544.3,468.7 544.4,477.2 544.4,468.5 544.5,477.4 544.6,478.2 544.7,473.6 544.8,478.6 544.9,477.7 545.0,468.3 545.1,476.0 545.2,475.3 545.3,475.6 545.3,474.6 545.4,474.1 545.5,470.6 545.6,473.6 545.7,478.7 545.8,476.9 545.9,476.6 546.0,473.5 546.1,477.8 546.2,476.6 546.2,473.9 546.3,471.2 546.4,473.2 546.5,475.4 546.6,470.8 546.7,475.8 546.8,470.1 546.9,479.1 547.0,476.6 547.1,477.1 547.2,465.9 547.2,473.3 547.3,474.1 547.4,468.1 547.5,472.3 547.6,470.9 547.7,470.9 547.8,469.4 547.9,471.3 548.0,472.8 548.1,475.7 548.1,471.7 548.2,475.4 548.3,468.2 548.4,472.1 548.5,469.0 548.6,478.3 548.7,472.0 548.8,475.8 548.9,476.8 549.0,474.9 549.1,474.4 549.1,469.1 549.2,471.1 549.3,472.8 549.4,470.5 549.5,469.5 549.6,468.8 549.7,469.8 549.8,467.5 549.9,475.2 550.0,459.9 550.0,468.2 550.1,470.1 550.2,469.0 550.3,478.6 550.4,477.6 550.5,466.1 551.5,699.1 551.6,699.2 551.7,701.3 551.8,705.2 551.9,702.3 552.0,706.1 552.0,704.7 552.1,700.4 552.2,701.6 552.3,702.3 552.4,701.7 552.5,706.1 552.6,703.0 552.7,702.3 552.8,702.1 552.9,702.8 553.0,705.9 553.1,702.3 553.1,701.9 553.2,705.4 553.3,708.6 553.4,704.2 553.5,703.5 553.6,703.1 553.7,706.2 553.8,703.9 553.9,704.2 554.0,706.4 554.1,705.6 554.1,707.3 554.2,706.5 554.3,704.7 554.4,707.6 554.5,709.1 554.6,707.6 554.7,705.4 554.8,709.6 554.9,706.0 555.0,704.7 555.0,703.7 555.1,709.2 555.2,703.3 555.3,708.7 555.4,705.7 555.5,706.4 555.6,704.4 555.7,705.2 555.8,705.5 555.9,705.8 556.0,705.9 556.0,705.8 556.1,706.6 556.2,707.6 556.3,707.1 556.4,704.8 556.5,710.1 556.6,707.0 556.7,707.3 556.8,707.7 556.9,706.6 556.9,708.3 557.0,705.9 557.1,706.0 557.2,706.4 557.3,705.6 557.4,703.5 557.5,709.6 557.6,705.7 557.7,705.5 557.8,705.6 557.8,704.5 557.9,706.8 558.0,706.4 558.1,707.4 558.2,705.4 558.3,707.1 558.4,706.1 558.5,707.7 558.6,705.2 558.7,706.8 558.7,708.5 558.8,710.4 558.9,708.1 559.0,706.6 559.1,707.9 559.2,708.0 559.3,707.0 559.4,707.5 559.5,708.3 559.5,708.7 559.6,709.5 559.7,708.7 559.8,707.3 559.9,715.4 560.0,709.6 560.1,708.7 560.2,713.8 560.3,708.9 560.4,709.6 560.4,711.3 560.5,707.9 560.6,708.0 560.7,706.5 560.8,709.0 560.9,712.4 561.0,707.0 561.1,709.5 561.2,708.3 561.3,710.2 561.3,717.1 561.4,708.9 561.5,709.0 561.6,708.0 561.7,708.8 561.8,708.0 561.9,709.5 562.0,709.6 562.1,710.6 562.1,710.5 562.2,710.6 562.3,708.7 562.4,709.3 562.5,711.7 562.6,710.0 562.7,719.6 562.8,711.2 562.9,709.4 563.0,711.8 563.0,707.8 563.1,707.1 563.2,711.9 563.3,709.2 563.4,714.3 563.5,711.8 563.6,709.9 563.7,711.1 563.8,709.5 563.9,711.2 563.9,710.8 564.0,710.9 564.1,709.0 564.2,711.0 564.3,711.8 564.4,715.4 564.5,718.1 564.6,708.4 564.7,708.2 564.7,709.8 564.8,707.8 564.9,709.2 565.0,709.8 565.1,707.5 565.2,709.1 565.3,708.3 565.4,709.0 565.5,709.5 565.6,709.9 565.6,710.2 565.7,709.6 565.8,711.4 565.9,709.8 566.0,707.7 566.1,710.7 566.2,719.1 566.3,712.6 566.4,710.1 566.5,708.6 566.5,709.9 566.6,709.3 566.7,709.6 566.8,720.0 566.9,711.6 567.0,715.1 567.1,709.1 567.2,720.9 567.3,711.0 567.4,711.4 567.4,711.2 567.5,710.5 567.6,712.0 567.7,717.0 567.8,715.1 567.9,709.8 568.0,709.9 568.1,708.3 568.2,710.4 568.2,710.5 568.3,711.8 568.4,710.8 568.5,709.4 568.6,716.0 568.7,709.1 568.8,717.9 568.9,708.8 569.0,709.6 569.1,708.0 569.5,694.8 569.6,691.3 569.7,687.9 569.8,684.0 569.8,680.3 569.9,675.1 570.0,673.3 570.1,669.2 570.2,665.8 570.3,662.6 570.4,658.2 570.5,656.0 570.6,652.0 570.6,648.6 570.7,645.4 570.8,641.5 570.9,638.3 571.0,634.5 571.1,631.2 571.2,629.6 571.3,626.7 571.4,625.3 571.5,627.8 571.6,625.9 571.6,623.3 571.7,625.9 571.8,622.2 571.9,622.7 572.0,625.2 572.1,621.7 572.2,619.4 572.3,619.5 572.4,618.0 572.5,613.7 572.6,614.1 572.7,616.1 572.7,615.1 572.8,612.8 572.9,612.1 573.0,615.5 573.1,612.3 573.2,610.3 573.3,612.0 573.4,614.3 573.5,607.5 573.6,614.9 573.7,605.9 573.7,606.0 573.8,602.1 573.9,600.8 574.0,604.2 574.1,600.8 574.2,598.5 574.3,598.4 574.4,599.9 574.5,601.8 574.6,597.8 574.7,598.9 574.7,597.5 574.8,595.8 574.9,595.0 575.0,594.7 575.1,594.4 575.2,597.8 575.3,586.4 575.4,589.4 575.5,591.8 575.6,593.9 575.6,590.3 575.7,582.8 575.8,585.5 575.9,585.1 576.0,589.8 576.1,587.6 576.2,581.8 576.3,586.6 576.4,580.9 576.5,573.9 576.5,582.6 576.6,579.7 576.7,577.9 576.8,578.9 576.9,576.9 577.0,582.9 577.1,575.3 577.2,571.0 577.3,575.5 577.4,577.2 577.5,572.2 577.5,575.9 577.6,575.3 577.7,579.0 577.8,571.9 577.9,572.2 578.0,573.1 578.1,573.9 578.2,569.0 578.3,567.8 578.4,571.1 578.4,569.9 578.5,570.5 578.6,569.3 578.7,572.0 578.8,566.8 578.9,563.6 579.0,566.6 579.1,564.1 579.2,572.6 579.3,566.8 579.3,565.6 579.4,564.0 579.5,563.3 579.6,566.4 579.7,558.5 579.8,559.0 579.9,560.5 580.0,564.1 580.1,558.6 580.2,562.5 580.2,558.2 580.3,557.3 580.4,555.3 580.5,555.9 580.6,556.6 580.7,558.5 580.8,559.7 580.9,547.9 581.0,557.4 581.0,550.6 581.1,559.8 581.2,551.8 581.3,551.3 581.4,553.6 581.5,554.6 581.6,558.5 581.7,551.7 581.7,555.3 581.8,559.6 581.9,553.2 582.0,553.2 582.1,553.5 582.2,553.0 582.3,548.5 582.4,552.5 582.5,556.0 582.6,545.6 582.6,546.1 582.7,546.6 582.8,550.7 582.9,544.0 583.0,553.0 583.1,548.8 583.2,546.1 583.3,542.0 583.4,547.5 583.5,544.8 583.5,548.3 583.6,546.3 583.7,546.0 583.8,544.9 583.9,547.0 584.0,547.2 584.1,542.5 584.2,540.6 584.3,541.5 584.4,543.8 584.5,544.4 584.5,541.8 584.6,541.4 584.7,544.1 584.8,537.3 584.9,542.6 585.0,542.6 585.1,536.6 585.2,540.8 585.3,534.8 585.4,534.8 585.4,531.6 585.5,533.0 585.6,540.3 585.7,542.7 585.8,541.2 585.9,542.4 586.0,537.6 586.1,525.6 586.2,533.3 586.3,530.2 586.4,532.4 586.4,534.5 586.5,531.0 586.6,538.9 586.7,534.3 586.8,536.5 586.9,530.0 587.0,536.0 587.1,530.9 587.2,528.2 587.3,526.5 587.4,534.5 587.4,529.4 587.5,525.5 587.6,531.2 587.7,525.8 587.8,525.8 587.9,527.9 588.0,534.9 588.1,530.7 588.2,524.3 588.3,532.6 588.4,529.6 588.4,531.6 588.5,524.7 588.6,531.5 588.7,529.6 588.8,532.7 588.9,528.5 589.0,529.1 589.1,527.9 589.2,525.9 589.3,527.1 589.4,525.2 589.4,532.2 589.5,524.9 589.6,528.4 589.7,527.0 589.8,526.5 589.9,530.8 590.0,527.1 590.1,523.6 590.2,522.5 590.2,521.4 590.3,522.1 590.4,525.5 590.5,524.6 590.6,521.9 590.7,518.2 590.8,514.9 590.9,525.3 591.0,519.4 591.1,519.5 591.1,523.0 591.2,521.0 591.3,519.9 591.4,520.8 591.5,522.9 591.6,523.0 591.7,521.3 591.8,518.9 591.9,516.5 592.0,517.6 592.0,515.7 592.1,518.5 592.2,519.8 592.3,518.5 592.4,520.2 592.5,519.1 592.6,517.7 592.7,519.6 592.8,520.8 592.9,516.8 592.9,511.7 593.0,530.4 593.1,512.8 593.2,520.8 593.3,516.9 593.4,518.4 593.5,524.0 593.6,519.6 593.7,524.1 593.8,514.2 593.9,516.5 593.9,515.8 594.0,512.7 594.1,519.3 594.2,510.2 594.3,516.6 594.4,516.0 594.5,518.1 594.6,517.6 594.7,515.1 594.8,514.5 594.8,517.0 594.9,511.8 595.0,519.1 595.1,519.1 595.2,513.5 595.3,511.9 595.4,513.5 595.5,517.2 595.6,511.0 595.7,515.5 595.8,515.2 595.8,510.9 595.9,514.0 596.0,514.6 596.1,511.8 596.2,512.8 596.3,519.9 596.4,513.9 596.5,513.3 596.6,506.6 596.7,519.3 596.7,510.6 596.8,506.7 596.9,509.0 597.0,511.4 597.1,509.2 597.2,511.8 597.3,508.0 597.4,506.3 597.5,505.3 597.6,507.0 597.7,504.9 597.7,505.3 597.8,510.1 597.9,509.5 598.0,508.8 598.1,508.8 598.2,507.5 598.3,509.0 598.4,503.5 598.5,507.4 598.6,503.5 598.7,504.6 598.8,509.6 598.8,510.9 598.9,509.8 599.0,508.5 599.1,500.5 599.2,503.4 599.3,505.9 599.4,508.4 599.5,501.3 599.6,505.7 599.7,497.9 599.8,501.9 599.8,499.3 599.9,499.1 600.0,505.4 600.1,495.3 600.2,504.1 600.3,505.5 600.4,494.7 600.5,503.7 600.6,505.4 600.7,494.5 600.8,502.4 600.8,497.9 600.9,501.4 601.0,501.2 601.1,505.2 601.2,506.8 601.3,507.7 601.4,502.2 601.5,501.6 601.6,496.1 601.7,504.3 601.7,502.1 601.8,503.6 601.9,503.1 602.0,493.6 602.1,496.8 602.2,499.5 602.3,494.1 602.4,496.4 602.5,497.7 602.6,500.9 602.6,515.4 602.7,494.0 602.8,493.1 602.9,495.1 603.0,492.6 603.1,502.4 603.2,494.2 603.3,493.7 603.4,494.8 603.5,493.3 603.5,504.6 603.6,498.3 603.7,490.8 603.8,497.5 603.9,504.0 604.0,497.1 604.1,494.0 604.2,487.7 604.3,493.1 604.4,494.4 604.5,488.5 604.5,497.1 604.6,493.1 604.7,493.3 604.8,494.9 604.9,500.6 605.0,499.3 605.1,497.5 605.2,499.3 605.3,496.2 605.4,491.2 605.4,496.0 605.5,490.6 605.6,496.9 605.7,494.9 605.8,494.6 605.9,487.9 606.0,494.0 606.1,497.3 606.2,500.4 606.3,497.2 606.4,496.5 606.4,498.9 606.5,491.2 606.6,495.0 606.7,493.8 606.8,491.8 606.9,492.9 607.0,499.1 607.1,493.8 607.2,491.3 607.3,489.8 607.3,491.2 607.4,493.3 607.5,494.4 607.6,498.4 607.7,487.0 607.8,498.6 607.9,494.5 608.0,490.0 608.1,499.4 608.2,494.4 608.3,489.9 608.3,491.3 608.4,493.9 608.5,493.2 608.6,498.6 608.7,497.7 608.8,495.8 608.9,497.8 609.0,490.3 609.1,492.4 609.2,494.2 609.2,498.7 609.3,484.1 609.4,492.1 609.5,495.3 609.6,492.9 609.7,487.4 609.8,487.3 609.9,487.9 610.0,493.2 610.1,491.8 610.2,486.5 610.2,497.0 610.3,490.1 610.4,491.5 610.5,484.1 610.6,481.5 610.7,491.0 610.8,483.6 610.9,492.2 611.0,493.0 611.1,491.5 611.1,491.7 611.2,481.5 611.3,488.9 611.4,493.1 611.5,490.8 611.6,492.2 611.7,495.9 611.8,488.9 611.9,486.2 612.0,490.4 612.1,483.6 612.1,486.9 612.2,495.8 612.3,484.3 612.4,489.7 612.5,482.6 612.6,485.5 612.7,482.1 612.8,491.6 612.9,485.0 613.0,485.1 613.0,488.1 613.1,493.8 613.2,481.2 613.3,491.1 613.4,490.3 613.5,489.0 613.6,486.8 613.7,490.6 613.8,487.1 613.9,485.1 614.0,485.1 614.0,490.0 614.1,477.8 614.2,482.8 614.3,484.3 614.4,477.9 614.5,488.0 614.6,490.6 614.7,492.7 614.8,488.2 614.9,483.3 614.9,472.3 615.0,490.4 615.1,480.3 615.2,489.2 615.3,484.3 615.4,482.3 615.5,478.3 615.6,480.3 615.7,485.0 615.8,479.1 615.9,480.5 615.9,482.2 616.0,481.5 616.1,481.2 616.2,480.1 616.3,479.9 616.4,479.3 616.5,475.2 616.6,480.9 616.7,474.6 616.8,472.5 616.8,480.4 616.9,489.1 617.0,482.0 617.1,478.1 617.2,485.1 617.3,479.9 617.4,473.8 617.5,482.0 617.6,471.1 617.6,475.5 617.7,480.5 617.8,480.5 617.9,469.0 618.0,474.4 618.1,479.3 618.2,475.3 618.3,478.4 618.4,480.1 618.5,481.9 618.5,478.2 618.6,482.4 618.7,469.4 618.8,477.0 618.9,467.0 619.0,468.9 619.1,474.8 619.2,474.1 619.3,477.0 619.4,469.0 619.4,475.7 619.5,474.5 619.6,474.2 619.7,471.4 619.8,476.0 619.9,471.7 620.0,474.2 620.1,468.0 620.2,473.1 620.3,480.1 620.4,473.4 620.4,473.6 620.5,473.0 620.6,472.4 620.7,477.0 620.8,475.0 620.9,476.6 621.0,482.4 621.1,476.3 621.2,471.0 621.3,471.9 621.3,463.8 621.4,473.6 621.5,480.5 621.6,468.2 621.7,474.0 621.8,470.8 621.9,472.7 622.0,475.2 622.1,476.6 622.2,473.1 622.2,473.5 622.3,473.0 622.4,479.0 622.5,475.9 622.6,469.7 622.7,472.0 622.8,471.4 622.9,481.4 623.0,472.1 623.1,478.2 623.1,464.8 623.2,476.3 623.3,470.3 623.4,474.0 623.5,475.9 623.6,472.2 623.7,476.8 623.8,475.6 623.9,472.0 624.0,474.4 624.0,475.4 624.1,474.6 624.2,470.3 624.3,473.2 624.4,471.5 624.5,469.3 624.6,473.6 624.7,468.9 624.8,473.8 624.9,472.3 625.0,470.7 625.0,472.8 625.1,478.5 625.2,476.4 625.3,470.8 625.4,472.6 625.5,470.5 625.6,470.1 625.7,478.4 625.8,470.5 625.9,472.1 625.9,470.3 626.0,474.8 626.1,471.8 626.2,472.3 626.3,467.4 626.4,471.8 626.5,469.7 626.6,473.7 626.7,468.1 626.8,472.4 626.8,471.4 626.9,470.8 627.0,471.0 627.1,473.5 627.2,467.2 627.3,475.6 627.4,467.5 627.5,469.9 627.6,476.5 627.7,466.2 627.7,470.9 627.8,474.6 627.9,470.0 628.0,468.9 628.1,468.1 628.2,466.7 628.3,470.2 628.4,468.4 628.5,471.4 628.6,468.9 628.7,466.1 628.7,468.3 628.8,467.9 628.9,470.5 629.0,461.0 629.1,464.4 629.2,463.9 629.3,469.0 629.4,467.2 629.5,460.0 629.6,470.5 629.6,460.0 629.7,463.6 629.8,464.6 629.9,464.4 630.0,466.2 630.1,460.9 630.2,460.2 630.3,459.7 630.4,467.5 630.5,463.6 630.6,466.2 630.6,468.8 630.7,463.0 630.8,467.5 630.9,462.6 631.0,460.9 631.1,464.3 631.2,460.3 631.3,469.4 631.4,467.8 631.5,459.4 631.5,460.6 631.6,468.7 631.7,468.7 631.8,464.4 631.9,463.7 632.0,461.6 632.1,467.7 632.2,460.5 632.3,464.3 632.4,462.7 632.4,464.7 632.5,462.0 632.6,467.7 632.7,460.0 632.8,468.3 632.9,458.5 633.0,467.5 633.1,465.9 633.2,468.3 633.3,460.2 633.3,466.5 633.4,468.1 633.5,462.8 633.6,470.2 633.7,461.9 633.8,469.1 633.9,463.6 634.0,464.9 634.1,468.4 634.2,466.7 634.2,468.6 634.3,463.5 634.4,467.2 634.5,468.7 634.6,462.3 635.4,703.0 635.5,704.1 635.6,703.8 635.7,706.0 635.8,704.6 635.8,706.5 635.9,703.8 636.0,703.7 636.1,704.4 636.2,705.4 636.3,706.9 636.4,703.7 636.5,707.4 636.5,703.4 636.6,704.3 636.7,705.1 636.8,704.9 636.9,706.4 637.0,708.0 637.1,706.0 637.2,707.0 637.3,707.7 637.3,707.7 637.4,704.8 637.5,704.5 637.6,707.2 637.7,705.4 637.8,713.7 637.9,705.2 638.0,704.8 638.1,705.3 638.1,704.5 638.2,711.1 638.3,705.5 638.4,705.4 638.5,707.6 638.6,708.0 638.7,708.7 638.8,707.9 638.9,708.8 639.0,706.1 639.0,706.7 639.1,707.3 639.2,706.7 639.3,706.1 639.4,706.1 639.5,707.3 639.6,706.9 639.7,706.6 639.8,706.8 639.8,710.5 639.9,707.2 640.0,712.3 640.1,706.3 640.2,714.8 640.3,708.7 640.4,709.2 640.5,710.2 640.6,707.8 640.6,706.8 640.7,707.6 640.8,707.6 640.9,707.6 641.0,709.1 641.1,709.3 641.2,706.4 641.3,707.3 641.4,708.1 641.4,706.8 641.5,707.4 641.6,706.1 641.7,707.1 641.8,713.9 641.9,707.3 642.0,705.0 642.1,707.8 642.2,709.4 642.2,706.7 642.3,707.3 642.4,707.2 642.5,707.6 642.6,708.0 642.7,709.0 642.8,708.5 642.9,711.2 643.0,710.6 643.1,708.1 643.1,708.7 643.2,709.1 643.3,710.3 643.4,707.7 643.5,707.9 643.6,713.5 643.7,709.1 643.8,708.1 643.9,709.4 644.0,708.6 644.1,711.2 644.2,710.1 644.2,708.1 644.3,709.9 644.4,709.6 644.5,709.5 644.6,709.5 644.7,710.0 644.8,710.2 644.9,709.1 645.0,711.5 645.1,712.6 645.2,712.7 645.2,712.5 645.3,710.7 645.4,713.3 645.5,710.5 645.6,712.1 645.7,710.5 645.8,712.0 645.9,711.3 646.0,711.4 646.1,711.3 646.1,710.6 646.2,711.2 646.3,711.3 646.4,711.3 646.5,714.8 646.6,712.0 646.7,713.1 646.8,709.7 646.9,711.8 646.9,710.0 647.0,711.8 647.1,709.0 647.2,711.8 647.3,711.5 647.4,711.2 647.5,711.6 647.6,716.5 647.7,713.4 647.7,717.7 647.8,716.3 647.9,712.4 648.0,714.4 648.1,713.1 648.2,716.5 648.3,709.2 648.4,714.8 648.5,712.0 648.5,711.9 648.6,711.5 648.7,711.6 648.8,711.5 648.9,712.2 649.0,712.8 649.1,713.4 649.2,710.8 649.3,713.1 649.3,721.7 649.4,714.1 649.5,715.3 649.6,711.7 649.7,711.2 649.8,711.8 649.9,710.8 650.0,714.4 650.1,712.6 650.2,711.1 650.2,711.6 650.3,712.6 650.4,714.5 650.5,712.1 650.6,712.9 650.7,712.6 650.8,714.0 650.9,714.0 651.0,712.5 651.1,712.6 651.1,712.4 651.2,712.3 651.3,714.6 651.4,712.2 651.5,713.1 651.6,714.4 651.7,715.9 651.8,719.1 651.9,711.5 652.0,711.2 652.0,710.8 652.1,710.9 652.2,714.6 652.3,712.4 652.4,714.3 652.5,711.6 652.6,712.9 652.7,716.1 652.8,712.2 652.8,712.2 652.9,711.0 653.0,711.5 653.1,720.0 653.5,694.8 653.6,691.7 653.7,690.0 653.8,687.2 653.9,684.1 653.9,681.2 654.0,678.2 654.1,675.8 654.2,673.8 654.3,670.2 654.4,666.8 654.5,665.0 654.6,664.3 654.7,659.6 654.7,658.2 654.8,656.1 654.9,653.5 655.0,652.0 655.1,649.5 655.2,647.0 655.3,644.3 655.4,641.9 655.4,639.9 655.5,637.9 655.6,634.9 655.7,633.8 655.8,631.1 655.9,629.4 656.0,631.4 656.1,630.1 656.2,632.5 656.3,634.0 656.3,629.6 656.4,630.9 656.5,629.2 656.6,623.9 656.7,629.4 656.8,623.4 656.9,627.1 657.0,616.3 657.1,625.2 657.2,624.0 657.3,618.9 657.3,623.7 657.4,619.5 657.5,623.7 657.6,620.6 657.7,622.8 657.8,616.3 657.9,619.0 658.0,617.3 658.1,618.8 658.2,617.7 658.3,620.3 658.4,617.1 658.4,617.9 658.5,616.0 658.6,615.2 658.7,615.9 658.8,610.7 658.9,607.3 659.0,609.3 659.1,606.6 659.2,610.4 659.3,607.3 659.4,607.5 659.4,604.3 659.5,603.6 659.6,607.1 659.7,608.8 659.8,606.3 659.9,602.0 660.0,603.5 660.1,598.6 660.2,601.1 660.3,603.1 660.4,603.2 660.4,603.3 660.5,599.2 660.6,600.2 660.7,597.1 660.8,597.1 660.9,597.6 661.0,600.2 661.1,592.6 661.2,594.6 661.3,591.8 661.4,595.8 661.4,591.0 661.5,592.5 661.6,590.3 661.7,589.4 661.8,588.6 661.9,584.9 662.0,589.3 662.1,587.1 662.2,587.3 662.3,587.1 662.4,586.6 662.4,583.5 662.5,585.8 662.6,582.3 662.7,583.5 662.8,587.1 662.9,580.4 663.0,581.1 663.1,582.0 663.2,576.0 663.2,584.6 663.3,571.2 663.4,578.6 663.5,577.3 663.6,573.2 663.7,576.8 663.8,580.7 663.9,574.8 664.0,573.5 664.1,575.3 664.1,571.6 664.2,569.7 664.3,574.9 664.4,571.7 664.5,564.0 664.6,574.9 664.7,571.9 664.8,569.4 664.9,563.3 665.0,566.5 665.0,563.4 665.1,566.9 665.2,566.8 665.3,564.8 665.4,564.9 665.5,556.7 665.6,561.1 665.7,565.3 665.8,565.4 665.9,561.0 665.9,560.3 666.0,563.3 666.1,562.4 666.2,557.5 666.3,563.2 666.4,561.0 666.5,557.5 666.6,561.8 666.7,555.0 666.8,558.4 666.8,554.4 666.9,560.6 667.0,556.2 667.1,554.9 667.2,554.6 667.3,551.9 667.4,557.1 667.5,555.4 667.6,555.2 667.7,555.3 667.8,558.5 667.8,559.2 667.9,548.5 668.0,554.4 668.1,560.5 668.2,550.8 668.3,554.2 668.4,551.0 668.5,551.6 668.6,551.0 668.7,553.6 668.8,548.9 668.9,549.3 668.9,546.3 669.0,552.1 669.1,538.5 669.2,549.7 669.3,545.5 669.4,557.9 669.5,548.3 669.6,551.3 669.7,545.3 669.8,540.7 669.9,544.9 669.9,545.5 670.0,544.1 670.1,545.4 670.2,540.8 670.3,545.5 670.4,539.3 670.5,550.6 670.6,545.8 670.7,539.0 670.8,542.1 670.8,540.7 670.9,545.1 671.0,545.5 671.1,542.4 671.2,539.4 671.3,557.4 671.4,544.4 671.5,545.5 671.6,536.5 671.7,537.5 671.8,541.7 671.8,542.7 671.9,534.7 672.0,538.9 672.1,536.8 672.2,534.8 672.3,534.1 672.4,537.1 672.5,543.8 672.6,534.1 672.7,540.5 672.7,536.7 672.8,536.3 672.9,531.1 673.0,540.7 673.1,530.7 673.2,534.5 673.3,534.0 673.4,530.4 673.5,535.6 673.6,530.5 673.7,535.4 673.7,534.5 673.8,528.7 673.9,532.7 674.0,521.7 674.1,529.8 674.2,530.2 674.3,524.9 674.4,534.4 674.5,531.1 674.6,527.1 674.6,528.4 674.7,533.0 674.8,529.5 674.9,531.4 675.0,529.4 675.1,529.7 675.2,530.0 675.3,529.0 675.4,526.9 675.5,527.6 675.5,528.7 675.6,528.1 675.7,527.7 675.8,533.6 675.9,526.0 676.0,529.1 676.1,521.0 676.2,527.5 676.3,526.2 676.4,526.9 676.4,530.6 676.5,530.5 676.6,530.5 676.7,529.1 676.8,529.0 676.9,523.2 677.0,528.0 677.1,527.1 677.2,522.1 677.3,521.7 677.4,518.6 677.4,529.0 677.5,528.9 677.6,528.2 677.7,515.2 677.8,523.9 677.9,525.0 678.0,518.5 678.1,523.6 678.2,517.2 678.3,524.7 678.3,518.0 678.4,523.1 678.5,523.2 678.6,520.6 678.7,518.8 678.8,522.0 678.9,520.8 679.0,525.1 679.1,526.0 679.2,526.8 679.3,518.6 679.3,519.5 679.4,516.8 679.5,511.9 679.6,521.6 679.7,516.1 679.8,517.8 679.9,521.7 680.0,519.3 680.1,522.8 680.2,525.8 680.2,508.3 680.3,518.7 680.4,515.7 680.5,518.8 680.6,515.0 680.7,516.0 680.8,511.1 680.9,508.7 681.0,516.5 681.1,523.3 681.2,519.5 681.2,511.8 681.3,514.4 681.4,512.4 681.5,516.4 681.6,517.2 681.7,524.0 681.8,523.9 681.9,517.6 682.0,510.7 682.1,511.1 682.1,518.1 682.2,512.6 682.3,517.0 682.4,508.9 682.5,513.5 682.6,509.2 682.7,514.1 682.8,519.6 682.9,514.3 683.0,515.7 683.0,507.2 683.1,513.7 683.2,512.2 683.3,514.0 683.4,511.7 683.5,509.5 683.6,504.0 683.7,506.7 683.8,508.5 683.9,508.1 683.9,508.8 684.0,506.1 684.1,506.4 684.2,508.7 684.3,509.5 684.4,508.3 684.5,512.2 684.6,508.2 684.7,504.4 684.8,509.7 684.8,507.6 684.9,502.0 685.0,499.8 685.1,505.2 685.2,505.4 685.3,505.8 685.4,509.0 685.5,504.1 685.6,505.7 685.7,504.7 685.8,507.4 685.8,498.6 685.9,504.0 686.0,498.0 686.1,504.9 686.2,501.8 686.3,505.6 686.4,498.6 686.5,504.9 686.6,503.0 686.6,502.4 686.7,501.7 686.8,500.5 686.9,503.2 687.0,503.5 687.1,499.1 687.2,502.4 687.3,498.4 687.4,499.2 687.5,493.5 687.5,508.5 687.6,502.3 687.7,498.5 687.8,502.0 687.9,501.0 688.0,494.4 688.1,501.5 688.2,496.5 688.3,498.2 688.4,491.3 688.4,502.5 688.5,501.9 688.6,502.1 688.7,492.7 688.8,505.0 688.9,497.5 689.0,498.1 689.1,495.2 689.2,500.9 689.3,497.3 689.3,504.9 689.4,499.7 689.5,497.8 689.6,499.2 689.7,499.2 689.8,502.0 689.9,497.0 690.0,492.8 690.1,495.9 690.2,496.9 690.2,497.0 690.3,496.5 690.4,490.5 690.5,495.6 690.6,495.7 690.7,493.2 690.8,493.4 690.9,491.5 691.0,497.4 691.1,498.1 691.1,497.3 691.2,485.5 691.3,497.8 691.4,492.9 691.5,496.0 691.6,491.3 691.7,503.5 691.8,486.1 691.9,490.4 692.0,498.2 692.0,492.2 692.1,491.6 692.2,494.0 692.3,491.6 692.4,487.1 692.5,495.0 692.6,490.2 692.7,489.2 692.8,495.8 692.9,494.7 692.9,492.9 693.0,495.0 693.1,495.0 693.2,488.2 693.3,488.4 693.4,497.1 693.5,491.0 693.6,489.4 693.7,493.0 693.8,494.6 693.8,492.7 693.9,493.3 694.0,493.5 694.1,492.3 694.2,493.4 694.3,492.1 694.4,489.5 694.5,497.3 694.6,493.7 694.7,491.4 694.8,490.5 694.8,494.0 694.9,491.3 695.0,492.1 695.1,490.5 695.2,494.9 695.3,493.9 695.4,487.9 695.5,493.4 695.6,489.2 695.7,497.4 695.7,487.4 695.8,492.9 695.9,494.7 696.0,488.9 696.1,497.2 696.2,490.4 696.3,492.0 696.4,486.1 696.5,485.7 696.6,496.1 696.6,491.6 696.7,491.9 696.8,486.4 696.9,488.4 697.0,488.2 697.1,486.2 697.2,481.4 697.3,489.2 697.4,491.3 697.5,488.3 697.5,486.4 697.6,490.5 697.7,484.5 697.8,502.9 697.9,483.8 698.0,486.1 698.1,488.3 698.2,488.9 698.3,486.5 698.4,483.3 698.4,486.4 698.5,488.8 698.6,489.7 698.7,491.8 698.8,482.8 698.9,489.0 699.0,488.8 699.1,482.5 699.2,489.7 699.3,486.8 699.4,485.0 699.4,487.6 699.5,485.5 699.6,484.8 699.7,487.2 699.8,485.2 699.9,486.6 700.0,479.9 700.1,481.3 700.2,493.9 700.2,488.7 700.3,484.9 700.4,471.6 700.5,481.2 700.6,486.5 700.7,481.1 700.8,490.9 700.9,481.9 701.0,482.7 701.1,482.3 701.1,481.2 701.2,494.1 701.3,480.9 701.4,482.3 701.5,485.2 701.6,477.1 701.7,483.8 701.8,483.5 701.9,480.2 702.0,479.3 702.0,481.4 702.1,481.8 702.2,480.6 702.3,475.7 702.4,480.2 702.5,474.6 702.6,483.9 702.7,481.6 702.8,487.7 702.9,480.2 702.9,478.3 703.0,478.3 703.1,470.8 703.2,470.3 703.3,479.1 703.4,465.2 703.5,476.1 703.6,476.8 703.7,477.7 703.8,473.8 703.9,478.1 703.9,474.1 704.0,479.3 704.1,476.8 704.2,469.0 704.3,474.6 704.4,474.1 704.5,478.2 704.6,472.4 704.7,476.4 704.8,479.2 704.8,478.5 704.9,471.2 705.0,473.7 705.1,476.4 705.2,473.3 705.3,476.9 705.4,473.6 705.5,471.8 705.6,475.0 705.7,474.0 705.7,477.9 705.8,472.7 705.9,477.4 706.0,480.2 706.1,476.9 706.2,476.6 706.3,472.1 706.4,478.7 706.5,473.7 706.6,478.7 706.6,473.2 706.7,474.0 706.8,473.3 706.9,470.0 707.0,476.1 707.1,474.3 707.2,472.1 707.3,471.0 707.4,475.0 707.5,468.4 707.5,471.0 707.6,471.3 707.7,470.3 707.8,471.9 707.9,468.5 708.0,472.5 708.1,471.2 708.2,465.0 708.3,472.6 708.4,478.1 708.5,469.2 708.5,478.5 708.6,475.8 708.7,469.6 708.8,470.8 708.9,470.0 709.0,474.9 709.1,470.4 709.2,467.7 709.3,469.7 709.4,474.3 709.4,468.8 709.5,471.0 709.6,472.7 709.7,473.9 709.8,473.5 709.9,470.4 710.0,474.2 710.1,471.7 710.2,472.8 710.3,471.7 710.3,475.0 710.4,470.5 710.5,472.0 710.6,472.7 710.7,466.7 710.8,479.9 710.9,475.5 711.0,476.2 711.1,474.7 711.2,481.3 711.2,471.7 711.3,477.1 711.4,472.0 711.5,476.2 711.6,479.1 711.7,474.0 711.8,472.0 711.9,474.1 712.0,476.8 712.1,469.8 712.1,463.9 712.2,476.5 712.3,479.1 712.4,479.5 712.5,473.2 712.6,477.0 712.7,472.7 712.8,476.6 712.9,474.3 713.0,473.8 713.0,474.7 713.1,467.2 713.2,475.8 713.3,474.7 713.4,479.0 713.5,476.3 713.6,475.9 713.7,472.3 713.8,477.0 713.9,472.2 713.9,470.6 714.0,467.5 714.1,473.3 714.2,472.7 714.3,476.5 714.4,470.9 714.5,469.8 714.6,471.3 714.7,473.9 714.7,479.1 714.8,469.2 714.9,472.3 715.0,475.2 715.1,472.8 715.2,468.9 715.3,472.9 715.4,472.4 715.5,473.7 715.6,472.4 715.6,465.9 715.7,474.4 715.8,477.2 715.9,470.1 716.0,475.2" fill="none" stroke="#111" stroke-width="0.5" stroke-linejoin="round"/>
<g class="t">
<text transform="translate(50.16,349.70) scale(1,1.065)">0</text>
<path d="M113.54,349.70L111.70,349.70L111.70,338.06Q111.03,338.69 109.95,339.32Q108.86,339.94 108.00,340.26L108.00,338.49Q109.55,337.77 110.70,336.75Q111.86,335.72 112.34,334.76L113.54,334.76Z"/>
<text transform="translate(117.40,349.70) scale(1,1.065)">0</text>
<text transform="translate(167.12,349.70) scale(1,1.065)">2</text>
<text transform="translate(178.80,349.70) scale(1,1.065)">0</text>
<text transform="translate(228.52,349.70) scale(1,1.065)">3</text>
<text transform="translate(240.20,349.70) scale(1,1.065)">0</text>
<text transform="translate(289.92,349.70) scale(1,1.065)">4</text>
<text transform="translate(301.60,349.70) scale(1,1.065)">0</text>
<text transform="translate(351.32,349.70) scale(1,1.065)">5</text>
<text transform="translate(363.00,349.70) scale(1,1.065)">0</text>
<text transform="translate(412.72,349.70) scale(1,1.065)">6</text>
<text transform="translate(424.40,349.70) scale(1,1.065)">0</text>
<path d="M46.54,305.80L44.70,305.80L44.70,294.16Q44.03,294.79 42.95,295.42Q41.86,296.04 41.00,296.36L41.00,294.59Q42.55,293.87 43.70,292.85Q44.86,291.82 45.34,290.86L46.54,290.86Z"/>
<text transform="translate(38.72,182.35) scale(1,1.065)">2</text>
<text transform="translate(38.72,58.90) scale(1,1.065)">3</text>
<text transform="translate(562.36,349.70) scale(1,1.065)">0</text>
<path d="M653.24,349.70L651.40,349.70L651.40,338.06Q650.73,338.69 649.65,339.32Q648.56,339.94 647.70,340.26L647.70,338.49Q649.25,337.77 650.40,336.75Q651.56,335.72 652.04,334.76L653.24,334.76Z"/>
<text transform="translate(657.10,349.70) scale(1,1.065)">0</text>
<text transform="translate(734.92,349.70) scale(1,1.065)">2</text>
<text transform="translate(746.60,349.70) scale(1,1.065)">0</text>
<text transform="translate(824.92,349.70) scale(1,1.065)">3</text>
<text transform="translate(836.60,349.70) scale(1,1.065)">0</text>
<text transform="translate(915.02,349.70) scale(1,1.065)">4</text>
<text transform="translate(926.70,349.70) scale(1,1.065)">0</text>
<path d="M559.24,318.40L557.40,318.40L557.40,306.76Q556.73,307.39 555.65,308.02Q554.56,308.64 553.70,308.96L553.70,307.19Q555.25,306.47 556.40,305.45Q557.56,304.42 558.04,303.46L559.24,303.46Z"/>
<text transform="translate(551.42,218.20) scale(1,1.065)">3</text>
<text transform="translate(551.42,118.00) scale(1,1.065)">5</text>
<text transform="translate(551.42,17.80) scale(1,1.065)">7</text>
<text transform="translate(309.76,753.10) scale(1,1.065)">0</text>
<path d="M389.32,753.10L387.48,753.10L387.48,741.46Q386.81,742.09 385.73,742.72Q384.64,743.34 383.78,743.66L383.78,741.89Q385.33,741.17 386.48,740.15Q387.64,739.12 388.12,738.16L389.32,738.16Z"/>
<text transform="translate(393.18,753.10) scale(1,1.065)">0</text>
<text transform="translate(459.08,753.10) scale(1,1.065)">2</text>
<text transform="translate(470.76,753.10) scale(1,1.065)">0</text>
<text transform="translate(536.66,753.10) scale(1,1.065)">3</text>
<text transform="translate(548.34,753.10) scale(1,1.065)">0</text>
<text transform="translate(614.24,753.10) scale(1,1.065)">4</text>
<text transform="translate(625.92,753.10) scale(1,1.065)">0</text>
<text transform="translate(691.82,753.10) scale(1,1.065)">5</text>
<text transform="translate(703.50,753.10) scale(1,1.065)">0</text>
<text transform="translate(300.62,694.80) scale(1,1.065)">2</text>
<text transform="translate(300.62,645.30) scale(1,1.065)">4</text>
<text transform="translate(300.62,595.80) scale(1,1.065)">6</text>
<text transform="translate(300.62,546.30) scale(1,1.065)">8</text>
<path d="M296.77,496.80L294.92,496.80L294.92,485.16Q294.25,485.79 293.17,486.42Q292.08,487.04 291.22,487.36L291.22,485.59Q292.77,484.87 293.93,483.85Q295.08,482.82 295.57,481.86L296.77,481.86Z"/>
<text transform="translate(300.62,496.80) scale(1,1.065)">0</text>
<path d="M296.77,447.30L294.92,447.30L294.92,435.66Q294.25,436.29 293.17,436.92Q292.08,437.54 291.22,437.86L291.22,436.09Q292.77,435.37 293.93,434.35Q295.08,433.32 295.57,432.36L296.77,432.36Z"/>
<text transform="translate(300.62,447.30) scale(1,1.065)">2</text>
</g>
<g class="s" font-size="25.5">
<text transform="translate(256.6,377.6) scale(1,1.015)" text-anchor="middle">Time (min)</text>
<text transform="translate(769.0,377.5) scale(1,1.015)" text-anchor="middle">Time (min)</text>
<text transform="translate(516.7,783.6) scale(1,1.015)" text-anchor="middle">Time (min)</text>
<text transform="translate(26.5,166.7) rotate(-90) scale(1,1.07)" text-anchor="middle">R/min{R}</text>
<text transform="translate(538.7,167.2) rotate(-90) scale(1,1.07)" text-anchor="middle">R/min{R}</text>
<text transform="translate(277,569.5) rotate(-90) scale(1,1.07)" text-anchor="middle">R/min{R}</text>
</g>
<g class="s" font-size="31.5">
<text x="487.45" y="36.5" text-anchor="middle">(a)</text>
<text x="1000.5" y="36.8" text-anchor="middle">(b)</text>
<text x="746.9" y="437.6" text-anchor="middle">(c)</text>
</g>
</svg>
</body></html>
